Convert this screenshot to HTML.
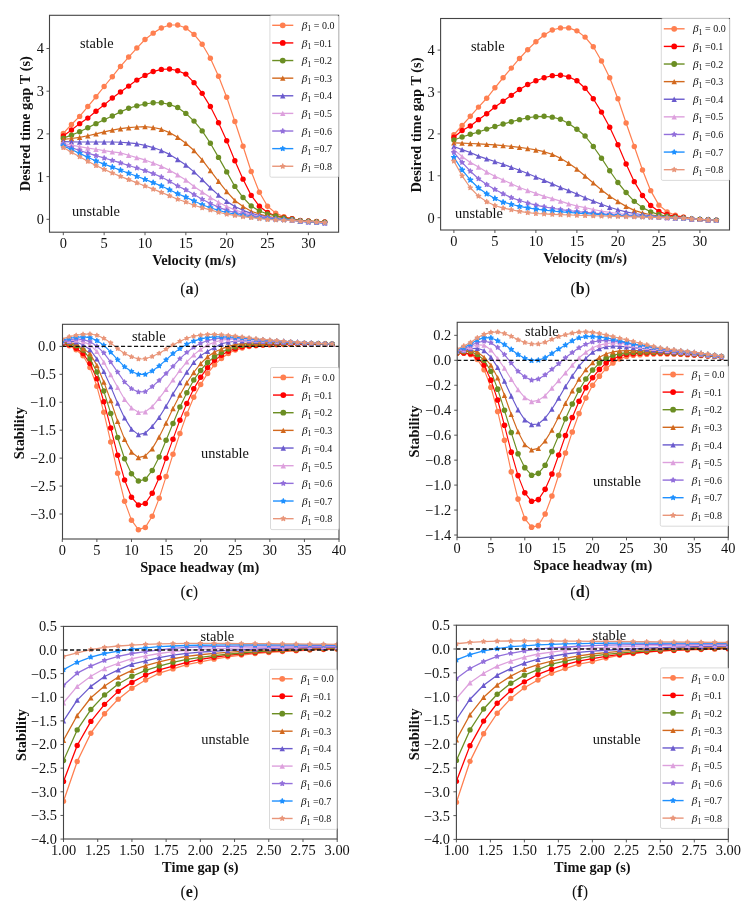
<!DOCTYPE html>
<html><head><meta charset="utf-8"><title>Figure</title>
<style>html,body{margin:0;padding:0;background:#fff;}svg{display:block;will-change:transform;}</style>
</head><body>
<svg width="754" height="911" viewBox="0 0 754 911">
<rect width="754" height="911" fill="#fff"/>
<clipPath id="clipa"><rect x="49.50" y="15.30" width="289.10" height="216.90"/></clipPath>
<g clip-path="url(#clipa)">
<polyline points="63.30,133.47 71.47,124.51 79.64,116.39 87.81,106.57 95.98,96.75 104.15,86.50 112.32,76.68 120.49,66.43 128.66,57.04 136.83,48.07 145.00,39.53 153.17,33.13 161.34,28.00 169.51,25.02 177.68,25.02 185.85,28.00 194.02,34.41 202.19,44.23 210.36,58.32 218.53,76.25 226.70,97.18 234.87,121.52 243.04,146.28 251.21,171.48 259.38,192.19 267.55,206.28 275.72,213.11 283.89,216.74 292.06,218.66 300.23,220.58 308.40,221.14 316.57,221.65 324.74,222.12" fill="none" stroke="#FF7F50" stroke-width="1.20" stroke-linejoin="round"/>
<circle cx="63.30" cy="133.47" r="2.70" fill="#FF7F50"/>
<circle cx="71.47" cy="124.51" r="2.70" fill="#FF7F50"/>
<circle cx="79.64" cy="116.39" r="2.70" fill="#FF7F50"/>
<circle cx="87.81" cy="106.57" r="2.70" fill="#FF7F50"/>
<circle cx="95.98" cy="96.75" r="2.70" fill="#FF7F50"/>
<circle cx="104.15" cy="86.50" r="2.70" fill="#FF7F50"/>
<circle cx="112.32" cy="76.68" r="2.70" fill="#FF7F50"/>
<circle cx="120.49" cy="66.43" r="2.70" fill="#FF7F50"/>
<circle cx="128.66" cy="57.04" r="2.70" fill="#FF7F50"/>
<circle cx="136.83" cy="48.07" r="2.70" fill="#FF7F50"/>
<circle cx="145.00" cy="39.53" r="2.70" fill="#FF7F50"/>
<circle cx="153.17" cy="33.13" r="2.70" fill="#FF7F50"/>
<circle cx="161.34" cy="28.00" r="2.70" fill="#FF7F50"/>
<circle cx="169.51" cy="25.02" r="2.70" fill="#FF7F50"/>
<circle cx="177.68" cy="25.02" r="2.70" fill="#FF7F50"/>
<circle cx="185.85" cy="28.00" r="2.70" fill="#FF7F50"/>
<circle cx="194.02" cy="34.41" r="2.70" fill="#FF7F50"/>
<circle cx="202.19" cy="44.23" r="2.70" fill="#FF7F50"/>
<circle cx="210.36" cy="58.32" r="2.70" fill="#FF7F50"/>
<circle cx="218.53" cy="76.25" r="2.70" fill="#FF7F50"/>
<circle cx="226.70" cy="97.18" r="2.70" fill="#FF7F50"/>
<circle cx="234.87" cy="121.52" r="2.70" fill="#FF7F50"/>
<circle cx="243.04" cy="146.28" r="2.70" fill="#FF7F50"/>
<circle cx="251.21" cy="171.48" r="2.70" fill="#FF7F50"/>
<circle cx="259.38" cy="192.19" r="2.70" fill="#FF7F50"/>
<circle cx="267.55" cy="206.28" r="2.70" fill="#FF7F50"/>
<circle cx="275.72" cy="213.11" r="2.70" fill="#FF7F50"/>
<circle cx="283.89" cy="216.74" r="2.70" fill="#FF7F50"/>
<circle cx="292.06" cy="218.66" r="2.70" fill="#FF7F50"/>
<circle cx="300.23" cy="220.58" r="2.70" fill="#FF7F50"/>
<circle cx="308.40" cy="221.14" r="2.70" fill="#FF7F50"/>
<circle cx="316.57" cy="221.65" r="2.70" fill="#FF7F50"/>
<circle cx="324.74" cy="222.12" r="2.70" fill="#FF7F50"/>
<polyline points="63.30,136.04 71.47,130.06 79.64,123.65 87.81,118.10 95.98,111.27 104.15,104.86 112.32,98.03 120.49,92.05 128.66,86.08 136.83,80.10 145.00,75.40 153.17,71.56 161.34,69.42 169.51,69.00 177.68,70.70 185.85,74.12 194.02,82.66 202.19,93.33 210.36,106.57 218.53,122.80 226.70,140.73 234.87,160.80 243.04,179.16 251.21,195.39 259.38,206.28 267.55,212.55 275.72,215.88 283.89,217.38 292.06,218.79 300.23,220.50 308.40,221.05 316.57,221.56 324.74,222.03" fill="none" stroke="#FF0000" stroke-width="1.20" stroke-linejoin="round"/>
<circle cx="63.30" cy="136.04" r="2.70" fill="#FF0000"/>
<circle cx="71.47" cy="130.06" r="2.70" fill="#FF0000"/>
<circle cx="79.64" cy="123.65" r="2.70" fill="#FF0000"/>
<circle cx="87.81" cy="118.10" r="2.70" fill="#FF0000"/>
<circle cx="95.98" cy="111.27" r="2.70" fill="#FF0000"/>
<circle cx="104.15" cy="104.86" r="2.70" fill="#FF0000"/>
<circle cx="112.32" cy="98.03" r="2.70" fill="#FF0000"/>
<circle cx="120.49" cy="92.05" r="2.70" fill="#FF0000"/>
<circle cx="128.66" cy="86.08" r="2.70" fill="#FF0000"/>
<circle cx="136.83" cy="80.10" r="2.70" fill="#FF0000"/>
<circle cx="145.00" cy="75.40" r="2.70" fill="#FF0000"/>
<circle cx="153.17" cy="71.56" r="2.70" fill="#FF0000"/>
<circle cx="161.34" cy="69.42" r="2.70" fill="#FF0000"/>
<circle cx="169.51" cy="69.00" r="2.70" fill="#FF0000"/>
<circle cx="177.68" cy="70.70" r="2.70" fill="#FF0000"/>
<circle cx="185.85" cy="74.12" r="2.70" fill="#FF0000"/>
<circle cx="194.02" cy="82.66" r="2.70" fill="#FF0000"/>
<circle cx="202.19" cy="93.33" r="2.70" fill="#FF0000"/>
<circle cx="210.36" cy="106.57" r="2.70" fill="#FF0000"/>
<circle cx="218.53" cy="122.80" r="2.70" fill="#FF0000"/>
<circle cx="226.70" cy="140.73" r="2.70" fill="#FF0000"/>
<circle cx="234.87" cy="160.80" r="2.70" fill="#FF0000"/>
<circle cx="243.04" cy="179.16" r="2.70" fill="#FF0000"/>
<circle cx="251.21" cy="195.39" r="2.70" fill="#FF0000"/>
<circle cx="259.38" cy="206.28" r="2.70" fill="#FF0000"/>
<circle cx="267.55" cy="212.55" r="2.70" fill="#FF0000"/>
<circle cx="275.72" cy="215.88" r="2.70" fill="#FF0000"/>
<circle cx="283.89" cy="217.38" r="2.70" fill="#FF0000"/>
<circle cx="292.06" cy="218.79" r="2.70" fill="#FF0000"/>
<circle cx="300.23" cy="220.50" r="2.70" fill="#FF0000"/>
<circle cx="308.40" cy="221.05" r="2.70" fill="#FF0000"/>
<circle cx="316.57" cy="221.56" r="2.70" fill="#FF0000"/>
<circle cx="324.74" cy="222.03" r="2.70" fill="#FF0000"/>
<polyline points="63.30,138.17 71.47,135.17 79.64,131.77 87.81,127.80 95.98,123.65 104.15,119.78 112.32,115.97 120.49,111.85 128.66,108.28 136.83,105.85 145.00,104.01 153.17,102.73 161.34,102.73 169.51,104.44 177.68,107.43 185.85,113.40 194.02,121.09 202.19,130.91 210.36,143.29 218.53,157.39 226.70,171.90 234.87,186.42 243.04,197.52 251.21,206.06 259.38,210.97 267.55,213.96 275.72,215.88 283.89,218.02 292.06,219.09 300.23,220.58 308.40,221.14 316.57,221.65 324.74,222.12" fill="none" stroke="#6B8E23" stroke-width="1.20" stroke-linejoin="round"/>
<circle cx="63.30" cy="138.17" r="2.70" fill="#6B8E23"/>
<circle cx="71.47" cy="135.17" r="2.70" fill="#6B8E23"/>
<circle cx="79.64" cy="131.77" r="2.70" fill="#6B8E23"/>
<circle cx="87.81" cy="127.80" r="2.70" fill="#6B8E23"/>
<circle cx="95.98" cy="123.65" r="2.70" fill="#6B8E23"/>
<circle cx="104.15" cy="119.78" r="2.70" fill="#6B8E23"/>
<circle cx="112.32" cy="115.97" r="2.70" fill="#6B8E23"/>
<circle cx="120.49" cy="111.85" r="2.70" fill="#6B8E23"/>
<circle cx="128.66" cy="108.28" r="2.70" fill="#6B8E23"/>
<circle cx="136.83" cy="105.85" r="2.70" fill="#6B8E23"/>
<circle cx="145.00" cy="104.01" r="2.70" fill="#6B8E23"/>
<circle cx="153.17" cy="102.73" r="2.70" fill="#6B8E23"/>
<circle cx="161.34" cy="102.73" r="2.70" fill="#6B8E23"/>
<circle cx="169.51" cy="104.44" r="2.70" fill="#6B8E23"/>
<circle cx="177.68" cy="107.43" r="2.70" fill="#6B8E23"/>
<circle cx="185.85" cy="113.40" r="2.70" fill="#6B8E23"/>
<circle cx="194.02" cy="121.09" r="2.70" fill="#6B8E23"/>
<circle cx="202.19" cy="130.91" r="2.70" fill="#6B8E23"/>
<circle cx="210.36" cy="143.29" r="2.70" fill="#6B8E23"/>
<circle cx="218.53" cy="157.39" r="2.70" fill="#6B8E23"/>
<circle cx="226.70" cy="171.90" r="2.70" fill="#6B8E23"/>
<circle cx="234.87" cy="186.42" r="2.70" fill="#6B8E23"/>
<circle cx="243.04" cy="197.52" r="2.70" fill="#6B8E23"/>
<circle cx="251.21" cy="206.06" r="2.70" fill="#6B8E23"/>
<circle cx="259.38" cy="210.97" r="2.70" fill="#6B8E23"/>
<circle cx="267.55" cy="213.96" r="2.70" fill="#6B8E23"/>
<circle cx="275.72" cy="215.88" r="2.70" fill="#6B8E23"/>
<circle cx="283.89" cy="218.02" r="2.70" fill="#6B8E23"/>
<circle cx="292.06" cy="219.09" r="2.70" fill="#6B8E23"/>
<circle cx="300.23" cy="220.58" r="2.70" fill="#6B8E23"/>
<circle cx="308.40" cy="221.14" r="2.70" fill="#6B8E23"/>
<circle cx="316.57" cy="221.65" r="2.70" fill="#6B8E23"/>
<circle cx="324.74" cy="222.12" r="2.70" fill="#6B8E23"/>
<polyline points="63.30,139.45 71.47,138.52 79.64,137.32 87.81,135.73 95.98,133.90 104.15,131.89 112.32,130.06 120.49,128.70 128.66,127.71 136.83,126.99 145.00,126.64 153.17,127.50 161.34,129.20 169.51,132.62 177.68,137.32 185.85,143.29 194.02,150.55 202.19,159.95 210.36,170.62 218.53,181.30 226.70,191.55 234.87,200.51 243.04,206.49 251.21,211.19 259.38,214.18 267.55,216.31 275.72,217.81 283.89,218.87 292.06,219.64 300.23,220.79 308.40,221.35 316.57,221.86 324.74,222.33" fill="none" stroke="#D2691E" stroke-width="1.20" stroke-linejoin="round"/>
<polygon points="63.30,136.75 60.60,142.15 66.00,142.15" fill="#D2691E"/>
<polygon points="71.47,135.82 68.77,141.22 74.17,141.22" fill="#D2691E"/>
<polygon points="79.64,134.62 76.94,140.02 82.34,140.02" fill="#D2691E"/>
<polygon points="87.81,133.03 85.11,138.43 90.51,138.43" fill="#D2691E"/>
<polygon points="95.98,131.20 93.28,136.60 98.68,136.60" fill="#D2691E"/>
<polygon points="104.15,129.19 101.45,134.59 106.85,134.59" fill="#D2691E"/>
<polygon points="112.32,127.36 109.62,132.76 115.02,132.76" fill="#D2691E"/>
<polygon points="120.49,126.00 117.79,131.40 123.19,131.40" fill="#D2691E"/>
<polygon points="128.66,125.01 125.96,130.41 131.36,130.41" fill="#D2691E"/>
<polygon points="136.83,124.29 134.13,129.69 139.53,129.69" fill="#D2691E"/>
<polygon points="145.00,123.94 142.30,129.34 147.70,129.34" fill="#D2691E"/>
<polygon points="153.17,124.80 150.47,130.19 155.87,130.19" fill="#D2691E"/>
<polygon points="161.34,126.50 158.64,131.90 164.04,131.90" fill="#D2691E"/>
<polygon points="169.51,129.92 166.81,135.32 172.21,135.32" fill="#D2691E"/>
<polygon points="177.68,134.62 174.98,140.02 180.38,140.02" fill="#D2691E"/>
<polygon points="185.85,140.59 183.15,145.99 188.55,145.99" fill="#D2691E"/>
<polygon points="194.02,147.85 191.32,153.25 196.72,153.25" fill="#D2691E"/>
<polygon points="202.19,157.25 199.49,162.65 204.89,162.65" fill="#D2691E"/>
<polygon points="210.36,167.92 207.66,173.32 213.06,173.32" fill="#D2691E"/>
<polygon points="218.53,178.60 215.83,184.00 221.23,184.00" fill="#D2691E"/>
<polygon points="226.70,188.85 224.00,194.25 229.40,194.25" fill="#D2691E"/>
<polygon points="234.87,197.81 232.17,203.21 237.57,203.21" fill="#D2691E"/>
<polygon points="243.04,203.79 240.34,209.19 245.74,209.19" fill="#D2691E"/>
<polygon points="251.21,208.49 248.51,213.89 253.91,213.89" fill="#D2691E"/>
<polygon points="259.38,211.48 256.68,216.88 262.08,216.88" fill="#D2691E"/>
<polygon points="267.55,213.61 264.85,219.01 270.25,219.01" fill="#D2691E"/>
<polygon points="275.72,215.11 273.02,220.51 278.42,220.51" fill="#D2691E"/>
<polygon points="283.89,216.17 281.19,221.57 286.59,221.57" fill="#D2691E"/>
<polygon points="292.06,216.94 289.36,222.34 294.76,222.34" fill="#D2691E"/>
<polygon points="300.23,218.09 297.53,223.49 302.93,223.49" fill="#D2691E"/>
<polygon points="308.40,218.65 305.70,224.05 311.10,224.05" fill="#D2691E"/>
<polygon points="316.57,219.16 313.87,224.56 319.27,224.56" fill="#D2691E"/>
<polygon points="324.74,219.63 322.04,225.03 327.44,225.03" fill="#D2691E"/>
<polyline points="63.30,141.59 71.47,141.88 79.64,142.01 87.81,142.01 95.98,142.01 104.15,142.01 112.32,142.01 120.49,142.23 128.66,142.87 136.83,143.72 145.00,145.43 153.17,147.56 161.34,150.55 169.51,154.40 177.68,159.52 185.85,165.07 194.02,171.90 202.19,179.59 210.36,187.70 218.53,195.17 226.70,201.37 234.87,206.49 243.04,210.33 251.21,213.32 259.38,215.46 267.55,217.17 275.72,218.45 283.89,219.30 292.06,219.94 300.23,221.01 308.40,221.56 316.57,222.08 324.74,222.55" fill="none" stroke="#6A5ACD" stroke-width="1.20" stroke-linejoin="round"/>
<polygon points="63.30,138.89 60.60,144.29 66.00,144.29" fill="#6A5ACD"/>
<polygon points="71.47,139.18 68.77,144.58 74.17,144.58" fill="#6A5ACD"/>
<polygon points="79.64,139.31 76.94,144.71 82.34,144.71" fill="#6A5ACD"/>
<polygon points="87.81,139.31 85.11,144.71 90.51,144.71" fill="#6A5ACD"/>
<polygon points="95.98,139.31 93.28,144.71 98.68,144.71" fill="#6A5ACD"/>
<polygon points="104.15,139.31 101.45,144.71 106.85,144.71" fill="#6A5ACD"/>
<polygon points="112.32,139.31 109.62,144.71 115.02,144.71" fill="#6A5ACD"/>
<polygon points="120.49,139.53 117.79,144.93 123.19,144.93" fill="#6A5ACD"/>
<polygon points="128.66,140.17 125.96,145.57 131.36,145.57" fill="#6A5ACD"/>
<polygon points="136.83,141.02 134.13,146.42 139.53,146.42" fill="#6A5ACD"/>
<polygon points="145.00,142.73 142.30,148.13 147.70,148.13" fill="#6A5ACD"/>
<polygon points="153.17,144.86 150.47,150.26 155.87,150.26" fill="#6A5ACD"/>
<polygon points="161.34,147.85 158.64,153.25 164.04,153.25" fill="#6A5ACD"/>
<polygon points="169.51,151.70 166.81,157.10 172.21,157.10" fill="#6A5ACD"/>
<polygon points="177.68,156.82 174.98,162.22 180.38,162.22" fill="#6A5ACD"/>
<polygon points="185.85,162.37 183.15,167.77 188.55,167.77" fill="#6A5ACD"/>
<polygon points="194.02,169.20 191.32,174.60 196.72,174.60" fill="#6A5ACD"/>
<polygon points="202.19,176.89 199.49,182.29 204.89,182.29" fill="#6A5ACD"/>
<polygon points="210.36,185.00 207.66,190.40 213.06,190.40" fill="#6A5ACD"/>
<polygon points="218.53,192.47 215.83,197.87 221.23,197.87" fill="#6A5ACD"/>
<polygon points="226.70,198.67 224.00,204.07 229.40,204.07" fill="#6A5ACD"/>
<polygon points="234.87,203.79 232.17,209.19 237.57,209.19" fill="#6A5ACD"/>
<polygon points="243.04,207.63 240.34,213.03 245.74,213.03" fill="#6A5ACD"/>
<polygon points="251.21,210.62 248.51,216.02 253.91,216.02" fill="#6A5ACD"/>
<polygon points="259.38,212.76 256.68,218.16 262.08,218.16" fill="#6A5ACD"/>
<polygon points="267.55,214.47 264.85,219.87 270.25,219.87" fill="#6A5ACD"/>
<polygon points="275.72,215.75 273.02,221.15 278.42,221.15" fill="#6A5ACD"/>
<polygon points="283.89,216.60 281.19,222.00 286.59,222.00" fill="#6A5ACD"/>
<polygon points="292.06,217.24 289.36,222.64 294.76,222.64" fill="#6A5ACD"/>
<polygon points="300.23,218.31 297.53,223.71 302.93,223.71" fill="#6A5ACD"/>
<polygon points="308.40,218.86 305.70,224.26 311.10,224.26" fill="#6A5ACD"/>
<polygon points="316.57,219.38 313.87,224.78 319.27,224.78" fill="#6A5ACD"/>
<polygon points="324.74,219.85 322.04,225.25 327.44,225.25" fill="#6A5ACD"/>
<polyline points="63.30,143.29 71.47,145.12 79.64,146.71 87.81,148.04 95.98,149.27 104.15,150.58 112.32,151.83 120.49,152.90 128.66,155.25 136.83,157.60 145.00,159.95 153.17,162.94 161.34,166.35 169.51,170.28 177.68,174.89 185.85,180.02 194.02,186.42 202.19,191.97 210.36,197.52 218.53,202.22 226.70,206.49 234.87,209.91 243.04,212.47 251.21,214.60 259.38,216.31 267.55,217.59 275.72,218.66 283.89,219.30 292.06,219.94 300.23,221.35 308.40,221.90 316.57,222.42 324.74,222.89" fill="none" stroke="#DDA0DD" stroke-width="1.20" stroke-linejoin="round"/>
<polygon points="63.30,140.59 60.60,145.99 66.00,145.99" fill="#DDA0DD"/>
<polygon points="71.47,142.42 68.77,147.82 74.17,147.82" fill="#DDA0DD"/>
<polygon points="79.64,144.01 76.94,149.41 82.34,149.41" fill="#DDA0DD"/>
<polygon points="87.81,145.34 85.11,150.74 90.51,150.74" fill="#DDA0DD"/>
<polygon points="95.98,146.57 93.28,151.97 98.68,151.97" fill="#DDA0DD"/>
<polygon points="104.15,147.88 101.45,153.28 106.85,153.28" fill="#DDA0DD"/>
<polygon points="112.32,149.13 109.62,154.53 115.02,154.53" fill="#DDA0DD"/>
<polygon points="120.49,150.20 117.79,155.60 123.19,155.60" fill="#DDA0DD"/>
<polygon points="128.66,152.55 125.96,157.95 131.36,157.95" fill="#DDA0DD"/>
<polygon points="136.83,154.90 134.13,160.30 139.53,160.30" fill="#DDA0DD"/>
<polygon points="145.00,157.25 142.30,162.65 147.70,162.65" fill="#DDA0DD"/>
<polygon points="153.17,160.24 150.47,165.64 155.87,165.64" fill="#DDA0DD"/>
<polygon points="161.34,163.65 158.64,169.05 164.04,169.05" fill="#DDA0DD"/>
<polygon points="169.51,167.58 166.81,172.98 172.21,172.98" fill="#DDA0DD"/>
<polygon points="177.68,172.19 174.98,177.59 180.38,177.59" fill="#DDA0DD"/>
<polygon points="185.85,177.32 183.15,182.72 188.55,182.72" fill="#DDA0DD"/>
<polygon points="194.02,183.72 191.32,189.12 196.72,189.12" fill="#DDA0DD"/>
<polygon points="202.19,189.27 199.49,194.67 204.89,194.67" fill="#DDA0DD"/>
<polygon points="210.36,194.82 207.66,200.22 213.06,200.22" fill="#DDA0DD"/>
<polygon points="218.53,199.52 215.83,204.92 221.23,204.92" fill="#DDA0DD"/>
<polygon points="226.70,203.79 224.00,209.19 229.40,209.19" fill="#DDA0DD"/>
<polygon points="234.87,207.21 232.17,212.61 237.57,212.61" fill="#DDA0DD"/>
<polygon points="243.04,209.77 240.34,215.17 245.74,215.17" fill="#DDA0DD"/>
<polygon points="251.21,211.90 248.51,217.30 253.91,217.30" fill="#DDA0DD"/>
<polygon points="259.38,213.61 256.68,219.01 262.08,219.01" fill="#DDA0DD"/>
<polygon points="267.55,214.89 264.85,220.29 270.25,220.29" fill="#DDA0DD"/>
<polygon points="275.72,215.96 273.02,221.36 278.42,221.36" fill="#DDA0DD"/>
<polygon points="283.89,216.60 281.19,222.00 286.59,222.00" fill="#DDA0DD"/>
<polygon points="292.06,217.24 289.36,222.64 294.76,222.64" fill="#DDA0DD"/>
<polygon points="300.23,218.65 297.53,224.05 302.93,224.05" fill="#DDA0DD"/>
<polygon points="308.40,219.20 305.70,224.60 311.10,224.60" fill="#DDA0DD"/>
<polygon points="316.57,219.72 313.87,225.12 319.27,225.12" fill="#DDA0DD"/>
<polygon points="324.74,220.19 322.04,225.59 327.44,225.59" fill="#DDA0DD"/>
<polyline points="63.30,144.57 71.47,147.68 79.64,150.55 87.81,153.19 95.98,155.68 104.15,158.03 112.32,160.37 120.49,162.91 128.66,165.50 136.83,167.99 145.00,170.62 153.17,173.61 161.34,177.03 169.51,181.30 177.68,185.99 185.85,189.84 194.02,194.53 202.19,199.23 210.36,203.50 218.53,207.13 226.70,210.33 234.87,212.47 243.04,214.18 251.21,215.88 259.38,217.17 267.55,218.02 275.72,218.87 283.89,219.51 292.06,220.07 300.23,221.52 308.40,222.08 316.57,222.59 324.74,223.06" fill="none" stroke="#9370DB" stroke-width="1.20" stroke-linejoin="round"/>
<polygon points="63.30,142.28 62.78,143.87 61.12,143.87 62.47,144.85 61.95,146.43 63.30,145.45 64.65,146.43 64.13,144.85 65.48,143.87 63.82,143.87" fill="#9370DB" stroke="#9370DB" stroke-width="1.25" stroke-linejoin="round"/>
<polygon points="71.47,145.38 70.95,146.97 69.29,146.97 70.64,147.95 70.12,149.53 71.47,148.55 72.82,149.53 72.30,147.95 73.65,146.97 71.99,146.97" fill="#9370DB" stroke="#9370DB" stroke-width="1.25" stroke-linejoin="round"/>
<polygon points="79.64,148.26 79.12,149.84 77.46,149.84 78.81,150.82 78.29,152.41 79.64,151.43 80.99,152.41 80.47,150.82 81.82,149.84 80.16,149.84" fill="#9370DB" stroke="#9370DB" stroke-width="1.25" stroke-linejoin="round"/>
<polygon points="87.81,150.90 87.29,152.48 85.63,152.48 86.98,153.46 86.46,155.05 87.81,154.07 89.16,155.05 88.64,153.46 89.99,152.48 88.33,152.48" fill="#9370DB" stroke="#9370DB" stroke-width="1.25" stroke-linejoin="round"/>
<polygon points="95.98,153.38 95.46,154.97 93.80,154.97 95.15,155.95 94.63,157.53 95.98,156.55 97.33,157.53 96.81,155.95 98.16,154.97 96.50,154.97" fill="#9370DB" stroke="#9370DB" stroke-width="1.25" stroke-linejoin="round"/>
<polygon points="104.15,155.73 103.63,157.32 101.97,157.32 103.32,158.30 102.80,159.88 104.15,158.90 105.50,159.88 104.98,158.30 106.33,157.32 104.67,157.32" fill="#9370DB" stroke="#9370DB" stroke-width="1.25" stroke-linejoin="round"/>
<polygon points="112.32,158.08 111.80,159.66 110.14,159.66 111.49,160.64 110.97,162.23 112.32,161.25 113.67,162.23 113.15,160.64 114.50,159.66 112.84,159.66" fill="#9370DB" stroke="#9370DB" stroke-width="1.25" stroke-linejoin="round"/>
<polygon points="120.49,160.61 119.97,162.20 118.31,162.20 119.66,163.18 119.14,164.76 120.49,163.78 121.84,164.76 121.32,163.18 122.67,162.20 121.01,162.20" fill="#9370DB" stroke="#9370DB" stroke-width="1.25" stroke-linejoin="round"/>
<polygon points="128.66,163.20 128.14,164.79 126.48,164.79 127.83,165.77 127.31,167.35 128.66,166.37 130.01,167.35 129.49,165.77 130.84,164.79 129.18,164.79" fill="#9370DB" stroke="#9370DB" stroke-width="1.25" stroke-linejoin="round"/>
<polygon points="136.83,165.69 136.31,167.28 134.65,167.28 136.00,168.26 135.48,169.84 136.83,168.86 138.18,169.84 137.66,168.26 139.01,167.28 137.35,167.28" fill="#9370DB" stroke="#9370DB" stroke-width="1.25" stroke-linejoin="round"/>
<polygon points="145.00,168.33 144.48,169.91 142.82,169.91 144.17,170.89 143.65,172.48 145.00,171.50 146.35,172.48 145.83,170.89 147.18,169.91 145.52,169.91" fill="#9370DB" stroke="#9370DB" stroke-width="1.25" stroke-linejoin="round"/>
<polygon points="153.17,171.31 152.65,172.90 150.99,172.90 152.34,173.88 151.82,175.46 153.17,174.48 154.52,175.46 154.00,173.88 155.35,172.90 153.69,172.90" fill="#9370DB" stroke="#9370DB" stroke-width="1.25" stroke-linejoin="round"/>
<polygon points="161.34,174.73 160.82,176.32 159.16,176.32 160.51,177.30 159.99,178.88 161.34,177.90 162.69,178.88 162.17,177.30 163.52,176.32 161.86,176.32" fill="#9370DB" stroke="#9370DB" stroke-width="1.25" stroke-linejoin="round"/>
<polygon points="169.51,179.00 168.99,180.59 167.33,180.59 168.68,181.57 168.16,183.15 169.51,182.17 170.86,183.15 170.34,181.57 171.69,180.59 170.03,180.59" fill="#9370DB" stroke="#9370DB" stroke-width="1.25" stroke-linejoin="round"/>
<polygon points="177.68,183.70 177.16,185.28 175.50,185.28 176.85,186.26 176.33,187.85 177.68,186.87 179.03,187.85 178.51,186.26 179.86,185.28 178.20,185.28" fill="#9370DB" stroke="#9370DB" stroke-width="1.25" stroke-linejoin="round"/>
<polygon points="185.85,187.54 185.33,189.13 183.67,189.13 185.02,190.11 184.50,191.69 185.85,190.71 187.20,191.69 186.68,190.11 188.03,189.13 186.37,189.13" fill="#9370DB" stroke="#9370DB" stroke-width="1.25" stroke-linejoin="round"/>
<polygon points="194.02,192.24 193.50,193.82 191.84,193.82 193.19,194.80 192.67,196.39 194.02,195.41 195.37,196.39 194.85,194.80 196.20,193.82 194.54,193.82" fill="#9370DB" stroke="#9370DB" stroke-width="1.25" stroke-linejoin="round"/>
<polygon points="202.19,196.94 201.67,198.52 200.01,198.52 201.36,199.50 200.84,201.09 202.19,200.11 203.54,201.09 203.02,199.50 204.37,198.52 202.71,198.52" fill="#9370DB" stroke="#9370DB" stroke-width="1.25" stroke-linejoin="round"/>
<polygon points="210.36,201.21 209.84,202.79 208.18,202.79 209.53,203.77 209.01,205.36 210.36,204.38 211.71,205.36 211.19,203.77 212.54,202.79 210.88,202.79" fill="#9370DB" stroke="#9370DB" stroke-width="1.25" stroke-linejoin="round"/>
<polygon points="218.53,204.84 218.01,206.42 216.35,206.42 217.70,207.40 217.18,208.99 218.53,208.01 219.88,208.99 219.36,207.40 220.71,206.42 219.05,206.42" fill="#9370DB" stroke="#9370DB" stroke-width="1.25" stroke-linejoin="round"/>
<polygon points="226.70,208.04 226.18,209.62 224.52,209.62 225.87,210.60 225.35,212.19 226.70,211.21 228.05,212.19 227.53,210.60 228.88,209.62 227.22,209.62" fill="#9370DB" stroke="#9370DB" stroke-width="1.25" stroke-linejoin="round"/>
<polygon points="234.87,210.17 234.35,211.76 232.69,211.76 234.04,212.74 233.52,214.32 234.87,213.34 236.22,214.32 235.70,212.74 237.05,211.76 235.39,211.76" fill="#9370DB" stroke="#9370DB" stroke-width="1.25" stroke-linejoin="round"/>
<polygon points="243.04,211.88 242.52,213.47 240.86,213.47 242.21,214.45 241.69,216.03 243.04,215.05 244.39,216.03 243.87,214.45 245.22,213.47 243.56,213.47" fill="#9370DB" stroke="#9370DB" stroke-width="1.25" stroke-linejoin="round"/>
<polygon points="251.21,213.59 250.69,215.17 249.03,215.17 250.38,216.15 249.86,217.74 251.21,216.76 252.56,217.74 252.04,216.15 253.39,215.17 251.73,215.17" fill="#9370DB" stroke="#9370DB" stroke-width="1.25" stroke-linejoin="round"/>
<polygon points="259.38,214.87 258.86,216.46 257.20,216.46 258.55,217.44 258.03,219.02 259.38,218.04 260.73,219.02 260.21,217.44 261.56,216.46 259.90,216.46" fill="#9370DB" stroke="#9370DB" stroke-width="1.25" stroke-linejoin="round"/>
<polygon points="267.55,215.72 267.03,217.31 265.37,217.31 266.72,218.29 266.20,219.88 267.55,218.90 268.90,219.88 268.38,218.29 269.73,217.31 268.07,217.31" fill="#9370DB" stroke="#9370DB" stroke-width="1.25" stroke-linejoin="round"/>
<polygon points="275.72,216.58 275.20,218.16 273.54,218.16 274.89,219.14 274.37,220.73 275.72,219.75 277.07,220.73 276.55,219.14 277.90,218.16 276.24,218.16" fill="#9370DB" stroke="#9370DB" stroke-width="1.25" stroke-linejoin="round"/>
<polygon points="283.89,217.22 283.37,218.80 281.71,218.80 283.06,219.78 282.54,221.37 283.89,220.39 285.24,221.37 284.72,219.78 286.07,218.80 284.41,218.80" fill="#9370DB" stroke="#9370DB" stroke-width="1.25" stroke-linejoin="round"/>
<polygon points="292.06,217.77 291.54,219.36 289.88,219.36 291.23,220.34 290.71,221.93 292.06,220.95 293.41,221.93 292.89,220.34 294.24,219.36 292.58,219.36" fill="#9370DB" stroke="#9370DB" stroke-width="1.25" stroke-linejoin="round"/>
<polygon points="300.23,219.23 299.71,220.81 298.05,220.81 299.40,221.79 298.88,223.38 300.23,222.40 301.58,223.38 301.06,221.79 302.41,220.81 300.75,220.81" fill="#9370DB" stroke="#9370DB" stroke-width="1.25" stroke-linejoin="round"/>
<polygon points="308.40,219.78 307.88,221.37 306.22,221.37 307.57,222.35 307.05,223.93 308.40,222.95 309.75,223.93 309.23,222.35 310.58,221.37 308.92,221.37" fill="#9370DB" stroke="#9370DB" stroke-width="1.25" stroke-linejoin="round"/>
<polygon points="316.57,220.29 316.05,221.88 314.39,221.88 315.74,222.86 315.22,224.44 316.57,223.46 317.92,224.44 317.40,222.86 318.75,221.88 317.09,221.88" fill="#9370DB" stroke="#9370DB" stroke-width="1.25" stroke-linejoin="round"/>
<polygon points="324.74,220.76 324.22,222.35 322.56,222.35 323.91,223.33 323.39,224.91 324.74,223.93 326.09,224.91 325.57,223.33 326.92,222.35 325.26,222.35" fill="#9370DB" stroke="#9370DB" stroke-width="1.25" stroke-linejoin="round"/>
<polyline points="63.30,145.86 71.47,149.57 79.64,153.33 87.81,157.27 95.98,161.01 104.15,164.15 112.32,167.12 120.49,170.20 128.66,173.27 136.83,176.29 145.00,179.38 153.17,182.59 161.34,185.99 169.51,189.83 177.68,193.68 185.85,197.10 194.02,200.94 202.19,204.78 210.36,207.77 218.53,210.33 226.70,212.47 234.87,214.18 243.04,215.67 251.21,216.95 259.38,218.02 267.55,218.87 275.72,219.30 283.89,219.73 292.06,220.15 300.23,221.26 308.40,221.82 316.57,222.33 324.74,222.80" fill="none" stroke="#1E90FF" stroke-width="1.20" stroke-linejoin="round"/>
<polygon points="63.30,143.29 62.72,145.06 60.86,145.06 62.37,146.16 61.79,147.93 63.30,146.84 64.81,147.93 64.23,146.16 65.74,145.06 63.88,145.06" fill="#1E90FF" stroke="#1E90FF" stroke-width="1.25" stroke-linejoin="round"/>
<polygon points="71.47,147.00 70.89,148.77 69.03,148.77 70.54,149.87 69.96,151.64 71.47,150.55 72.98,151.64 72.40,149.87 73.91,148.77 72.05,148.77" fill="#1E90FF" stroke="#1E90FF" stroke-width="1.25" stroke-linejoin="round"/>
<polygon points="79.64,150.76 79.06,152.54 77.20,152.54 78.71,153.63 78.13,155.40 79.64,154.31 81.15,155.40 80.57,153.63 82.08,152.54 80.22,152.54" fill="#1E90FF" stroke="#1E90FF" stroke-width="1.25" stroke-linejoin="round"/>
<polygon points="87.81,154.70 87.23,156.48 85.37,156.48 86.88,157.57 86.30,159.34 87.81,158.25 89.32,159.34 88.74,157.57 90.25,156.48 88.39,156.48" fill="#1E90FF" stroke="#1E90FF" stroke-width="1.25" stroke-linejoin="round"/>
<polygon points="95.98,158.45 95.40,160.22 93.54,160.22 95.05,161.32 94.47,163.09 95.98,161.99 97.49,163.09 96.91,161.32 98.42,160.22 96.56,160.22" fill="#1E90FF" stroke="#1E90FF" stroke-width="1.25" stroke-linejoin="round"/>
<polygon points="104.15,161.59 103.57,163.36 101.71,163.36 103.22,164.46 102.64,166.23 104.15,165.13 105.66,166.23 105.08,164.46 106.59,163.36 104.73,163.36" fill="#1E90FF" stroke="#1E90FF" stroke-width="1.25" stroke-linejoin="round"/>
<polygon points="112.32,164.56 111.74,166.33 109.88,166.33 111.39,167.42 110.81,169.20 112.32,168.10 113.83,169.20 113.25,167.42 114.76,166.33 112.90,166.33" fill="#1E90FF" stroke="#1E90FF" stroke-width="1.25" stroke-linejoin="round"/>
<polygon points="120.49,167.63 119.91,169.40 118.05,169.40 119.56,170.50 118.98,172.27 120.49,171.17 122.00,172.27 121.42,170.50 122.93,169.40 121.07,169.40" fill="#1E90FF" stroke="#1E90FF" stroke-width="1.25" stroke-linejoin="round"/>
<polygon points="128.66,170.70 128.08,172.48 126.22,172.48 127.73,173.57 127.15,175.34 128.66,174.25 130.17,175.34 129.59,173.57 131.10,172.48 129.24,172.48" fill="#1E90FF" stroke="#1E90FF" stroke-width="1.25" stroke-linejoin="round"/>
<polygon points="136.83,173.73 136.25,175.50 134.39,175.50 135.90,176.60 135.32,178.37 136.83,177.27 138.34,178.37 137.76,176.60 139.27,175.50 137.41,175.50" fill="#1E90FF" stroke="#1E90FF" stroke-width="1.25" stroke-linejoin="round"/>
<polygon points="145.00,176.81 144.42,178.58 142.56,178.58 144.07,179.68 143.49,181.45 145.00,180.36 146.51,181.45 145.93,179.68 147.44,178.58 145.58,178.58" fill="#1E90FF" stroke="#1E90FF" stroke-width="1.25" stroke-linejoin="round"/>
<polygon points="153.17,180.03 152.59,181.80 150.73,181.80 152.24,182.89 151.66,184.67 153.17,183.57 154.68,184.67 154.10,182.89 155.61,181.80 153.75,181.80" fill="#1E90FF" stroke="#1E90FF" stroke-width="1.25" stroke-linejoin="round"/>
<polygon points="161.34,183.43 160.76,185.20 158.90,185.20 160.41,186.30 159.83,188.07 161.34,186.97 162.85,188.07 162.27,186.30 163.78,185.20 161.92,185.20" fill="#1E90FF" stroke="#1E90FF" stroke-width="1.25" stroke-linejoin="round"/>
<polygon points="169.51,187.26 168.93,189.04 167.07,189.04 168.58,190.13 168.00,191.90 169.51,190.81 171.02,191.90 170.44,190.13 171.95,189.04 170.09,189.04" fill="#1E90FF" stroke="#1E90FF" stroke-width="1.25" stroke-linejoin="round"/>
<polygon points="177.68,191.12 177.10,192.89 175.24,192.89 176.75,193.98 176.17,195.76 177.68,194.66 179.19,195.76 178.61,193.98 180.12,192.89 178.26,192.89" fill="#1E90FF" stroke="#1E90FF" stroke-width="1.25" stroke-linejoin="round"/>
<polygon points="185.85,194.53 185.27,196.30 183.41,196.30 184.92,197.40 184.34,199.17 185.85,198.08 187.36,199.17 186.78,197.40 188.29,196.30 186.43,196.30" fill="#1E90FF" stroke="#1E90FF" stroke-width="1.25" stroke-linejoin="round"/>
<polygon points="194.02,198.37 193.44,200.15 191.58,200.15 193.09,201.24 192.51,203.01 194.02,201.92 195.53,203.01 194.95,201.24 196.46,200.15 194.60,200.15" fill="#1E90FF" stroke="#1E90FF" stroke-width="1.25" stroke-linejoin="round"/>
<polygon points="202.19,202.22 201.61,203.99 199.75,203.99 201.26,205.08 200.68,206.86 202.19,205.76 203.70,206.86 203.12,205.08 204.63,203.99 202.77,203.99" fill="#1E90FF" stroke="#1E90FF" stroke-width="1.25" stroke-linejoin="round"/>
<polygon points="210.36,205.21 209.78,206.98 207.92,206.98 209.43,208.07 208.85,209.85 210.36,208.75 211.87,209.85 211.29,208.07 212.80,206.98 210.94,206.98" fill="#1E90FF" stroke="#1E90FF" stroke-width="1.25" stroke-linejoin="round"/>
<polygon points="218.53,207.77 217.95,209.54 216.09,209.54 217.60,210.64 217.02,212.41 218.53,211.31 220.04,212.41 219.46,210.64 220.97,209.54 219.11,209.54" fill="#1E90FF" stroke="#1E90FF" stroke-width="1.25" stroke-linejoin="round"/>
<polygon points="226.70,209.90 226.12,211.68 224.26,211.68 225.77,212.77 225.19,214.54 226.70,213.45 228.21,214.54 227.63,212.77 229.14,211.68 227.28,211.68" fill="#1E90FF" stroke="#1E90FF" stroke-width="1.25" stroke-linejoin="round"/>
<polygon points="234.87,211.61 234.29,213.38 232.43,213.38 233.94,214.48 233.36,216.25 234.87,215.16 236.38,216.25 235.80,214.48 237.31,213.38 235.45,213.38" fill="#1E90FF" stroke="#1E90FF" stroke-width="1.25" stroke-linejoin="round"/>
<polygon points="243.04,213.11 242.46,214.88 240.60,214.88 242.11,215.97 241.53,217.75 243.04,216.65 244.55,217.75 243.97,215.97 245.48,214.88 243.62,214.88" fill="#1E90FF" stroke="#1E90FF" stroke-width="1.25" stroke-linejoin="round"/>
<polygon points="251.21,214.39 250.63,216.16 248.77,216.16 250.28,217.25 249.70,219.03 251.21,217.93 252.72,219.03 252.14,217.25 253.65,216.16 251.79,216.16" fill="#1E90FF" stroke="#1E90FF" stroke-width="1.25" stroke-linejoin="round"/>
<polygon points="259.38,215.45 258.80,217.23 256.94,217.23 258.45,218.32 257.87,220.09 259.38,219.00 260.89,220.09 260.31,218.32 261.82,217.23 259.96,217.23" fill="#1E90FF" stroke="#1E90FF" stroke-width="1.25" stroke-linejoin="round"/>
<polygon points="267.55,216.31 266.97,218.08 265.11,218.08 266.62,219.18 266.04,220.95 267.55,219.85 269.06,220.95 268.48,219.18 269.99,218.08 268.13,218.08" fill="#1E90FF" stroke="#1E90FF" stroke-width="1.25" stroke-linejoin="round"/>
<polygon points="275.72,216.74 275.14,218.51 273.28,218.51 274.79,219.60 274.21,221.38 275.72,220.28 277.23,221.38 276.65,219.60 278.16,218.51 276.30,218.51" fill="#1E90FF" stroke="#1E90FF" stroke-width="1.25" stroke-linejoin="round"/>
<polygon points="283.89,217.16 283.31,218.93 281.45,218.93 282.96,220.03 282.38,221.80 283.89,220.71 285.40,221.80 284.82,220.03 286.33,218.93 284.47,218.93" fill="#1E90FF" stroke="#1E90FF" stroke-width="1.25" stroke-linejoin="round"/>
<polygon points="292.06,217.59 291.48,219.36 289.62,219.36 291.13,220.46 290.55,222.23 292.06,221.13 293.57,222.23 292.99,220.46 294.50,219.36 292.64,219.36" fill="#1E90FF" stroke="#1E90FF" stroke-width="1.25" stroke-linejoin="round"/>
<polygon points="300.23,218.70 299.65,220.47 297.79,220.47 299.30,221.57 298.72,223.34 300.23,222.24 301.74,223.34 301.16,221.57 302.67,220.47 300.81,220.47" fill="#1E90FF" stroke="#1E90FF" stroke-width="1.25" stroke-linejoin="round"/>
<polygon points="308.40,219.25 307.82,221.03 305.96,221.03 307.47,222.12 306.89,223.89 308.40,222.80 309.91,223.89 309.33,222.12 310.84,221.03 308.98,221.03" fill="#1E90FF" stroke="#1E90FF" stroke-width="1.25" stroke-linejoin="round"/>
<polygon points="316.57,219.77 315.99,221.54 314.13,221.54 315.64,222.63 315.06,224.41 316.57,223.31 318.08,224.41 317.50,222.63 319.01,221.54 317.15,221.54" fill="#1E90FF" stroke="#1E90FF" stroke-width="1.25" stroke-linejoin="round"/>
<polygon points="324.74,220.24 324.16,222.01 322.30,222.01 323.81,223.10 323.23,224.88 324.74,223.78 326.25,224.88 325.67,223.10 327.18,222.01 325.32,222.01" fill="#1E90FF" stroke="#1E90FF" stroke-width="1.25" stroke-linejoin="round"/>
<polyline points="63.30,147.56 71.47,152.20 79.64,156.74 87.81,161.28 95.98,165.58 104.15,169.41 112.32,172.97 120.49,176.34 128.66,179.59 136.83,182.80 145.00,185.99 153.17,189.17 161.34,192.40 169.51,195.81 177.68,199.23 185.85,202.01 194.02,205.21 202.19,207.77 210.36,209.91 218.53,212.25 226.70,214.18 234.87,215.46 243.04,216.74 251.21,217.59 259.38,218.66 267.55,219.51 275.72,219.94 283.89,220.24 292.06,220.45 300.23,221.09 308.40,221.65 316.57,222.16 324.74,222.63" fill="none" stroke="#E9967A" stroke-width="1.20" stroke-linejoin="round"/>
<polygon points="63.30,145.27 62.78,146.85 61.12,146.85 62.47,147.83 61.95,149.42 63.30,148.44 64.65,149.42 64.13,147.83 65.48,146.85 63.82,146.85" fill="#E9967A" stroke="#E9967A" stroke-width="1.25" stroke-linejoin="round"/>
<polygon points="71.47,149.90 70.95,151.49 69.29,151.49 70.64,152.47 70.12,154.05 71.47,153.07 72.82,154.05 72.30,152.47 73.65,151.49 71.99,151.49" fill="#E9967A" stroke="#E9967A" stroke-width="1.25" stroke-linejoin="round"/>
<polygon points="79.64,154.45 79.12,156.04 77.46,156.04 78.81,157.02 78.29,158.60 79.64,157.62 80.99,158.60 80.47,157.02 81.82,156.04 80.16,156.04" fill="#E9967A" stroke="#E9967A" stroke-width="1.25" stroke-linejoin="round"/>
<polygon points="87.81,158.99 87.29,160.57 85.63,160.57 86.98,161.55 86.46,163.14 87.81,162.16 89.16,163.14 88.64,161.55 89.99,160.57 88.33,160.57" fill="#E9967A" stroke="#E9967A" stroke-width="1.25" stroke-linejoin="round"/>
<polygon points="95.98,163.29 95.46,164.87 93.80,164.87 95.15,165.85 94.63,167.44 95.98,166.46 97.33,167.44 96.81,165.85 98.16,164.87 96.50,164.87" fill="#E9967A" stroke="#E9967A" stroke-width="1.25" stroke-linejoin="round"/>
<polygon points="104.15,167.11 103.63,168.70 101.97,168.70 103.32,169.68 102.80,171.27 104.15,170.29 105.50,171.27 104.98,169.68 106.33,168.70 104.67,168.70" fill="#E9967A" stroke="#E9967A" stroke-width="1.25" stroke-linejoin="round"/>
<polygon points="112.32,170.68 111.80,172.26 110.14,172.26 111.49,173.24 110.97,174.83 112.32,173.85 113.67,174.83 113.15,173.24 114.50,172.26 112.84,172.26" fill="#E9967A" stroke="#E9967A" stroke-width="1.25" stroke-linejoin="round"/>
<polygon points="120.49,174.04 119.97,175.63 118.31,175.63 119.66,176.61 119.14,178.20 120.49,177.22 121.84,178.20 121.32,176.61 122.67,175.63 121.01,175.63" fill="#E9967A" stroke="#E9967A" stroke-width="1.25" stroke-linejoin="round"/>
<polygon points="128.66,177.29 128.14,178.88 126.48,178.88 127.83,179.86 127.31,181.45 128.66,180.47 130.01,181.45 129.49,179.86 130.84,178.88 129.18,178.88" fill="#E9967A" stroke="#E9967A" stroke-width="1.25" stroke-linejoin="round"/>
<polygon points="136.83,180.51 136.31,182.10 134.65,182.10 136.00,183.08 135.48,184.66 136.83,183.68 138.18,184.66 137.66,183.08 139.01,182.10 137.35,182.10" fill="#E9967A" stroke="#E9967A" stroke-width="1.25" stroke-linejoin="round"/>
<polygon points="145.00,183.70 144.48,185.28 142.82,185.28 144.17,186.26 143.65,187.85 145.00,186.87 146.35,187.85 145.83,186.26 147.18,185.28 145.52,185.28" fill="#E9967A" stroke="#E9967A" stroke-width="1.25" stroke-linejoin="round"/>
<polygon points="153.17,186.87 152.65,188.46 150.99,188.46 152.34,189.44 151.82,191.02 153.17,190.04 154.52,191.02 154.00,189.44 155.35,188.46 153.69,188.46" fill="#E9967A" stroke="#E9967A" stroke-width="1.25" stroke-linejoin="round"/>
<polygon points="161.34,190.10 160.82,191.69 159.16,191.69 160.51,192.67 159.99,194.26 161.34,193.28 162.69,194.26 162.17,192.67 163.52,191.69 161.86,191.69" fill="#E9967A" stroke="#E9967A" stroke-width="1.25" stroke-linejoin="round"/>
<polygon points="169.51,193.52 168.99,195.11 167.33,195.11 168.68,196.09 168.16,197.67 169.51,196.69 170.86,197.67 170.34,196.09 171.69,195.11 170.03,195.11" fill="#E9967A" stroke="#E9967A" stroke-width="1.25" stroke-linejoin="round"/>
<polygon points="177.68,196.94 177.16,198.52 175.50,198.52 176.85,199.50 176.33,201.09 177.68,200.11 179.03,201.09 178.51,199.50 179.86,198.52 178.20,198.52" fill="#E9967A" stroke="#E9967A" stroke-width="1.25" stroke-linejoin="round"/>
<polygon points="185.85,199.71 185.33,201.30 183.67,201.30 185.02,202.28 184.50,203.86 185.85,202.88 187.20,203.86 186.68,202.28 188.03,201.30 186.37,201.30" fill="#E9967A" stroke="#E9967A" stroke-width="1.25" stroke-linejoin="round"/>
<polygon points="194.02,202.91 193.50,204.50 191.84,204.50 193.19,205.48 192.67,207.07 194.02,206.09 195.37,207.07 194.85,205.48 196.20,204.50 194.54,204.50" fill="#E9967A" stroke="#E9967A" stroke-width="1.25" stroke-linejoin="round"/>
<polygon points="202.19,205.48 201.67,207.06 200.01,207.06 201.36,208.04 200.84,209.63 202.19,208.65 203.54,209.63 203.02,208.04 204.37,207.06 202.71,207.06" fill="#E9967A" stroke="#E9967A" stroke-width="1.25" stroke-linejoin="round"/>
<polygon points="210.36,207.61 209.84,209.20 208.18,209.20 209.53,210.18 209.01,211.76 210.36,210.78 211.71,211.76 211.19,210.18 212.54,209.20 210.88,209.20" fill="#E9967A" stroke="#E9967A" stroke-width="1.25" stroke-linejoin="round"/>
<polygon points="218.53,209.96 218.01,211.55 216.35,211.55 217.70,212.53 217.18,214.11 218.53,213.13 219.88,214.11 219.36,212.53 220.71,211.55 219.05,211.55" fill="#E9967A" stroke="#E9967A" stroke-width="1.25" stroke-linejoin="round"/>
<polygon points="226.70,211.88 226.18,213.47 224.52,213.47 225.87,214.45 225.35,216.03 226.70,215.05 228.05,216.03 227.53,214.45 228.88,213.47 227.22,213.47" fill="#E9967A" stroke="#E9967A" stroke-width="1.25" stroke-linejoin="round"/>
<polygon points="234.87,213.16 234.35,214.75 232.69,214.75 234.04,215.73 233.52,217.31 234.87,216.33 236.22,217.31 235.70,215.73 237.05,214.75 235.39,214.75" fill="#E9967A" stroke="#E9967A" stroke-width="1.25" stroke-linejoin="round"/>
<polygon points="243.04,214.44 242.52,216.03 240.86,216.03 242.21,217.01 241.69,218.59 243.04,217.61 244.39,218.59 243.87,217.01 245.22,216.03 243.56,216.03" fill="#E9967A" stroke="#E9967A" stroke-width="1.25" stroke-linejoin="round"/>
<polygon points="251.21,215.30 250.69,216.88 249.03,216.88 250.38,217.86 249.86,219.45 251.21,218.47 252.56,219.45 252.04,217.86 253.39,216.88 251.73,216.88" fill="#E9967A" stroke="#E9967A" stroke-width="1.25" stroke-linejoin="round"/>
<polygon points="259.38,216.36 258.86,217.95 257.20,217.95 258.55,218.93 258.03,220.52 259.38,219.54 260.73,220.52 260.21,218.93 261.56,217.95 259.90,217.95" fill="#E9967A" stroke="#E9967A" stroke-width="1.25" stroke-linejoin="round"/>
<polygon points="267.55,217.22 267.03,218.80 265.37,218.80 266.72,219.78 266.20,221.37 267.55,220.39 268.90,221.37 268.38,219.78 269.73,218.80 268.07,218.80" fill="#E9967A" stroke="#E9967A" stroke-width="1.25" stroke-linejoin="round"/>
<polygon points="275.72,217.65 275.20,219.23 273.54,219.23 274.89,220.21 274.37,221.80 275.72,220.82 277.07,221.80 276.55,220.21 277.90,219.23 276.24,219.23" fill="#E9967A" stroke="#E9967A" stroke-width="1.25" stroke-linejoin="round"/>
<polygon points="283.89,217.94 283.37,219.53 281.71,219.53 283.06,220.51 282.54,222.10 283.89,221.12 285.24,222.10 284.72,220.51 286.07,219.53 284.41,219.53" fill="#E9967A" stroke="#E9967A" stroke-width="1.25" stroke-linejoin="round"/>
<polygon points="292.06,218.16 291.54,219.74 289.88,219.74 291.23,220.72 290.71,222.31 292.06,221.33 293.41,222.31 292.89,220.72 294.24,219.74 292.58,219.74" fill="#E9967A" stroke="#E9967A" stroke-width="1.25" stroke-linejoin="round"/>
<polygon points="300.23,218.80 299.71,220.38 298.05,220.38 299.40,221.36 298.88,222.95 300.23,221.97 301.58,222.95 301.06,221.36 302.41,220.38 300.75,220.38" fill="#E9967A" stroke="#E9967A" stroke-width="1.25" stroke-linejoin="round"/>
<polygon points="308.40,219.35 307.88,220.94 306.22,220.94 307.57,221.92 307.05,223.51 308.40,222.53 309.75,223.51 309.23,221.92 310.58,220.94 308.92,220.94" fill="#E9967A" stroke="#E9967A" stroke-width="1.25" stroke-linejoin="round"/>
<polygon points="316.57,219.87 316.05,221.45 314.39,221.45 315.74,222.43 315.22,224.02 316.57,223.04 317.92,224.02 317.40,222.43 318.75,221.45 317.09,221.45" fill="#E9967A" stroke="#E9967A" stroke-width="1.25" stroke-linejoin="round"/>
<polygon points="324.74,220.34 324.22,221.92 322.56,221.92 323.91,222.90 323.39,224.49 324.74,223.51 326.09,224.49 325.57,222.90 326.92,221.92 325.26,221.92" fill="#E9967A" stroke="#E9967A" stroke-width="1.25" stroke-linejoin="round"/>
</g>
<rect x="49.50" y="15.30" width="289.10" height="216.90" fill="none" stroke="#444" stroke-width="1.1"/>
<line x1="63.30" y1="232.20" x2="63.30" y2="235.20" stroke="#444" stroke-width="0.9"/>
<text x="63.30" y="248.20" text-anchor="middle" font-family='"Liberation Serif", serif' font-size="14.4" fill="#111">0</text>
<line x1="104.15" y1="232.20" x2="104.15" y2="235.20" stroke="#444" stroke-width="0.9"/>
<text x="104.15" y="248.20" text-anchor="middle" font-family='"Liberation Serif", serif' font-size="14.4" fill="#111">5</text>
<line x1="145.00" y1="232.20" x2="145.00" y2="235.20" stroke="#444" stroke-width="0.9"/>
<text x="145.00" y="248.20" text-anchor="middle" font-family='"Liberation Serif", serif' font-size="14.4" fill="#111">10</text>
<line x1="185.85" y1="232.20" x2="185.85" y2="235.20" stroke="#444" stroke-width="0.9"/>
<text x="185.85" y="248.20" text-anchor="middle" font-family='"Liberation Serif", serif' font-size="14.4" fill="#111">15</text>
<line x1="226.70" y1="232.20" x2="226.70" y2="235.20" stroke="#444" stroke-width="0.9"/>
<text x="226.70" y="248.20" text-anchor="middle" font-family='"Liberation Serif", serif' font-size="14.4" fill="#111">20</text>
<line x1="267.55" y1="232.20" x2="267.55" y2="235.20" stroke="#444" stroke-width="0.9"/>
<text x="267.55" y="248.20" text-anchor="middle" font-family='"Liberation Serif", serif' font-size="14.4" fill="#111">25</text>
<line x1="308.40" y1="232.20" x2="308.40" y2="235.20" stroke="#444" stroke-width="0.9"/>
<text x="308.40" y="248.20" text-anchor="middle" font-family='"Liberation Serif", serif' font-size="14.4" fill="#111">30</text>
<line x1="46.50" y1="219.30" x2="49.50" y2="219.30" stroke="#444" stroke-width="0.9"/>
<text x="44.00" y="224.20" text-anchor="end" font-family='"Liberation Serif", serif' font-size="14.4" fill="#111">0</text>
<line x1="46.50" y1="176.60" x2="49.50" y2="176.60" stroke="#444" stroke-width="0.9"/>
<text x="44.00" y="181.50" text-anchor="end" font-family='"Liberation Serif", serif' font-size="14.4" fill="#111">1</text>
<line x1="46.50" y1="133.90" x2="49.50" y2="133.90" stroke="#444" stroke-width="0.9"/>
<text x="44.00" y="138.80" text-anchor="end" font-family='"Liberation Serif", serif' font-size="14.4" fill="#111">2</text>
<line x1="46.50" y1="91.20" x2="49.50" y2="91.20" stroke="#444" stroke-width="0.9"/>
<text x="44.00" y="96.10" text-anchor="end" font-family='"Liberation Serif", serif' font-size="14.4" fill="#111">3</text>
<line x1="46.50" y1="48.50" x2="49.50" y2="48.50" stroke="#444" stroke-width="0.9"/>
<text x="44.00" y="53.40" text-anchor="end" font-family='"Liberation Serif", serif' font-size="14.4" fill="#111">4</text>
<rect x="269.90" y="15.50" width="68.70" height="161.70" rx="1.5" fill="#fff" fill-opacity="0.85" stroke="#d0d0d0" stroke-width="0.8"/>
<line x1="272.20" y1="25.30" x2="293.30" y2="25.30" stroke="#FF7F50" stroke-width="1.4"/>
<circle cx="282.75" cy="25.30" r="2.90" fill="#FF7F50"/>
<text x="301.7" y="28.9" font-family='"Liberation Serif", serif' font-size="10.0" fill="#111"><tspan font-style="italic" font-size="11.2">β</tspan><tspan font-size="8.0" dy="2.4">1</tspan><tspan dy="-2.4"> = 0.0</tspan></text>
<line x1="272.20" y1="42.92" x2="293.30" y2="42.92" stroke="#FF0000" stroke-width="1.4"/>
<circle cx="282.75" cy="42.92" r="2.90" fill="#FF0000"/>
<text x="301.7" y="46.5" font-family='"Liberation Serif", serif' font-size="10.0" fill="#111"><tspan font-style="italic" font-size="11.2">β</tspan><tspan font-size="8.0" dy="2.4">1</tspan><tspan dy="-2.4"> =0.1</tspan></text>
<line x1="272.20" y1="60.54" x2="293.30" y2="60.54" stroke="#6B8E23" stroke-width="1.4"/>
<circle cx="282.75" cy="60.54" r="2.90" fill="#6B8E23"/>
<text x="301.7" y="64.1" font-family='"Liberation Serif", serif' font-size="10.0" fill="#111"><tspan font-style="italic" font-size="11.2">β</tspan><tspan font-size="8.0" dy="2.4">1</tspan><tspan dy="-2.4"> =0.2</tspan></text>
<line x1="272.20" y1="78.16" x2="293.30" y2="78.16" stroke="#D2691E" stroke-width="1.4"/>
<polygon points="282.75,75.46 280.05,80.86 285.45,80.86" fill="#D2691E"/>
<text x="301.7" y="81.8" font-family='"Liberation Serif", serif' font-size="10.0" fill="#111"><tspan font-style="italic" font-size="11.2">β</tspan><tspan font-size="8.0" dy="2.4">1</tspan><tspan dy="-2.4"> =0.3</tspan></text>
<line x1="272.20" y1="95.78" x2="293.30" y2="95.78" stroke="#6A5ACD" stroke-width="1.4"/>
<polygon points="282.75,93.08 280.05,98.48 285.45,98.48" fill="#6A5ACD"/>
<text x="301.7" y="99.4" font-family='"Liberation Serif", serif' font-size="10.0" fill="#111"><tspan font-style="italic" font-size="11.2">β</tspan><tspan font-size="8.0" dy="2.4">1</tspan><tspan dy="-2.4"> =0.4</tspan></text>
<line x1="272.20" y1="113.40" x2="293.30" y2="113.40" stroke="#DDA0DD" stroke-width="1.4"/>
<polygon points="282.75,110.70 280.05,116.10 285.45,116.10" fill="#DDA0DD"/>
<text x="301.7" y="117.0" font-family='"Liberation Serif", serif' font-size="10.0" fill="#111"><tspan font-style="italic" font-size="11.2">β</tspan><tspan font-size="8.0" dy="2.4">1</tspan><tspan dy="-2.4"> =0.5</tspan></text>
<line x1="272.20" y1="131.02" x2="293.30" y2="131.02" stroke="#9370DB" stroke-width="1.4"/>
<polygon points="282.75,128.72 282.23,130.31 280.56,130.31 281.91,131.29 281.40,132.88 282.75,131.90 284.10,132.88 283.59,131.29 284.94,130.31 283.27,130.31" fill="#9370DB" stroke="#9370DB" stroke-width="1.25" stroke-linejoin="round"/>
<text x="301.7" y="134.6" font-family='"Liberation Serif", serif' font-size="10.0" fill="#111"><tspan font-style="italic" font-size="11.2">β</tspan><tspan font-size="8.0" dy="2.4">1</tspan><tspan dy="-2.4"> =0.6</tspan></text>
<line x1="272.20" y1="148.64" x2="293.30" y2="148.64" stroke="#1E90FF" stroke-width="1.4"/>
<polygon points="282.75,146.34 282.23,147.93 280.56,147.93 281.91,148.91 281.40,150.50 282.75,149.52 284.10,150.50 283.59,148.91 284.94,147.93 283.27,147.93" fill="#1E90FF" stroke="#1E90FF" stroke-width="1.25" stroke-linejoin="round"/>
<text x="301.7" y="152.2" font-family='"Liberation Serif", serif' font-size="10.0" fill="#111"><tspan font-style="italic" font-size="11.2">β</tspan><tspan font-size="8.0" dy="2.4">1</tspan><tspan dy="-2.4"> =0.7</tspan></text>
<line x1="272.20" y1="166.26" x2="293.30" y2="166.26" stroke="#E9967A" stroke-width="1.4"/>
<polygon points="282.75,163.96 282.23,165.55 280.56,165.55 281.91,166.53 281.40,168.12 282.75,167.14 284.10,168.12 283.59,166.53 284.94,165.55 283.27,165.55" fill="#E9967A" stroke="#E9967A" stroke-width="1.25" stroke-linejoin="round"/>
<text x="301.7" y="169.9" font-family='"Liberation Serif", serif' font-size="10.0" fill="#111"><tspan font-style="italic" font-size="11.2">β</tspan><tspan font-size="8.0" dy="2.4">1</tspan><tspan dy="-2.4"> =0.8</tspan></text>
<text x="80.0" y="48.0" font-family='"Liberation Serif", serif' font-size="14.4" fill="#111">stable</text>
<text x="72.0" y="216.0" font-family='"Liberation Serif", serif' font-size="14.4" fill="#111">unstable</text>
<text x="194.05" y="264.50" text-anchor="middle" font-family='"Liberation Serif", serif' font-weight="bold" font-size="14.4" fill="#111">Velocity (m/s)</text>
<text transform="translate(29.80,123.75) rotate(-90)" text-anchor="middle" font-family='"Liberation Serif", serif' font-weight="bold" font-size="14.4" fill="#111">Desired time gap T (s)</text>
<text x="189.5" y="294.4" text-anchor="middle" font-family='"Liberation Serif", serif' font-size="16" fill="#111">(<tspan font-weight="bold">a</tspan>)</text>
<clipPath id="clipb"><rect x="440.60" y="18.50" width="288.90" height="211.50"/></clipPath>
<g clip-path="url(#clipb)">
<polyline points="453.90,134.74 462.10,125.52 470.30,116.30 478.50,107.08 486.70,98.28 494.90,87.81 503.10,77.75 511.30,68.12 519.50,58.48 527.70,49.68 535.90,41.72 544.10,35.02 552.30,29.99 560.50,27.89 568.70,27.89 576.90,30.83 585.10,37.11 593.30,46.75 601.50,60.99 609.70,77.75 617.90,98.70 626.10,123.01 634.30,146.47 642.50,169.93 650.70,190.67 658.90,205.13 667.10,211.83 675.30,215.19 683.50,217.07 691.70,218.87 699.90,219.38 708.10,219.79 716.30,220.21" fill="none" stroke="#FF7F50" stroke-width="1.20" stroke-linejoin="round"/>
<circle cx="453.90" cy="134.74" r="2.70" fill="#FF7F50"/>
<circle cx="462.10" cy="125.52" r="2.70" fill="#FF7F50"/>
<circle cx="470.30" cy="116.30" r="2.70" fill="#FF7F50"/>
<circle cx="478.50" cy="107.08" r="2.70" fill="#FF7F50"/>
<circle cx="486.70" cy="98.28" r="2.70" fill="#FF7F50"/>
<circle cx="494.90" cy="87.81" r="2.70" fill="#FF7F50"/>
<circle cx="503.10" cy="77.75" r="2.70" fill="#FF7F50"/>
<circle cx="511.30" cy="68.12" r="2.70" fill="#FF7F50"/>
<circle cx="519.50" cy="58.48" r="2.70" fill="#FF7F50"/>
<circle cx="527.70" cy="49.68" r="2.70" fill="#FF7F50"/>
<circle cx="535.90" cy="41.72" r="2.70" fill="#FF7F50"/>
<circle cx="544.10" cy="35.02" r="2.70" fill="#FF7F50"/>
<circle cx="552.30" cy="29.99" r="2.70" fill="#FF7F50"/>
<circle cx="560.50" cy="27.89" r="2.70" fill="#FF7F50"/>
<circle cx="568.70" cy="27.89" r="2.70" fill="#FF7F50"/>
<circle cx="576.90" cy="30.83" r="2.70" fill="#FF7F50"/>
<circle cx="585.10" cy="37.11" r="2.70" fill="#FF7F50"/>
<circle cx="593.30" cy="46.75" r="2.70" fill="#FF7F50"/>
<circle cx="601.50" cy="60.99" r="2.70" fill="#FF7F50"/>
<circle cx="609.70" cy="77.75" r="2.70" fill="#FF7F50"/>
<circle cx="617.90" cy="98.70" r="2.70" fill="#FF7F50"/>
<circle cx="626.10" cy="123.01" r="2.70" fill="#FF7F50"/>
<circle cx="634.30" cy="146.47" r="2.70" fill="#FF7F50"/>
<circle cx="642.50" cy="169.93" r="2.70" fill="#FF7F50"/>
<circle cx="650.70" cy="190.67" r="2.70" fill="#FF7F50"/>
<circle cx="658.90" cy="205.13" r="2.70" fill="#FF7F50"/>
<circle cx="667.10" cy="211.83" r="2.70" fill="#FF7F50"/>
<circle cx="675.30" cy="215.19" r="2.70" fill="#FF7F50"/>
<circle cx="683.50" cy="217.07" r="2.70" fill="#FF7F50"/>
<circle cx="691.70" cy="218.87" r="2.70" fill="#FF7F50"/>
<circle cx="699.90" cy="219.38" r="2.70" fill="#FF7F50"/>
<circle cx="708.10" cy="219.79" r="2.70" fill="#FF7F50"/>
<circle cx="716.30" cy="220.21" r="2.70" fill="#FF7F50"/>
<polyline points="453.90,137.25 462.10,130.55 470.30,125.94 478.50,119.65 486.70,113.79 494.90,107.08 503.10,101.22 511.30,95.35 519.50,89.49 527.70,84.46 535.90,80.69 544.10,77.75 552.30,75.66 560.50,75.24 568.70,76.92 576.90,80.69 585.10,88.23 593.30,98.70 601.50,112.11 609.70,127.20 617.90,144.79 626.10,164.07 634.30,181.67 642.50,195.49 650.70,205.55 658.90,211.41 667.10,214.56 675.30,216.23 683.50,217.36 691.70,218.87 699.90,219.38 708.10,219.79 716.30,220.21" fill="none" stroke="#FF0000" stroke-width="1.20" stroke-linejoin="round"/>
<circle cx="453.90" cy="137.25" r="2.70" fill="#FF0000"/>
<circle cx="462.10" cy="130.55" r="2.70" fill="#FF0000"/>
<circle cx="470.30" cy="125.94" r="2.70" fill="#FF0000"/>
<circle cx="478.50" cy="119.65" r="2.70" fill="#FF0000"/>
<circle cx="486.70" cy="113.79" r="2.70" fill="#FF0000"/>
<circle cx="494.90" cy="107.08" r="2.70" fill="#FF0000"/>
<circle cx="503.10" cy="101.22" r="2.70" fill="#FF0000"/>
<circle cx="511.30" cy="95.35" r="2.70" fill="#FF0000"/>
<circle cx="519.50" cy="89.49" r="2.70" fill="#FF0000"/>
<circle cx="527.70" cy="84.46" r="2.70" fill="#FF0000"/>
<circle cx="535.90" cy="80.69" r="2.70" fill="#FF0000"/>
<circle cx="544.10" cy="77.75" r="2.70" fill="#FF0000"/>
<circle cx="552.30" cy="75.66" r="2.70" fill="#FF0000"/>
<circle cx="560.50" cy="75.24" r="2.70" fill="#FF0000"/>
<circle cx="568.70" cy="76.92" r="2.70" fill="#FF0000"/>
<circle cx="576.90" cy="80.69" r="2.70" fill="#FF0000"/>
<circle cx="585.10" cy="88.23" r="2.70" fill="#FF0000"/>
<circle cx="593.30" cy="98.70" r="2.70" fill="#FF0000"/>
<circle cx="601.50" cy="112.11" r="2.70" fill="#FF0000"/>
<circle cx="609.70" cy="127.20" r="2.70" fill="#FF0000"/>
<circle cx="617.90" cy="144.79" r="2.70" fill="#FF0000"/>
<circle cx="626.10" cy="164.07" r="2.70" fill="#FF0000"/>
<circle cx="634.30" cy="181.67" r="2.70" fill="#FF0000"/>
<circle cx="642.50" cy="195.49" r="2.70" fill="#FF0000"/>
<circle cx="650.70" cy="205.55" r="2.70" fill="#FF0000"/>
<circle cx="658.90" cy="211.41" r="2.70" fill="#FF0000"/>
<circle cx="667.10" cy="214.56" r="2.70" fill="#FF0000"/>
<circle cx="675.30" cy="216.23" r="2.70" fill="#FF0000"/>
<circle cx="683.50" cy="217.36" r="2.70" fill="#FF0000"/>
<circle cx="691.70" cy="218.87" r="2.70" fill="#FF0000"/>
<circle cx="699.90" cy="219.38" r="2.70" fill="#FF0000"/>
<circle cx="708.10" cy="219.79" r="2.70" fill="#FF0000"/>
<circle cx="716.30" cy="220.21" r="2.70" fill="#FF0000"/>
<polyline points="453.90,139.98 462.10,137.04 470.30,134.32 478.50,132.01 486.70,129.08 494.90,126.57 503.10,124.05 511.30,121.75 519.50,119.65 527.70,117.77 535.90,116.72 544.10,116.30 552.30,117.14 560.50,119.23 568.70,123.42 576.90,129.29 585.10,136.00 593.30,146.47 601.50,158.20 609.70,170.77 617.90,182.50 626.10,192.56 634.30,201.36 642.50,207.64 650.70,211.83 658.90,214.56 667.10,216.23 675.30,217.28 683.50,217.91 691.70,218.87 699.90,219.38 708.10,219.79 716.30,220.21" fill="none" stroke="#6B8E23" stroke-width="1.20" stroke-linejoin="round"/>
<circle cx="453.90" cy="139.98" r="2.70" fill="#6B8E23"/>
<circle cx="462.10" cy="137.04" r="2.70" fill="#6B8E23"/>
<circle cx="470.30" cy="134.32" r="2.70" fill="#6B8E23"/>
<circle cx="478.50" cy="132.01" r="2.70" fill="#6B8E23"/>
<circle cx="486.70" cy="129.08" r="2.70" fill="#6B8E23"/>
<circle cx="494.90" cy="126.57" r="2.70" fill="#6B8E23"/>
<circle cx="503.10" cy="124.05" r="2.70" fill="#6B8E23"/>
<circle cx="511.30" cy="121.75" r="2.70" fill="#6B8E23"/>
<circle cx="519.50" cy="119.65" r="2.70" fill="#6B8E23"/>
<circle cx="527.70" cy="117.77" r="2.70" fill="#6B8E23"/>
<circle cx="535.90" cy="116.72" r="2.70" fill="#6B8E23"/>
<circle cx="544.10" cy="116.30" r="2.70" fill="#6B8E23"/>
<circle cx="552.30" cy="117.14" r="2.70" fill="#6B8E23"/>
<circle cx="560.50" cy="119.23" r="2.70" fill="#6B8E23"/>
<circle cx="568.70" cy="123.42" r="2.70" fill="#6B8E23"/>
<circle cx="576.90" cy="129.29" r="2.70" fill="#6B8E23"/>
<circle cx="585.10" cy="136.00" r="2.70" fill="#6B8E23"/>
<circle cx="593.30" cy="146.47" r="2.70" fill="#6B8E23"/>
<circle cx="601.50" cy="158.20" r="2.70" fill="#6B8E23"/>
<circle cx="609.70" cy="170.77" r="2.70" fill="#6B8E23"/>
<circle cx="617.90" cy="182.50" r="2.70" fill="#6B8E23"/>
<circle cx="626.10" cy="192.56" r="2.70" fill="#6B8E23"/>
<circle cx="634.30" cy="201.36" r="2.70" fill="#6B8E23"/>
<circle cx="642.50" cy="207.64" r="2.70" fill="#6B8E23"/>
<circle cx="650.70" cy="211.83" r="2.70" fill="#6B8E23"/>
<circle cx="658.90" cy="214.56" r="2.70" fill="#6B8E23"/>
<circle cx="667.10" cy="216.23" r="2.70" fill="#6B8E23"/>
<circle cx="675.30" cy="217.28" r="2.70" fill="#6B8E23"/>
<circle cx="683.50" cy="217.91" r="2.70" fill="#6B8E23"/>
<circle cx="691.70" cy="218.87" r="2.70" fill="#6B8E23"/>
<circle cx="699.90" cy="219.38" r="2.70" fill="#6B8E23"/>
<circle cx="708.10" cy="219.79" r="2.70" fill="#6B8E23"/>
<circle cx="716.30" cy="220.21" r="2.70" fill="#6B8E23"/>
<polyline points="453.90,142.87 462.10,143.15 470.30,143.50 478.50,143.90 486.70,144.38 494.90,144.95 503.10,145.63 511.30,146.39 519.50,147.31 527.70,148.50 535.90,149.95 544.10,151.71 552.30,154.35 560.50,158.20 568.70,163.23 576.90,169.10 585.10,176.01 593.30,182.92 601.50,190.05 609.70,196.33 617.90,201.57 626.10,206.39 634.30,210.37 642.50,212.88 650.70,214.77 658.90,216.02 667.10,217.07 675.30,217.70 683.50,218.20 691.70,218.87 699.90,219.38 708.10,219.79 716.30,220.21" fill="none" stroke="#D2691E" stroke-width="1.20" stroke-linejoin="round"/>
<polygon points="453.90,140.17 451.20,145.57 456.60,145.57" fill="#D2691E"/>
<polygon points="462.10,140.45 459.40,145.85 464.80,145.85" fill="#D2691E"/>
<polygon points="470.30,140.80 467.60,146.20 473.00,146.20" fill="#D2691E"/>
<polygon points="478.50,141.20 475.80,146.60 481.20,146.60" fill="#D2691E"/>
<polygon points="486.70,141.68 484.00,147.07 489.40,147.07" fill="#D2691E"/>
<polygon points="494.90,142.25 492.20,147.65 497.60,147.65" fill="#D2691E"/>
<polygon points="503.10,142.93 500.40,148.33 505.80,148.33" fill="#D2691E"/>
<polygon points="511.30,143.69 508.60,149.09 514.00,149.09" fill="#D2691E"/>
<polygon points="519.50,144.61 516.80,150.01 522.20,150.01" fill="#D2691E"/>
<polygon points="527.70,145.80 525.00,151.20 530.40,151.20" fill="#D2691E"/>
<polygon points="535.90,147.25 533.20,152.65 538.60,152.65" fill="#D2691E"/>
<polygon points="544.10,149.01 541.40,154.41 546.80,154.41" fill="#D2691E"/>
<polygon points="552.30,151.65 549.60,157.05 555.00,157.05" fill="#D2691E"/>
<polygon points="560.50,155.50 557.80,160.90 563.20,160.90" fill="#D2691E"/>
<polygon points="568.70,160.53 566.00,165.93 571.40,165.93" fill="#D2691E"/>
<polygon points="576.90,166.40 574.20,171.80 579.60,171.80" fill="#D2691E"/>
<polygon points="585.10,173.31 582.40,178.71 587.80,178.71" fill="#D2691E"/>
<polygon points="593.30,180.22 590.60,185.62 596.00,185.62" fill="#D2691E"/>
<polygon points="601.50,187.35 598.80,192.75 604.20,192.75" fill="#D2691E"/>
<polygon points="609.70,193.63 607.00,199.03 612.40,199.03" fill="#D2691E"/>
<polygon points="617.90,198.87 615.20,204.27 620.60,204.27" fill="#D2691E"/>
<polygon points="626.10,203.69 623.40,209.09 628.80,209.09" fill="#D2691E"/>
<polygon points="634.30,207.67 631.60,213.07 637.00,213.07" fill="#D2691E"/>
<polygon points="642.50,210.18 639.80,215.58 645.20,215.58" fill="#D2691E"/>
<polygon points="650.70,212.07 648.00,217.47 653.40,217.47" fill="#D2691E"/>
<polygon points="658.90,213.32 656.20,218.72 661.60,218.72" fill="#D2691E"/>
<polygon points="667.10,214.37 664.40,219.77 669.80,219.77" fill="#D2691E"/>
<polygon points="675.30,215.00 672.60,220.40 678.00,220.40" fill="#D2691E"/>
<polygon points="683.50,215.50 680.80,220.90 686.20,220.90" fill="#D2691E"/>
<polygon points="691.70,216.17 689.00,221.57 694.40,221.57" fill="#D2691E"/>
<polygon points="699.90,216.68 697.20,222.08 702.60,222.08" fill="#D2691E"/>
<polygon points="708.10,217.09 705.40,222.49 710.80,222.49" fill="#D2691E"/>
<polygon points="716.30,217.51 713.60,222.91 719.00,222.91" fill="#D2691E"/>
<polyline points="453.90,146.47 462.10,149.61 470.30,152.55 478.50,156.11 486.70,158.83 494.90,161.55 503.10,164.28 511.30,167.21 519.50,170.27 527.70,173.50 535.90,176.97 544.10,180.41 552.30,183.84 560.50,187.53 568.70,190.67 576.90,194.03 585.10,197.80 593.30,201.15 601.50,204.29 609.70,207.22 617.90,209.74 626.10,211.83 634.30,213.51 642.50,214.77 650.70,215.81 658.90,216.65 667.10,217.36 675.30,217.87 683.50,218.33 691.70,218.87 699.90,219.38 708.10,219.79 716.30,220.21" fill="none" stroke="#6A5ACD" stroke-width="1.20" stroke-linejoin="round"/>
<polygon points="453.90,143.77 451.20,149.17 456.60,149.17" fill="#6A5ACD"/>
<polygon points="462.10,146.91 459.40,152.31 464.80,152.31" fill="#6A5ACD"/>
<polygon points="470.30,149.85 467.60,155.25 473.00,155.25" fill="#6A5ACD"/>
<polygon points="478.50,153.41 475.80,158.81 481.20,158.81" fill="#6A5ACD"/>
<polygon points="486.70,156.13 484.00,161.53 489.40,161.53" fill="#6A5ACD"/>
<polygon points="494.90,158.85 492.20,164.25 497.60,164.25" fill="#6A5ACD"/>
<polygon points="503.10,161.58 500.40,166.98 505.80,166.98" fill="#6A5ACD"/>
<polygon points="511.30,164.51 508.60,169.91 514.00,169.91" fill="#6A5ACD"/>
<polygon points="519.50,167.57 516.80,172.97 522.20,172.97" fill="#6A5ACD"/>
<polygon points="527.70,170.80 525.00,176.20 530.40,176.20" fill="#6A5ACD"/>
<polygon points="535.90,174.27 533.20,179.67 538.60,179.67" fill="#6A5ACD"/>
<polygon points="544.10,177.71 541.40,183.11 546.80,183.11" fill="#6A5ACD"/>
<polygon points="552.30,181.14 549.60,186.54 555.00,186.54" fill="#6A5ACD"/>
<polygon points="560.50,184.83 557.80,190.23 563.20,190.23" fill="#6A5ACD"/>
<polygon points="568.70,187.97 566.00,193.37 571.40,193.37" fill="#6A5ACD"/>
<polygon points="576.90,191.33 574.20,196.73 579.60,196.73" fill="#6A5ACD"/>
<polygon points="585.10,195.10 582.40,200.50 587.80,200.50" fill="#6A5ACD"/>
<polygon points="593.30,198.45 590.60,203.85 596.00,203.85" fill="#6A5ACD"/>
<polygon points="601.50,201.59 598.80,206.99 604.20,206.99" fill="#6A5ACD"/>
<polygon points="609.70,204.53 607.00,209.92 612.40,209.92" fill="#6A5ACD"/>
<polygon points="617.90,207.04 615.20,212.44 620.60,212.44" fill="#6A5ACD"/>
<polygon points="626.10,209.13 623.40,214.53 628.80,214.53" fill="#6A5ACD"/>
<polygon points="634.30,210.81 631.60,216.21 637.00,216.21" fill="#6A5ACD"/>
<polygon points="642.50,212.07 639.80,217.47 645.20,217.47" fill="#6A5ACD"/>
<polygon points="650.70,213.11 648.00,218.51 653.40,218.51" fill="#6A5ACD"/>
<polygon points="658.90,213.95 656.20,219.35 661.60,219.35" fill="#6A5ACD"/>
<polygon points="667.10,214.66 664.40,220.06 669.80,220.06" fill="#6A5ACD"/>
<polygon points="675.30,215.17 672.60,220.57 678.00,220.57" fill="#6A5ACD"/>
<polygon points="683.50,215.63 680.80,221.03 686.20,221.03" fill="#6A5ACD"/>
<polygon points="691.70,216.17 689.00,221.57 694.40,221.57" fill="#6A5ACD"/>
<polygon points="699.90,216.68 697.20,222.08 702.60,222.08" fill="#6A5ACD"/>
<polygon points="708.10,217.09 705.40,222.49 710.80,222.49" fill="#6A5ACD"/>
<polygon points="716.30,217.51 713.60,222.91 719.00,222.91" fill="#6A5ACD"/>
<polyline points="453.90,149.82 462.10,156.53 470.30,162.39 478.50,167.00 486.70,172.03 494.90,176.22 503.10,179.99 511.30,183.76 519.50,187.53 527.70,190.46 535.90,193.40 544.10,196.33 552.30,198.64 560.50,201.15 568.70,203.87 576.90,205.97 585.10,207.64 593.30,209.53 601.50,211.08 609.70,212.46 617.90,213.51 626.10,214.43 634.30,215.27 642.50,216.02 650.70,216.65 658.90,217.20 667.10,217.70 675.30,218.04 683.50,218.37 691.70,218.87 699.90,219.38 708.10,219.79 716.30,220.21" fill="none" stroke="#DDA0DD" stroke-width="1.20" stroke-linejoin="round"/>
<polygon points="453.90,147.12 451.20,152.52 456.60,152.52" fill="#DDA0DD"/>
<polygon points="462.10,153.83 459.40,159.23 464.80,159.23" fill="#DDA0DD"/>
<polygon points="470.30,159.69 467.60,165.09 473.00,165.09" fill="#DDA0DD"/>
<polygon points="478.50,164.30 475.80,169.70 481.20,169.70" fill="#DDA0DD"/>
<polygon points="486.70,169.33 484.00,174.73 489.40,174.73" fill="#DDA0DD"/>
<polygon points="494.90,173.52 492.20,178.92 497.60,178.92" fill="#DDA0DD"/>
<polygon points="503.10,177.29 500.40,182.69 505.80,182.69" fill="#DDA0DD"/>
<polygon points="511.30,181.06 508.60,186.46 514.00,186.46" fill="#DDA0DD"/>
<polygon points="519.50,184.83 516.80,190.23 522.20,190.23" fill="#DDA0DD"/>
<polygon points="527.70,187.76 525.00,193.16 530.40,193.16" fill="#DDA0DD"/>
<polygon points="535.90,190.70 533.20,196.10 538.60,196.10" fill="#DDA0DD"/>
<polygon points="544.10,193.63 541.40,199.03 546.80,199.03" fill="#DDA0DD"/>
<polygon points="552.30,195.94 549.60,201.34 555.00,201.34" fill="#DDA0DD"/>
<polygon points="560.50,198.45 557.80,203.85 563.20,203.85" fill="#DDA0DD"/>
<polygon points="568.70,201.17 566.00,206.57 571.40,206.57" fill="#DDA0DD"/>
<polygon points="576.90,203.27 574.20,208.67 579.60,208.67" fill="#DDA0DD"/>
<polygon points="585.10,204.94 582.40,210.34 587.80,210.34" fill="#DDA0DD"/>
<polygon points="593.30,206.83 590.60,212.23 596.00,212.23" fill="#DDA0DD"/>
<polygon points="601.50,208.38 598.80,213.78 604.20,213.78" fill="#DDA0DD"/>
<polygon points="609.70,209.76 607.00,215.16 612.40,215.16" fill="#DDA0DD"/>
<polygon points="617.90,210.81 615.20,216.21 620.60,216.21" fill="#DDA0DD"/>
<polygon points="626.10,211.73 623.40,217.13 628.80,217.13" fill="#DDA0DD"/>
<polygon points="634.30,212.57 631.60,217.97 637.00,217.97" fill="#DDA0DD"/>
<polygon points="642.50,213.32 639.80,218.72 645.20,218.72" fill="#DDA0DD"/>
<polygon points="650.70,213.95 648.00,219.35 653.40,219.35" fill="#DDA0DD"/>
<polygon points="658.90,214.50 656.20,219.90 661.60,219.90" fill="#DDA0DD"/>
<polygon points="667.10,215.00 664.40,220.40 669.80,220.40" fill="#DDA0DD"/>
<polygon points="675.30,215.34 672.60,220.74 678.00,220.74" fill="#DDA0DD"/>
<polygon points="683.50,215.67 680.80,221.07 686.20,221.07" fill="#DDA0DD"/>
<polygon points="691.70,216.17 689.00,221.57 694.40,221.57" fill="#DDA0DD"/>
<polygon points="699.90,216.68 697.20,222.08 702.60,222.08" fill="#DDA0DD"/>
<polygon points="708.10,217.09 705.40,222.49 710.80,222.49" fill="#DDA0DD"/>
<polygon points="716.30,217.51 713.60,222.91 719.00,222.91" fill="#DDA0DD"/>
<polyline points="453.90,152.34 462.10,162.39 470.30,171.19 478.50,178.73 486.70,184.60 494.90,189.42 503.10,193.82 511.30,197.59 519.50,200.52 527.70,203.03 535.90,205.13 544.10,206.81 552.30,208.27 560.50,209.53 568.70,210.58 576.90,211.50 585.10,212.34 593.30,213.09 601.50,213.76 609.70,214.39 617.90,214.98 626.10,215.52 634.30,216.02 642.50,216.44 650.70,216.86 658.90,217.28 667.10,217.70 675.30,218.04 683.50,218.37 691.70,218.87 699.90,219.38 708.10,219.79 716.30,220.21" fill="none" stroke="#9370DB" stroke-width="1.20" stroke-linejoin="round"/>
<polygon points="453.90,150.04 453.38,151.63 451.72,151.63 453.07,152.61 452.55,154.19 453.90,153.21 455.25,154.19 454.73,152.61 456.08,151.63 454.42,151.63" fill="#9370DB" stroke="#9370DB" stroke-width="1.25" stroke-linejoin="round"/>
<polygon points="462.10,160.10 461.58,161.68 459.92,161.68 461.27,162.66 460.75,164.25 462.10,163.27 463.45,164.25 462.93,162.66 464.28,161.68 462.62,161.68" fill="#9370DB" stroke="#9370DB" stroke-width="1.25" stroke-linejoin="round"/>
<polygon points="470.30,168.90 469.78,170.48 468.12,170.48 469.47,171.46 468.95,173.05 470.30,172.07 471.65,173.05 471.13,171.46 472.48,170.48 470.82,170.48" fill="#9370DB" stroke="#9370DB" stroke-width="1.25" stroke-linejoin="round"/>
<polygon points="478.50,176.44 477.98,178.02 476.32,178.02 477.67,179.00 477.15,180.59 478.50,179.61 479.85,180.59 479.33,179.00 480.68,178.02 479.02,178.02" fill="#9370DB" stroke="#9370DB" stroke-width="1.25" stroke-linejoin="round"/>
<polygon points="486.70,182.30 486.18,183.89 484.52,183.89 485.87,184.87 485.35,186.46 486.70,185.48 488.05,186.46 487.53,184.87 488.88,183.89 487.22,183.89" fill="#9370DB" stroke="#9370DB" stroke-width="1.25" stroke-linejoin="round"/>
<polygon points="494.90,187.12 494.38,188.71 492.72,188.71 494.07,189.69 493.55,191.27 494.90,190.29 496.25,191.27 495.73,189.69 497.08,188.71 495.42,188.71" fill="#9370DB" stroke="#9370DB" stroke-width="1.25" stroke-linejoin="round"/>
<polygon points="503.10,191.52 502.58,193.11 500.92,193.11 502.27,194.09 501.75,195.67 503.10,194.69 504.45,195.67 503.93,194.09 505.28,193.11 503.62,193.11" fill="#9370DB" stroke="#9370DB" stroke-width="1.25" stroke-linejoin="round"/>
<polygon points="511.30,195.29 510.78,196.88 509.12,196.88 510.47,197.86 509.95,199.44 511.30,198.46 512.65,199.44 512.13,197.86 513.48,196.88 511.82,196.88" fill="#9370DB" stroke="#9370DB" stroke-width="1.25" stroke-linejoin="round"/>
<polygon points="519.50,198.23 518.98,199.81 517.32,199.81 518.67,200.79 518.15,202.38 519.50,201.40 520.85,202.38 520.33,200.79 521.68,199.81 520.02,199.81" fill="#9370DB" stroke="#9370DB" stroke-width="1.25" stroke-linejoin="round"/>
<polygon points="527.70,200.74 527.18,202.33 525.52,202.33 526.87,203.31 526.35,204.89 527.70,203.91 529.05,204.89 528.53,203.31 529.88,202.33 528.22,202.33" fill="#9370DB" stroke="#9370DB" stroke-width="1.25" stroke-linejoin="round"/>
<polygon points="535.90,202.84 535.38,204.42 533.72,204.42 535.07,205.40 534.55,206.99 535.90,206.01 537.25,206.99 536.73,205.40 538.08,204.42 536.42,204.42" fill="#9370DB" stroke="#9370DB" stroke-width="1.25" stroke-linejoin="round"/>
<polygon points="544.10,204.51 543.58,206.10 541.92,206.10 543.27,207.08 542.75,208.66 544.10,207.68 545.45,208.66 544.93,207.08 546.28,206.10 544.62,206.10" fill="#9370DB" stroke="#9370DB" stroke-width="1.25" stroke-linejoin="round"/>
<polygon points="552.30,205.98 551.78,207.56 550.12,207.56 551.47,208.54 550.95,210.13 552.30,209.15 553.65,210.13 553.13,208.54 554.48,207.56 552.82,207.56" fill="#9370DB" stroke="#9370DB" stroke-width="1.25" stroke-linejoin="round"/>
<polygon points="560.50,207.23 559.98,208.82 558.32,208.82 559.67,209.80 559.15,211.39 560.50,210.41 561.85,211.39 561.33,209.80 562.68,208.82 561.02,208.82" fill="#9370DB" stroke="#9370DB" stroke-width="1.25" stroke-linejoin="round"/>
<polygon points="568.70,208.28 568.18,209.87 566.52,209.87 567.87,210.85 567.35,212.43 568.70,211.45 570.05,212.43 569.53,210.85 570.88,209.87 569.22,209.87" fill="#9370DB" stroke="#9370DB" stroke-width="1.25" stroke-linejoin="round"/>
<polygon points="576.90,209.20 576.38,210.79 574.72,210.79 576.07,211.77 575.55,213.36 576.90,212.38 578.25,213.36 577.73,211.77 579.08,210.79 577.42,210.79" fill="#9370DB" stroke="#9370DB" stroke-width="1.25" stroke-linejoin="round"/>
<polygon points="585.10,210.04 584.58,211.63 582.92,211.63 584.27,212.61 583.75,214.19 585.10,213.21 586.45,214.19 585.93,212.61 587.28,211.63 585.62,211.63" fill="#9370DB" stroke="#9370DB" stroke-width="1.25" stroke-linejoin="round"/>
<polygon points="593.30,210.80 592.78,212.38 591.12,212.38 592.47,213.36 591.95,214.95 593.30,213.97 594.65,214.95 594.13,213.36 595.48,212.38 593.82,212.38" fill="#9370DB" stroke="#9370DB" stroke-width="1.25" stroke-linejoin="round"/>
<polygon points="601.50,211.47 600.98,213.05 599.32,213.05 600.67,214.03 600.15,215.62 601.50,214.64 602.85,215.62 602.33,214.03 603.68,213.05 602.02,213.05" fill="#9370DB" stroke="#9370DB" stroke-width="1.25" stroke-linejoin="round"/>
<polygon points="609.70,212.09 609.18,213.68 607.52,213.68 608.87,214.66 608.35,216.25 609.70,215.27 611.05,216.25 610.53,214.66 611.88,213.68 610.22,213.68" fill="#9370DB" stroke="#9370DB" stroke-width="1.25" stroke-linejoin="round"/>
<polygon points="617.90,212.68 617.38,214.27 615.72,214.27 617.07,215.25 616.55,216.83 617.90,215.85 619.25,216.83 618.73,215.25 620.08,214.27 618.42,214.27" fill="#9370DB" stroke="#9370DB" stroke-width="1.25" stroke-linejoin="round"/>
<polygon points="626.10,213.23 625.58,214.81 623.92,214.81 625.27,215.79 624.75,217.38 626.10,216.40 627.45,217.38 626.93,215.79 628.28,214.81 626.62,214.81" fill="#9370DB" stroke="#9370DB" stroke-width="1.25" stroke-linejoin="round"/>
<polygon points="634.30,213.73 633.78,215.31 632.12,215.31 633.47,216.29 632.95,217.88 634.30,216.90 635.65,217.88 635.13,216.29 636.48,215.31 634.82,215.31" fill="#9370DB" stroke="#9370DB" stroke-width="1.25" stroke-linejoin="round"/>
<polygon points="642.50,214.15 641.98,215.73 640.32,215.73 641.67,216.71 641.15,218.30 642.50,217.32 643.85,218.30 643.33,216.71 644.68,215.73 643.02,215.73" fill="#9370DB" stroke="#9370DB" stroke-width="1.25" stroke-linejoin="round"/>
<polygon points="650.70,214.57 650.18,216.15 648.52,216.15 649.87,217.13 649.35,218.72 650.70,217.74 652.05,218.72 651.53,217.13 652.88,216.15 651.22,216.15" fill="#9370DB" stroke="#9370DB" stroke-width="1.25" stroke-linejoin="round"/>
<polygon points="658.90,214.99 658.38,216.57 656.72,216.57 658.07,217.55 657.55,219.14 658.90,218.16 660.25,219.14 659.73,217.55 661.08,216.57 659.42,216.57" fill="#9370DB" stroke="#9370DB" stroke-width="1.25" stroke-linejoin="round"/>
<polygon points="667.10,215.41 666.58,216.99 664.92,216.99 666.27,217.97 665.75,219.56 667.10,218.58 668.45,219.56 667.93,217.97 669.28,216.99 667.62,216.99" fill="#9370DB" stroke="#9370DB" stroke-width="1.25" stroke-linejoin="round"/>
<polygon points="675.30,215.74 674.78,217.33 673.12,217.33 674.47,218.31 673.95,219.89 675.30,218.91 676.65,219.89 676.13,218.31 677.48,217.33 675.82,217.33" fill="#9370DB" stroke="#9370DB" stroke-width="1.25" stroke-linejoin="round"/>
<polygon points="683.50,216.08 682.98,217.66 681.32,217.66 682.67,218.64 682.15,220.23 683.50,219.25 684.85,220.23 684.33,218.64 685.68,217.66 684.02,217.66" fill="#9370DB" stroke="#9370DB" stroke-width="1.25" stroke-linejoin="round"/>
<polygon points="691.70,216.58 691.18,218.16 689.52,218.16 690.87,219.14 690.35,220.73 691.70,219.75 693.05,220.73 692.53,219.14 693.88,218.16 692.22,218.16" fill="#9370DB" stroke="#9370DB" stroke-width="1.25" stroke-linejoin="round"/>
<polygon points="699.90,217.08 699.38,218.67 697.72,218.67 699.07,219.65 698.55,221.23 699.90,220.25 701.25,221.23 700.73,219.65 702.08,218.67 700.42,218.67" fill="#9370DB" stroke="#9370DB" stroke-width="1.25" stroke-linejoin="round"/>
<polygon points="708.10,217.50 707.58,219.09 705.92,219.09 707.27,220.07 706.75,221.65 708.10,220.67 709.45,221.65 708.93,220.07 710.28,219.09 708.62,219.09" fill="#9370DB" stroke="#9370DB" stroke-width="1.25" stroke-linejoin="round"/>
<polygon points="716.30,217.92 715.78,219.50 714.12,219.50 715.47,220.48 714.95,222.07 716.30,221.09 717.65,222.07 717.13,220.48 718.48,219.50 716.82,219.50" fill="#9370DB" stroke="#9370DB" stroke-width="1.25" stroke-linejoin="round"/>
<polyline points="453.90,157.36 462.10,169.93 470.30,179.99 478.50,187.95 486.70,193.82 494.90,198.43 503.10,202.20 511.30,204.29 519.50,206.39 527.70,207.85 535.90,209.11 544.10,210.16 552.30,211.00 560.50,211.83 568.70,212.46 576.90,213.09 585.10,213.64 593.30,214.14 601.50,214.64 609.70,215.10 617.90,215.52 626.10,215.90 634.30,216.28 642.50,216.61 650.70,216.95 658.90,217.28 667.10,217.62 675.30,217.95 683.50,218.29 691.70,218.87 699.90,219.38 708.10,219.79 716.30,220.21" fill="none" stroke="#1E90FF" stroke-width="1.20" stroke-linejoin="round"/>
<polygon points="453.90,154.80 453.32,156.57 451.46,156.57 452.97,157.67 452.39,159.44 453.90,158.34 455.41,159.44 454.83,157.67 456.34,156.57 454.48,156.57" fill="#1E90FF" stroke="#1E90FF" stroke-width="1.25" stroke-linejoin="round"/>
<polygon points="462.10,167.37 461.52,169.14 459.66,169.14 461.17,170.24 460.59,172.01 462.10,170.91 463.61,172.01 463.03,170.24 464.54,169.14 462.68,169.14" fill="#1E90FF" stroke="#1E90FF" stroke-width="1.25" stroke-linejoin="round"/>
<polygon points="470.30,177.42 469.72,179.20 467.86,179.20 469.37,180.29 468.79,182.07 470.30,180.97 471.81,182.07 471.23,180.29 472.74,179.20 470.88,179.20" fill="#1E90FF" stroke="#1E90FF" stroke-width="1.25" stroke-linejoin="round"/>
<polygon points="478.50,185.39 477.92,187.16 476.06,187.16 477.57,188.25 476.99,190.03 478.50,188.93 480.01,190.03 479.43,188.25 480.94,187.16 479.08,187.16" fill="#1E90FF" stroke="#1E90FF" stroke-width="1.25" stroke-linejoin="round"/>
<polygon points="486.70,191.25 486.12,193.02 484.26,193.02 485.77,194.12 485.19,195.89 486.70,194.80 488.21,195.89 487.63,194.12 489.14,193.02 487.28,193.02" fill="#1E90FF" stroke="#1E90FF" stroke-width="1.25" stroke-linejoin="round"/>
<polygon points="494.90,195.86 494.32,197.63 492.46,197.63 493.97,198.73 493.39,200.50 494.90,199.41 496.41,200.50 495.83,198.73 497.34,197.63 495.48,197.63" fill="#1E90FF" stroke="#1E90FF" stroke-width="1.25" stroke-linejoin="round"/>
<polygon points="503.10,199.63 502.52,201.40 500.66,201.40 502.17,202.50 501.59,204.27 503.10,203.18 504.61,204.27 504.03,202.50 505.54,201.40 503.68,201.40" fill="#1E90FF" stroke="#1E90FF" stroke-width="1.25" stroke-linejoin="round"/>
<polygon points="511.30,201.73 510.72,203.50 508.86,203.50 510.37,204.59 509.79,206.37 511.30,205.27 512.81,206.37 512.23,204.59 513.74,203.50 511.88,203.50" fill="#1E90FF" stroke="#1E90FF" stroke-width="1.25" stroke-linejoin="round"/>
<polygon points="519.50,203.82 518.92,205.59 517.06,205.59 518.57,206.69 517.99,208.46 519.50,207.37 521.01,208.46 520.43,206.69 521.94,205.59 520.08,205.59" fill="#1E90FF" stroke="#1E90FF" stroke-width="1.25" stroke-linejoin="round"/>
<polygon points="527.70,205.29 527.12,207.06 525.26,207.06 526.77,208.16 526.19,209.93 527.70,208.83 529.21,209.93 528.63,208.16 530.14,207.06 528.28,207.06" fill="#1E90FF" stroke="#1E90FF" stroke-width="1.25" stroke-linejoin="round"/>
<polygon points="535.90,206.55 535.32,208.32 533.46,208.32 534.97,209.41 534.39,211.19 535.90,210.09 537.41,211.19 536.83,209.41 538.34,208.32 536.48,208.32" fill="#1E90FF" stroke="#1E90FF" stroke-width="1.25" stroke-linejoin="round"/>
<polygon points="544.10,207.59 543.52,209.37 541.66,209.37 543.17,210.46 542.59,212.23 544.10,211.14 545.61,212.23 545.03,210.46 546.54,209.37 544.68,209.37" fill="#1E90FF" stroke="#1E90FF" stroke-width="1.25" stroke-linejoin="round"/>
<polygon points="552.30,208.43 551.72,210.20 549.86,210.20 551.37,211.30 550.79,213.07 552.30,211.98 553.81,213.07 553.23,211.30 554.74,210.20 552.88,210.20" fill="#1E90FF" stroke="#1E90FF" stroke-width="1.25" stroke-linejoin="round"/>
<polygon points="560.50,209.27 559.92,211.04 558.06,211.04 559.57,212.14 558.99,213.91 560.50,212.81 562.01,213.91 561.43,212.14 562.94,211.04 561.08,211.04" fill="#1E90FF" stroke="#1E90FF" stroke-width="1.25" stroke-linejoin="round"/>
<polygon points="568.70,209.90 568.12,211.67 566.26,211.67 567.77,212.77 567.19,214.54 568.70,213.44 570.21,214.54 569.63,212.77 571.14,211.67 569.28,211.67" fill="#1E90FF" stroke="#1E90FF" stroke-width="1.25" stroke-linejoin="round"/>
<polygon points="576.90,210.53 576.32,212.30 574.46,212.30 575.97,213.39 575.39,215.17 576.90,214.07 578.41,215.17 577.83,213.39 579.34,212.30 577.48,212.30" fill="#1E90FF" stroke="#1E90FF" stroke-width="1.25" stroke-linejoin="round"/>
<polygon points="585.10,211.07 584.52,212.84 582.66,212.84 584.17,213.94 583.59,215.71 585.10,214.62 586.61,215.71 586.03,213.94 587.54,212.84 585.68,212.84" fill="#1E90FF" stroke="#1E90FF" stroke-width="1.25" stroke-linejoin="round"/>
<polygon points="593.30,211.57 592.72,213.35 590.86,213.35 592.37,214.44 591.79,216.21 593.30,215.12 594.81,216.21 594.23,214.44 595.74,213.35 593.88,213.35" fill="#1E90FF" stroke="#1E90FF" stroke-width="1.25" stroke-linejoin="round"/>
<polygon points="601.50,212.08 600.92,213.85 599.06,213.85 600.57,214.94 599.99,216.72 601.50,215.62 603.01,216.72 602.43,214.94 603.94,213.85 602.08,213.85" fill="#1E90FF" stroke="#1E90FF" stroke-width="1.25" stroke-linejoin="round"/>
<polygon points="609.70,212.54 609.12,214.31 607.26,214.31 608.77,215.40 608.19,217.18 609.70,216.08 611.21,217.18 610.63,215.40 612.14,214.31 610.28,214.31" fill="#1E90FF" stroke="#1E90FF" stroke-width="1.25" stroke-linejoin="round"/>
<polygon points="617.90,212.96 617.32,214.73 615.46,214.73 616.97,215.82 616.39,217.60 617.90,216.50 619.41,217.60 618.83,215.82 620.34,214.73 618.48,214.73" fill="#1E90FF" stroke="#1E90FF" stroke-width="1.25" stroke-linejoin="round"/>
<polygon points="626.10,213.33 625.52,215.11 623.66,215.11 625.17,216.20 624.59,217.97 626.10,216.88 627.61,217.97 627.03,216.20 628.54,215.11 626.68,215.11" fill="#1E90FF" stroke="#1E90FF" stroke-width="1.25" stroke-linejoin="round"/>
<polygon points="634.30,213.71 633.72,215.48 631.86,215.48 633.37,216.58 632.79,218.35 634.30,217.26 635.81,218.35 635.23,216.58 636.74,215.48 634.88,215.48" fill="#1E90FF" stroke="#1E90FF" stroke-width="1.25" stroke-linejoin="round"/>
<polygon points="642.50,214.05 641.92,215.82 640.06,215.82 641.57,216.91 640.99,218.69 642.50,217.59 644.01,218.69 643.43,216.91 644.94,215.82 643.08,215.82" fill="#1E90FF" stroke="#1E90FF" stroke-width="1.25" stroke-linejoin="round"/>
<polygon points="650.70,214.38 650.12,216.15 648.26,216.15 649.77,217.25 649.19,219.02 650.70,217.93 652.21,219.02 651.63,217.25 653.14,216.15 651.28,216.15" fill="#1E90FF" stroke="#1E90FF" stroke-width="1.25" stroke-linejoin="round"/>
<polygon points="658.90,214.72 658.32,216.49 656.46,216.49 657.97,217.58 657.39,219.36 658.90,218.26 660.41,219.36 659.83,217.58 661.34,216.49 659.48,216.49" fill="#1E90FF" stroke="#1E90FF" stroke-width="1.25" stroke-linejoin="round"/>
<polygon points="667.10,215.05 666.52,216.82 664.66,216.82 666.17,217.92 665.59,219.69 667.10,218.60 668.61,219.69 668.03,217.92 669.54,216.82 667.68,216.82" fill="#1E90FF" stroke="#1E90FF" stroke-width="1.25" stroke-linejoin="round"/>
<polygon points="675.30,215.39 674.72,217.16 672.86,217.16 674.37,218.25 673.79,220.03 675.30,218.93 676.81,220.03 676.23,218.25 677.74,217.16 675.88,217.16" fill="#1E90FF" stroke="#1E90FF" stroke-width="1.25" stroke-linejoin="round"/>
<polygon points="683.50,215.72 682.92,217.49 681.06,217.49 682.57,218.59 681.99,220.36 683.50,219.27 685.01,220.36 684.43,218.59 685.94,217.49 684.08,217.49" fill="#1E90FF" stroke="#1E90FF" stroke-width="1.25" stroke-linejoin="round"/>
<polygon points="691.70,216.31 691.12,218.08 689.26,218.08 690.77,219.18 690.19,220.95 691.70,219.85 693.21,220.95 692.63,219.18 694.14,218.08 692.28,218.08" fill="#1E90FF" stroke="#1E90FF" stroke-width="1.25" stroke-linejoin="round"/>
<polygon points="699.90,216.81 699.32,218.58 697.46,218.58 698.97,219.68 698.39,221.45 699.90,220.36 701.41,221.45 700.83,219.68 702.34,218.58 700.48,218.58" fill="#1E90FF" stroke="#1E90FF" stroke-width="1.25" stroke-linejoin="round"/>
<polygon points="708.10,217.23 707.52,219.00 705.66,219.00 707.17,220.10 706.59,221.87 708.10,220.77 709.61,221.87 709.03,220.10 710.54,219.00 708.68,219.00" fill="#1E90FF" stroke="#1E90FF" stroke-width="1.25" stroke-linejoin="round"/>
<polygon points="716.30,217.65 715.72,219.42 713.86,219.42 715.37,220.52 714.79,222.29 716.30,221.19 717.81,222.29 717.23,220.52 718.74,219.42 716.88,219.42" fill="#1E90FF" stroke="#1E90FF" stroke-width="1.25" stroke-linejoin="round"/>
<polyline points="453.90,161.13 462.10,175.80 470.30,187.74 478.50,196.12 486.70,201.78 494.90,205.55 503.10,208.06 511.30,209.74 519.50,211.41 527.70,212.67 535.90,213.51 544.10,213.93 552.30,214.35 560.50,214.68 568.70,214.98 576.90,215.27 585.10,215.52 593.30,215.77 601.50,216.02 609.70,216.23 617.90,216.44 626.10,216.65 634.30,216.86 642.50,217.07 650.70,217.28 658.90,217.49 667.10,217.70 675.30,217.95 683.50,218.20 691.70,218.87 699.90,219.38 708.10,219.79 716.30,220.21" fill="none" stroke="#E9967A" stroke-width="1.20" stroke-linejoin="round"/>
<polygon points="453.90,158.84 453.38,160.43 451.72,160.43 453.07,161.41 452.55,162.99 453.90,162.01 455.25,162.99 454.73,161.41 456.08,160.43 454.42,160.43" fill="#E9967A" stroke="#E9967A" stroke-width="1.25" stroke-linejoin="round"/>
<polygon points="462.10,173.50 461.58,175.09 459.92,175.09 461.27,176.07 460.75,177.66 462.10,176.68 463.45,177.66 462.93,176.07 464.28,175.09 462.62,175.09" fill="#E9967A" stroke="#E9967A" stroke-width="1.25" stroke-linejoin="round"/>
<polygon points="470.30,185.45 469.78,187.03 468.12,187.03 469.47,188.01 468.95,189.60 470.30,188.62 471.65,189.60 471.13,188.01 472.48,187.03 470.82,187.03" fill="#E9967A" stroke="#E9967A" stroke-width="1.25" stroke-linejoin="round"/>
<polygon points="478.50,193.83 477.98,195.41 476.32,195.41 477.67,196.39 477.15,197.98 478.50,197.00 479.85,197.98 479.33,196.39 480.68,195.41 479.02,195.41" fill="#E9967A" stroke="#E9967A" stroke-width="1.25" stroke-linejoin="round"/>
<polygon points="486.70,199.48 486.18,201.07 484.52,201.07 485.87,202.05 485.35,203.63 486.70,202.65 488.05,203.63 487.53,202.05 488.88,201.07 487.22,201.07" fill="#E9967A" stroke="#E9967A" stroke-width="1.25" stroke-linejoin="round"/>
<polygon points="494.90,203.25 494.38,204.84 492.72,204.84 494.07,205.82 493.55,207.41 494.90,206.43 496.25,207.41 495.73,205.82 497.08,204.84 495.42,204.84" fill="#E9967A" stroke="#E9967A" stroke-width="1.25" stroke-linejoin="round"/>
<polygon points="503.10,205.77 502.58,207.35 500.92,207.35 502.27,208.33 501.75,209.92 503.10,208.94 504.45,209.92 503.93,208.33 505.28,207.35 503.62,207.35" fill="#E9967A" stroke="#E9967A" stroke-width="1.25" stroke-linejoin="round"/>
<polygon points="511.30,207.44 510.78,209.03 509.12,209.03 510.47,210.01 509.95,211.60 511.30,210.62 512.65,211.60 512.13,210.01 513.48,209.03 511.82,209.03" fill="#E9967A" stroke="#E9967A" stroke-width="1.25" stroke-linejoin="round"/>
<polygon points="519.50,209.12 518.98,210.71 517.32,210.71 518.67,211.69 518.15,213.27 519.50,212.29 520.85,213.27 520.33,211.69 521.68,210.71 520.02,210.71" fill="#E9967A" stroke="#E9967A" stroke-width="1.25" stroke-linejoin="round"/>
<polygon points="527.70,210.38 527.18,211.96 525.52,211.96 526.87,212.94 526.35,214.53 527.70,213.55 529.05,214.53 528.53,212.94 529.88,211.96 528.22,211.96" fill="#E9967A" stroke="#E9967A" stroke-width="1.25" stroke-linejoin="round"/>
<polygon points="535.90,211.22 535.38,212.80 533.72,212.80 535.07,213.78 534.55,215.37 535.90,214.39 537.25,215.37 536.73,213.78 538.08,212.80 536.42,212.80" fill="#E9967A" stroke="#E9967A" stroke-width="1.25" stroke-linejoin="round"/>
<polygon points="544.10,211.63 543.58,213.22 541.92,213.22 543.27,214.20 542.75,215.79 544.10,214.81 545.45,215.79 544.93,214.20 546.28,213.22 544.62,213.22" fill="#E9967A" stroke="#E9967A" stroke-width="1.25" stroke-linejoin="round"/>
<polygon points="552.30,212.05 551.78,213.64 550.12,213.64 551.47,214.62 550.95,216.20 552.30,215.22 553.65,216.20 553.13,214.62 554.48,213.64 552.82,213.64" fill="#E9967A" stroke="#E9967A" stroke-width="1.25" stroke-linejoin="round"/>
<polygon points="560.50,212.39 559.98,213.97 558.32,213.97 559.67,214.95 559.15,216.54 560.50,215.56 561.85,216.54 561.33,214.95 562.68,213.97 561.02,213.97" fill="#E9967A" stroke="#E9967A" stroke-width="1.25" stroke-linejoin="round"/>
<polygon points="568.70,212.68 568.18,214.27 566.52,214.27 567.87,215.25 567.35,216.83 568.70,215.85 570.05,216.83 569.53,215.25 570.88,214.27 569.22,214.27" fill="#E9967A" stroke="#E9967A" stroke-width="1.25" stroke-linejoin="round"/>
<polygon points="576.90,212.97 576.38,214.56 574.72,214.56 576.07,215.54 575.55,217.13 576.90,216.15 578.25,217.13 577.73,215.54 579.08,214.56 577.42,214.56" fill="#E9967A" stroke="#E9967A" stroke-width="1.25" stroke-linejoin="round"/>
<polygon points="585.10,213.23 584.58,214.81 582.92,214.81 584.27,215.79 583.75,217.38 585.10,216.40 586.45,217.38 585.93,215.79 587.28,214.81 585.62,214.81" fill="#E9967A" stroke="#E9967A" stroke-width="1.25" stroke-linejoin="round"/>
<polygon points="593.30,213.48 592.78,215.06 591.12,215.06 592.47,216.04 591.95,217.63 593.30,216.65 594.65,217.63 594.13,216.04 595.48,215.06 593.82,215.06" fill="#E9967A" stroke="#E9967A" stroke-width="1.25" stroke-linejoin="round"/>
<polygon points="601.50,213.73 600.98,215.31 599.32,215.31 600.67,216.29 600.15,217.88 601.50,216.90 602.85,217.88 602.33,216.29 603.68,215.31 602.02,215.31" fill="#E9967A" stroke="#E9967A" stroke-width="1.25" stroke-linejoin="round"/>
<polygon points="609.70,213.94 609.18,215.52 607.52,215.52 608.87,216.50 608.35,218.09 609.70,217.11 611.05,218.09 610.53,216.50 611.88,215.52 610.22,215.52" fill="#E9967A" stroke="#E9967A" stroke-width="1.25" stroke-linejoin="round"/>
<polygon points="617.90,214.15 617.38,215.73 615.72,215.73 617.07,216.71 616.55,218.30 617.90,217.32 619.25,218.30 618.73,216.71 620.08,215.73 618.42,215.73" fill="#E9967A" stroke="#E9967A" stroke-width="1.25" stroke-linejoin="round"/>
<polygon points="626.10,214.36 625.58,215.94 623.92,215.94 625.27,216.92 624.75,218.51 626.10,217.53 627.45,218.51 626.93,216.92 628.28,215.94 626.62,215.94" fill="#E9967A" stroke="#E9967A" stroke-width="1.25" stroke-linejoin="round"/>
<polygon points="634.30,214.57 633.78,216.15 632.12,216.15 633.47,217.13 632.95,218.72 634.30,217.74 635.65,218.72 635.13,217.13 636.48,216.15 634.82,216.15" fill="#E9967A" stroke="#E9967A" stroke-width="1.25" stroke-linejoin="round"/>
<polygon points="642.50,214.78 641.98,216.36 640.32,216.36 641.67,217.34 641.15,218.93 642.50,217.95 643.85,218.93 643.33,217.34 644.68,216.36 643.02,216.36" fill="#E9967A" stroke="#E9967A" stroke-width="1.25" stroke-linejoin="round"/>
<polygon points="650.70,214.99 650.18,216.57 648.52,216.57 649.87,217.55 649.35,219.14 650.70,218.16 652.05,219.14 651.53,217.55 652.88,216.57 651.22,216.57" fill="#E9967A" stroke="#E9967A" stroke-width="1.25" stroke-linejoin="round"/>
<polygon points="658.90,215.20 658.38,216.78 656.72,216.78 658.07,217.76 657.55,219.35 658.90,218.37 660.25,219.35 659.73,217.76 661.08,216.78 659.42,216.78" fill="#E9967A" stroke="#E9967A" stroke-width="1.25" stroke-linejoin="round"/>
<polygon points="667.10,215.41 666.58,216.99 664.92,216.99 666.27,217.97 665.75,219.56 667.10,218.58 668.45,219.56 667.93,217.97 669.28,216.99 667.62,216.99" fill="#E9967A" stroke="#E9967A" stroke-width="1.25" stroke-linejoin="round"/>
<polygon points="675.30,215.66 674.78,217.24 673.12,217.24 674.47,218.22 673.95,219.81 675.30,218.83 676.65,219.81 676.13,218.22 677.48,217.24 675.82,217.24" fill="#E9967A" stroke="#E9967A" stroke-width="1.25" stroke-linejoin="round"/>
<polygon points="683.50,215.91 682.98,217.49 681.32,217.49 682.67,218.47 682.15,220.06 683.50,219.08 684.85,220.06 684.33,218.47 685.68,217.49 684.02,217.49" fill="#E9967A" stroke="#E9967A" stroke-width="1.25" stroke-linejoin="round"/>
<polygon points="691.70,216.58 691.18,218.16 689.52,218.16 690.87,219.14 690.35,220.73 691.70,219.75 693.05,220.73 692.53,219.14 693.88,218.16 692.22,218.16" fill="#E9967A" stroke="#E9967A" stroke-width="1.25" stroke-linejoin="round"/>
<polygon points="699.90,217.08 699.38,218.67 697.72,218.67 699.07,219.65 698.55,221.23 699.90,220.25 701.25,221.23 700.73,219.65 702.08,218.67 700.42,218.67" fill="#E9967A" stroke="#E9967A" stroke-width="1.25" stroke-linejoin="round"/>
<polygon points="708.10,217.50 707.58,219.09 705.92,219.09 707.27,220.07 706.75,221.65 708.10,220.67 709.45,221.65 708.93,220.07 710.28,219.09 708.62,219.09" fill="#E9967A" stroke="#E9967A" stroke-width="1.25" stroke-linejoin="round"/>
<polygon points="716.30,217.92 715.78,219.50 714.12,219.50 715.47,220.48 714.95,222.07 716.30,221.09 717.65,222.07 717.13,220.48 718.48,219.50 716.82,219.50" fill="#E9967A" stroke="#E9967A" stroke-width="1.25" stroke-linejoin="round"/>
</g>
<rect x="440.60" y="18.50" width="288.90" height="211.50" fill="none" stroke="#444" stroke-width="1.1"/>
<line x1="453.90" y1="230.00" x2="453.90" y2="233.00" stroke="#444" stroke-width="0.9"/>
<text x="453.90" y="246.00" text-anchor="middle" font-family='"Liberation Serif", serif' font-size="14.4" fill="#111">0</text>
<line x1="494.90" y1="230.00" x2="494.90" y2="233.00" stroke="#444" stroke-width="0.9"/>
<text x="494.90" y="246.00" text-anchor="middle" font-family='"Liberation Serif", serif' font-size="14.4" fill="#111">5</text>
<line x1="535.90" y1="230.00" x2="535.90" y2="233.00" stroke="#444" stroke-width="0.9"/>
<text x="535.90" y="246.00" text-anchor="middle" font-family='"Liberation Serif", serif' font-size="14.4" fill="#111">10</text>
<line x1="576.90" y1="230.00" x2="576.90" y2="233.00" stroke="#444" stroke-width="0.9"/>
<text x="576.90" y="246.00" text-anchor="middle" font-family='"Liberation Serif", serif' font-size="14.4" fill="#111">15</text>
<line x1="617.90" y1="230.00" x2="617.90" y2="233.00" stroke="#444" stroke-width="0.9"/>
<text x="617.90" y="246.00" text-anchor="middle" font-family='"Liberation Serif", serif' font-size="14.4" fill="#111">20</text>
<line x1="658.90" y1="230.00" x2="658.90" y2="233.00" stroke="#444" stroke-width="0.9"/>
<text x="658.90" y="246.00" text-anchor="middle" font-family='"Liberation Serif", serif' font-size="14.4" fill="#111">25</text>
<line x1="699.90" y1="230.00" x2="699.90" y2="233.00" stroke="#444" stroke-width="0.9"/>
<text x="699.90" y="246.00" text-anchor="middle" font-family='"Liberation Serif", serif' font-size="14.4" fill="#111">30</text>
<line x1="437.60" y1="217.70" x2="440.60" y2="217.70" stroke="#444" stroke-width="0.9"/>
<text x="434.60" y="222.60" text-anchor="end" font-family='"Liberation Serif", serif' font-size="14.4" fill="#111">0</text>
<line x1="437.60" y1="175.80" x2="440.60" y2="175.80" stroke="#444" stroke-width="0.9"/>
<text x="434.60" y="180.70" text-anchor="end" font-family='"Liberation Serif", serif' font-size="14.4" fill="#111">1</text>
<line x1="437.60" y1="133.90" x2="440.60" y2="133.90" stroke="#444" stroke-width="0.9"/>
<text x="434.60" y="138.80" text-anchor="end" font-family='"Liberation Serif", serif' font-size="14.4" fill="#111">2</text>
<line x1="437.60" y1="92.00" x2="440.60" y2="92.00" stroke="#444" stroke-width="0.9"/>
<text x="434.60" y="96.90" text-anchor="end" font-family='"Liberation Serif", serif' font-size="14.4" fill="#111">3</text>
<line x1="437.60" y1="50.10" x2="440.60" y2="50.10" stroke="#444" stroke-width="0.9"/>
<text x="434.60" y="55.00" text-anchor="end" font-family='"Liberation Serif", serif' font-size="14.4" fill="#111">4</text>
<rect x="661.30" y="18.50" width="68.30" height="161.90" rx="1.5" fill="#fff" fill-opacity="0.85" stroke="#d0d0d0" stroke-width="0.8"/>
<line x1="663.80" y1="28.80" x2="684.60" y2="28.80" stroke="#FF7F50" stroke-width="1.4"/>
<circle cx="674.20" cy="28.80" r="2.90" fill="#FF7F50"/>
<text x="693.0" y="32.4" font-family='"Liberation Serif", serif' font-size="10.0" fill="#111"><tspan font-style="italic" font-size="11.2">β</tspan><tspan font-size="8.0" dy="2.4">1</tspan><tspan dy="-2.4"> = 0.0</tspan></text>
<line x1="663.80" y1="46.41" x2="684.60" y2="46.41" stroke="#FF0000" stroke-width="1.4"/>
<circle cx="674.20" cy="46.41" r="2.90" fill="#FF0000"/>
<text x="693.0" y="50.0" font-family='"Liberation Serif", serif' font-size="10.0" fill="#111"><tspan font-style="italic" font-size="11.2">β</tspan><tspan font-size="8.0" dy="2.4">1</tspan><tspan dy="-2.4"> =0.1</tspan></text>
<line x1="663.80" y1="64.02" x2="684.60" y2="64.02" stroke="#6B8E23" stroke-width="1.4"/>
<circle cx="674.20" cy="64.02" r="2.90" fill="#6B8E23"/>
<text x="693.0" y="67.6" font-family='"Liberation Serif", serif' font-size="10.0" fill="#111"><tspan font-style="italic" font-size="11.2">β</tspan><tspan font-size="8.0" dy="2.4">1</tspan><tspan dy="-2.4"> =0.2</tspan></text>
<line x1="663.80" y1="81.63" x2="684.60" y2="81.63" stroke="#D2691E" stroke-width="1.4"/>
<polygon points="674.20,78.93 671.50,84.33 676.90,84.33" fill="#D2691E"/>
<text x="693.0" y="85.2" font-family='"Liberation Serif", serif' font-size="10.0" fill="#111"><tspan font-style="italic" font-size="11.2">β</tspan><tspan font-size="8.0" dy="2.4">1</tspan><tspan dy="-2.4"> =0.3</tspan></text>
<line x1="663.80" y1="99.24" x2="684.60" y2="99.24" stroke="#6A5ACD" stroke-width="1.4"/>
<polygon points="674.20,96.54 671.50,101.94 676.90,101.94" fill="#6A5ACD"/>
<text x="693.0" y="102.8" font-family='"Liberation Serif", serif' font-size="10.0" fill="#111"><tspan font-style="italic" font-size="11.2">β</tspan><tspan font-size="8.0" dy="2.4">1</tspan><tspan dy="-2.4"> =0.4</tspan></text>
<line x1="663.80" y1="116.85" x2="684.60" y2="116.85" stroke="#DDA0DD" stroke-width="1.4"/>
<polygon points="674.20,114.15 671.50,119.55 676.90,119.55" fill="#DDA0DD"/>
<text x="693.0" y="120.4" font-family='"Liberation Serif", serif' font-size="10.0" fill="#111"><tspan font-style="italic" font-size="11.2">β</tspan><tspan font-size="8.0" dy="2.4">1</tspan><tspan dy="-2.4"> =0.5</tspan></text>
<line x1="663.80" y1="134.46" x2="684.60" y2="134.46" stroke="#9370DB" stroke-width="1.4"/>
<polygon points="674.20,132.16 673.68,133.75 672.01,133.75 673.36,134.73 672.85,136.32 674.20,135.34 675.55,136.32 675.04,134.73 676.39,133.75 674.72,133.75" fill="#9370DB" stroke="#9370DB" stroke-width="1.25" stroke-linejoin="round"/>
<text x="693.0" y="138.1" font-family='"Liberation Serif", serif' font-size="10.0" fill="#111"><tspan font-style="italic" font-size="11.2">β</tspan><tspan font-size="8.0" dy="2.4">1</tspan><tspan dy="-2.4"> =0.6</tspan></text>
<line x1="663.80" y1="152.07" x2="684.60" y2="152.07" stroke="#1E90FF" stroke-width="1.4"/>
<polygon points="674.20,149.77 673.68,151.36 672.01,151.36 673.36,152.34 672.85,153.93 674.20,152.95 675.55,153.93 675.04,152.34 676.39,151.36 674.72,151.36" fill="#1E90FF" stroke="#1E90FF" stroke-width="1.25" stroke-linejoin="round"/>
<text x="693.0" y="155.7" font-family='"Liberation Serif", serif' font-size="10.0" fill="#111"><tspan font-style="italic" font-size="11.2">β</tspan><tspan font-size="8.0" dy="2.4">1</tspan><tspan dy="-2.4"> =0.7</tspan></text>
<line x1="663.80" y1="169.68" x2="684.60" y2="169.68" stroke="#E9967A" stroke-width="1.4"/>
<polygon points="674.20,167.38 673.68,168.97 672.01,168.97 673.36,169.95 672.85,171.54 674.20,170.56 675.55,171.54 675.04,169.95 676.39,168.97 674.72,168.97" fill="#E9967A" stroke="#E9967A" stroke-width="1.25" stroke-linejoin="round"/>
<text x="693.0" y="173.3" font-family='"Liberation Serif", serif' font-size="10.0" fill="#111"><tspan font-style="italic" font-size="11.2">β</tspan><tspan font-size="8.0" dy="2.4">1</tspan><tspan dy="-2.4"> =0.8</tspan></text>
<text x="471.0" y="51.0" font-family='"Liberation Serif", serif' font-size="14.4" fill="#111">stable</text>
<text x="455.0" y="218.0" font-family='"Liberation Serif", serif' font-size="14.4" fill="#111">unstable</text>
<text x="585.05" y="263.30" text-anchor="middle" font-family='"Liberation Serif", serif' font-weight="bold" font-size="14.4" fill="#111">Velocity (m/s)</text>
<text transform="translate(420.50,125.05) rotate(-90)" text-anchor="middle" font-family='"Liberation Serif", serif' font-weight="bold" font-size="14.4" fill="#111">Desired time gap T (s)</text>
<text x="580.2" y="294.2" text-anchor="middle" font-family='"Liberation Serif", serif' font-size="16" fill="#111">(<tspan font-weight="bold">b</tspan>)</text>
<clipPath id="clipc"><rect x="62.50" y="324.30" width="276.50" height="214.70"/></clipPath>
<g clip-path="url(#clipc)">
<polyline points="62.30,344.17 69.22,345.84 76.14,349.75 83.05,355.79 89.97,367.41 96.89,386.29 103.81,412.33 110.73,441.94 117.64,473.22 124.56,501.16 131.48,520.16 138.40,529.65 145.32,527.42 152.23,516.24 159.15,498.37 166.07,476.58 172.99,454.23 179.91,433.56 186.82,414.00 193.74,397.24 200.66,384.39 207.58,373.50 214.50,364.84 221.41,358.41 228.33,353.55 235.25,350.09 242.17,348.08 249.09,346.40 256.00,345.84 262.92,345.30 269.84,344.89 276.76,344.64 283.68,344.44 290.59,344.33 297.51,344.28 304.43,344.24 311.35,344.22 318.27,344.23 325.18,344.24 332.10,344.28" fill="none" stroke="#FF7F50" stroke-width="1.15" stroke-linejoin="round"/>
<circle cx="62.30" cy="344.17" r="2.75" fill="#FF7F50"/>
<circle cx="69.22" cy="345.84" r="2.75" fill="#FF7F50"/>
<circle cx="76.14" cy="349.75" r="2.75" fill="#FF7F50"/>
<circle cx="83.05" cy="355.79" r="2.75" fill="#FF7F50"/>
<circle cx="89.97" cy="367.41" r="2.75" fill="#FF7F50"/>
<circle cx="96.89" cy="386.29" r="2.75" fill="#FF7F50"/>
<circle cx="103.81" cy="412.33" r="2.75" fill="#FF7F50"/>
<circle cx="110.73" cy="441.94" r="2.75" fill="#FF7F50"/>
<circle cx="117.64" cy="473.22" r="2.75" fill="#FF7F50"/>
<circle cx="124.56" cy="501.16" r="2.75" fill="#FF7F50"/>
<circle cx="131.48" cy="520.16" r="2.75" fill="#FF7F50"/>
<circle cx="138.40" cy="529.65" r="2.75" fill="#FF7F50"/>
<circle cx="145.32" cy="527.42" r="2.75" fill="#FF7F50"/>
<circle cx="152.23" cy="516.24" r="2.75" fill="#FF7F50"/>
<circle cx="159.15" cy="498.37" r="2.75" fill="#FF7F50"/>
<circle cx="166.07" cy="476.58" r="2.75" fill="#FF7F50"/>
<circle cx="172.99" cy="454.23" r="2.75" fill="#FF7F50"/>
<circle cx="179.91" cy="433.56" r="2.75" fill="#FF7F50"/>
<circle cx="186.82" cy="414.00" r="2.75" fill="#FF7F50"/>
<circle cx="193.74" cy="397.24" r="2.75" fill="#FF7F50"/>
<circle cx="200.66" cy="384.39" r="2.75" fill="#FF7F50"/>
<circle cx="207.58" cy="373.50" r="2.75" fill="#FF7F50"/>
<circle cx="214.50" cy="364.84" r="2.75" fill="#FF7F50"/>
<circle cx="221.41" cy="358.41" r="2.75" fill="#FF7F50"/>
<circle cx="228.33" cy="353.55" r="2.75" fill="#FF7F50"/>
<circle cx="235.25" cy="350.09" r="2.75" fill="#FF7F50"/>
<circle cx="242.17" cy="348.08" r="2.75" fill="#FF7F50"/>
<circle cx="249.09" cy="346.40" r="2.75" fill="#FF7F50"/>
<circle cx="256.00" cy="345.84" r="2.75" fill="#FF7F50"/>
<circle cx="262.92" cy="345.30" r="2.75" fill="#FF7F50"/>
<circle cx="269.84" cy="344.89" r="2.75" fill="#FF7F50"/>
<circle cx="276.76" cy="344.64" r="2.75" fill="#FF7F50"/>
<circle cx="283.68" cy="344.44" r="2.75" fill="#FF7F50"/>
<circle cx="290.59" cy="344.33" r="2.75" fill="#FF7F50"/>
<circle cx="297.51" cy="344.28" r="2.75" fill="#FF7F50"/>
<circle cx="304.43" cy="344.24" r="2.75" fill="#FF7F50"/>
<circle cx="311.35" cy="344.22" r="2.75" fill="#FF7F50"/>
<circle cx="318.27" cy="344.23" r="2.75" fill="#FF7F50"/>
<circle cx="325.18" cy="344.24" r="2.75" fill="#FF7F50"/>
<circle cx="332.10" cy="344.28" r="2.75" fill="#FF7F50"/>
<polyline points="62.30,343.61 69.22,344.72 76.14,348.19 83.05,353.50 89.97,363.50 96.89,378.69 103.81,401.71 110.73,427.97 117.64,455.35 124.56,479.93 131.48,497.25 138.40,505.07 145.32,503.39 152.23,493.34 159.15,477.69 166.07,458.14 172.99,439.14 179.91,420.15 186.82,403.39 193.74,388.86 200.66,377.13 207.58,367.63 214.50,360.37 221.41,355.17 228.33,351.32 235.25,348.63 242.17,346.68 249.09,345.77 256.00,345.17 262.92,344.66 269.84,344.33 276.76,344.19 283.68,344.09 290.59,344.05 297.51,344.05 304.43,344.05 311.35,344.05 318.27,344.07 325.18,344.11 332.10,344.17" fill="none" stroke="#FF0000" stroke-width="1.15" stroke-linejoin="round"/>
<circle cx="62.30" cy="343.61" r="2.75" fill="#FF0000"/>
<circle cx="69.22" cy="344.72" r="2.75" fill="#FF0000"/>
<circle cx="76.14" cy="348.19" r="2.75" fill="#FF0000"/>
<circle cx="83.05" cy="353.50" r="2.75" fill="#FF0000"/>
<circle cx="89.97" cy="363.50" r="2.75" fill="#FF0000"/>
<circle cx="96.89" cy="378.69" r="2.75" fill="#FF0000"/>
<circle cx="103.81" cy="401.71" r="2.75" fill="#FF0000"/>
<circle cx="110.73" cy="427.97" r="2.75" fill="#FF0000"/>
<circle cx="117.64" cy="455.35" r="2.75" fill="#FF0000"/>
<circle cx="124.56" cy="479.93" r="2.75" fill="#FF0000"/>
<circle cx="131.48" cy="497.25" r="2.75" fill="#FF0000"/>
<circle cx="138.40" cy="505.07" r="2.75" fill="#FF0000"/>
<circle cx="145.32" cy="503.39" r="2.75" fill="#FF0000"/>
<circle cx="152.23" cy="493.34" r="2.75" fill="#FF0000"/>
<circle cx="159.15" cy="477.69" r="2.75" fill="#FF0000"/>
<circle cx="166.07" cy="458.14" r="2.75" fill="#FF0000"/>
<circle cx="172.99" cy="439.14" r="2.75" fill="#FF0000"/>
<circle cx="179.91" cy="420.15" r="2.75" fill="#FF0000"/>
<circle cx="186.82" cy="403.39" r="2.75" fill="#FF0000"/>
<circle cx="193.74" cy="388.86" r="2.75" fill="#FF0000"/>
<circle cx="200.66" cy="377.13" r="2.75" fill="#FF0000"/>
<circle cx="207.58" cy="367.63" r="2.75" fill="#FF0000"/>
<circle cx="214.50" cy="360.37" r="2.75" fill="#FF0000"/>
<circle cx="221.41" cy="355.17" r="2.75" fill="#FF0000"/>
<circle cx="228.33" cy="351.32" r="2.75" fill="#FF0000"/>
<circle cx="235.25" cy="348.63" r="2.75" fill="#FF0000"/>
<circle cx="242.17" cy="346.68" r="2.75" fill="#FF0000"/>
<circle cx="249.09" cy="345.77" r="2.75" fill="#FF0000"/>
<circle cx="256.00" cy="345.17" r="2.75" fill="#FF0000"/>
<circle cx="262.92" cy="344.66" r="2.75" fill="#FF0000"/>
<circle cx="269.84" cy="344.33" r="2.75" fill="#FF0000"/>
<circle cx="276.76" cy="344.19" r="2.75" fill="#FF0000"/>
<circle cx="283.68" cy="344.09" r="2.75" fill="#FF0000"/>
<circle cx="290.59" cy="344.05" r="2.75" fill="#FF0000"/>
<circle cx="297.51" cy="344.05" r="2.75" fill="#FF0000"/>
<circle cx="304.43" cy="344.05" r="2.75" fill="#FF0000"/>
<circle cx="311.35" cy="344.05" r="2.75" fill="#FF0000"/>
<circle cx="318.27" cy="344.07" r="2.75" fill="#FF0000"/>
<circle cx="325.18" cy="344.11" r="2.75" fill="#FF0000"/>
<circle cx="332.10" cy="344.17" r="2.75" fill="#FF0000"/>
<polyline points="62.30,343.05 69.22,343.61 76.14,345.84 83.05,349.92 89.97,358.80 96.89,372.10 103.81,391.10 110.73,413.44 117.64,437.47 124.56,458.70 131.48,473.78 138.40,481.05 145.32,479.37 152.23,470.43 159.15,457.02 166.07,440.26 172.99,423.50 179.91,407.02 186.82,392.77 193.74,379.92 200.66,370.42 207.58,362.38 214.50,356.79 221.41,352.38 228.33,348.91 235.25,346.96 242.17,345.28 249.09,344.53 256.00,344.05 262.92,343.68 269.84,343.49 276.76,343.49 283.68,343.49 290.59,343.49 297.51,343.55 304.43,343.66 311.35,343.77 318.27,343.87 325.18,343.96 332.10,344.05" fill="none" stroke="#6B8E23" stroke-width="1.15" stroke-linejoin="round"/>
<circle cx="62.30" cy="343.05" r="2.75" fill="#6B8E23"/>
<circle cx="69.22" cy="343.61" r="2.75" fill="#6B8E23"/>
<circle cx="76.14" cy="345.84" r="2.75" fill="#6B8E23"/>
<circle cx="83.05" cy="349.92" r="2.75" fill="#6B8E23"/>
<circle cx="89.97" cy="358.80" r="2.75" fill="#6B8E23"/>
<circle cx="96.89" cy="372.10" r="2.75" fill="#6B8E23"/>
<circle cx="103.81" cy="391.10" r="2.75" fill="#6B8E23"/>
<circle cx="110.73" cy="413.44" r="2.75" fill="#6B8E23"/>
<circle cx="117.64" cy="437.47" r="2.75" fill="#6B8E23"/>
<circle cx="124.56" cy="458.70" r="2.75" fill="#6B8E23"/>
<circle cx="131.48" cy="473.78" r="2.75" fill="#6B8E23"/>
<circle cx="138.40" cy="481.05" r="2.75" fill="#6B8E23"/>
<circle cx="145.32" cy="479.37" r="2.75" fill="#6B8E23"/>
<circle cx="152.23" cy="470.43" r="2.75" fill="#6B8E23"/>
<circle cx="159.15" cy="457.02" r="2.75" fill="#6B8E23"/>
<circle cx="166.07" cy="440.26" r="2.75" fill="#6B8E23"/>
<circle cx="172.99" cy="423.50" r="2.75" fill="#6B8E23"/>
<circle cx="179.91" cy="407.02" r="2.75" fill="#6B8E23"/>
<circle cx="186.82" cy="392.77" r="2.75" fill="#6B8E23"/>
<circle cx="193.74" cy="379.92" r="2.75" fill="#6B8E23"/>
<circle cx="200.66" cy="370.42" r="2.75" fill="#6B8E23"/>
<circle cx="207.58" cy="362.38" r="2.75" fill="#6B8E23"/>
<circle cx="214.50" cy="356.79" r="2.75" fill="#6B8E23"/>
<circle cx="221.41" cy="352.38" r="2.75" fill="#6B8E23"/>
<circle cx="228.33" cy="348.91" r="2.75" fill="#6B8E23"/>
<circle cx="235.25" cy="346.96" r="2.75" fill="#6B8E23"/>
<circle cx="242.17" cy="345.28" r="2.75" fill="#6B8E23"/>
<circle cx="249.09" cy="344.53" r="2.75" fill="#6B8E23"/>
<circle cx="256.00" cy="344.05" r="2.75" fill="#6B8E23"/>
<circle cx="262.92" cy="343.68" r="2.75" fill="#6B8E23"/>
<circle cx="269.84" cy="343.49" r="2.75" fill="#6B8E23"/>
<circle cx="276.76" cy="343.49" r="2.75" fill="#6B8E23"/>
<circle cx="283.68" cy="343.49" r="2.75" fill="#6B8E23"/>
<circle cx="290.59" cy="343.49" r="2.75" fill="#6B8E23"/>
<circle cx="297.51" cy="343.55" r="2.75" fill="#6B8E23"/>
<circle cx="304.43" cy="343.66" r="2.75" fill="#6B8E23"/>
<circle cx="311.35" cy="343.77" r="2.75" fill="#6B8E23"/>
<circle cx="318.27" cy="343.87" r="2.75" fill="#6B8E23"/>
<circle cx="325.18" cy="343.96" r="2.75" fill="#6B8E23"/>
<circle cx="332.10" cy="344.05" r="2.75" fill="#6B8E23"/>
<polyline points="62.30,342.49 69.22,342.49 76.14,344.17 83.05,348.63 89.97,353.50 96.89,365.40 103.81,381.99 110.73,400.59 117.64,421.27 124.56,439.14 131.48,451.99 138.40,457.58 145.32,455.91 152.23,448.64 159.15,436.91 166.07,422.94 172.99,408.42 179.91,395.01 186.82,382.72 193.74,372.38 200.66,363.50 207.58,356.79 214.50,352.10 221.41,348.91 228.33,346.40 235.25,344.67 242.17,343.61 249.09,343.19 256.00,342.94 262.92,342.75 269.84,342.66 276.76,342.70 283.68,342.81 290.59,342.94 297.51,343.10 304.43,343.30 311.35,343.49 318.27,343.66 325.18,343.80 332.10,343.94" fill="none" stroke="#D2691E" stroke-width="1.15" stroke-linejoin="round"/>
<polygon points="62.30,339.74 59.55,345.24 65.05,345.24" fill="#D2691E"/>
<polygon points="69.22,339.74 66.47,345.24 71.97,345.24" fill="#D2691E"/>
<polygon points="76.14,341.42 73.39,346.92 78.89,346.92" fill="#D2691E"/>
<polygon points="83.05,345.88 80.30,351.38 85.80,351.38" fill="#D2691E"/>
<polygon points="89.97,350.75 87.22,356.25 92.72,356.25" fill="#D2691E"/>
<polygon points="96.89,362.65 94.14,368.15 99.64,368.15" fill="#D2691E"/>
<polygon points="103.81,379.24 101.06,384.74 106.56,384.74" fill="#D2691E"/>
<polygon points="110.73,397.84 107.98,403.34 113.48,403.34" fill="#D2691E"/>
<polygon points="117.64,418.52 114.89,424.02 120.39,424.02" fill="#D2691E"/>
<polygon points="124.56,436.39 121.81,441.89 127.31,441.89" fill="#D2691E"/>
<polygon points="131.48,449.24 128.73,454.74 134.23,454.74" fill="#D2691E"/>
<polygon points="138.40,454.83 135.65,460.33 141.15,460.33" fill="#D2691E"/>
<polygon points="145.32,453.16 142.57,458.66 148.07,458.66" fill="#D2691E"/>
<polygon points="152.23,445.89 149.48,451.39 154.98,451.39" fill="#D2691E"/>
<polygon points="159.15,434.16 156.40,439.66 161.90,439.66" fill="#D2691E"/>
<polygon points="166.07,420.19 163.32,425.69 168.82,425.69" fill="#D2691E"/>
<polygon points="172.99,405.67 170.24,411.17 175.74,411.17" fill="#D2691E"/>
<polygon points="179.91,392.26 177.16,397.76 182.66,397.76" fill="#D2691E"/>
<polygon points="186.82,379.97 184.07,385.47 189.57,385.47" fill="#D2691E"/>
<polygon points="193.74,369.63 190.99,375.13 196.49,375.13" fill="#D2691E"/>
<polygon points="200.66,360.75 197.91,366.25 203.41,366.25" fill="#D2691E"/>
<polygon points="207.58,354.04 204.83,359.54 210.33,359.54" fill="#D2691E"/>
<polygon points="214.50,349.35 211.75,354.85 217.25,354.85" fill="#D2691E"/>
<polygon points="221.41,346.16 218.66,351.66 224.16,351.66" fill="#D2691E"/>
<polygon points="228.33,343.65 225.58,349.15 231.08,349.15" fill="#D2691E"/>
<polygon points="235.25,341.92 232.50,347.42 238.00,347.42" fill="#D2691E"/>
<polygon points="242.17,340.86 239.42,346.36 244.92,346.36" fill="#D2691E"/>
<polygon points="249.09,340.44 246.34,345.94 251.84,345.94" fill="#D2691E"/>
<polygon points="256.00,340.19 253.25,345.69 258.75,345.69" fill="#D2691E"/>
<polygon points="262.92,340.00 260.17,345.50 265.67,345.50" fill="#D2691E"/>
<polygon points="269.84,339.91 267.09,345.41 272.59,345.41" fill="#D2691E"/>
<polygon points="276.76,339.95 274.01,345.45 279.51,345.45" fill="#D2691E"/>
<polygon points="283.68,340.06 280.93,345.56 286.43,345.56" fill="#D2691E"/>
<polygon points="290.59,340.19 287.84,345.69 293.34,345.69" fill="#D2691E"/>
<polygon points="297.51,340.35 294.76,345.85 300.26,345.85" fill="#D2691E"/>
<polygon points="304.43,340.55 301.68,346.05 307.18,346.05" fill="#D2691E"/>
<polygon points="311.35,340.74 308.60,346.24 314.10,346.24" fill="#D2691E"/>
<polygon points="318.27,340.91 315.52,346.41 321.02,346.41" fill="#D2691E"/>
<polygon points="325.18,341.05 322.43,346.55 327.93,346.55" fill="#D2691E"/>
<polygon points="332.10,341.19 329.35,346.69 334.85,346.69" fill="#D2691E"/>
<polyline points="62.30,341.93 69.22,341.37 76.14,341.93 83.05,344.72 89.97,349.53 96.89,358.80 103.81,371.43 110.73,386.63 117.64,403.22 124.56,417.91 131.48,429.09 138.40,434.67 145.32,433.00 152.23,426.29 159.15,417.35 166.07,406.18 172.99,393.89 179.91,382.72 186.82,372.10 193.74,362.38 200.66,355.62 207.58,351.32 214.50,347.57 221.41,343.77 228.33,342.21 235.25,341.26 242.17,340.81 249.09,340.99 256.00,341.26 262.92,341.40 269.84,341.54 276.76,341.77 283.68,342.08 290.59,342.38 297.51,342.66 304.43,342.95 311.35,343.22 318.27,343.46 325.18,343.68 332.10,343.89" fill="none" stroke="#6A5ACD" stroke-width="1.15" stroke-linejoin="round"/>
<polygon points="62.30,339.32 59.69,344.54 64.91,344.54" fill="#6A5ACD"/>
<polygon points="69.22,338.76 66.61,343.98 71.83,343.98" fill="#6A5ACD"/>
<polygon points="76.14,339.32 73.52,344.54 78.75,344.54" fill="#6A5ACD"/>
<polygon points="83.05,342.11 80.44,347.34 85.67,347.34" fill="#6A5ACD"/>
<polygon points="89.97,346.92 87.36,352.14 92.58,352.14" fill="#6A5ACD"/>
<polygon points="96.89,356.19 94.28,361.42 99.50,361.42" fill="#6A5ACD"/>
<polygon points="103.81,368.82 101.20,374.04 106.42,374.04" fill="#6A5ACD"/>
<polygon points="110.73,384.01 108.11,389.24 113.34,389.24" fill="#6A5ACD"/>
<polygon points="117.64,400.61 115.03,405.83 120.26,405.83" fill="#6A5ACD"/>
<polygon points="124.56,415.30 121.95,420.53 127.17,420.53" fill="#6A5ACD"/>
<polygon points="131.48,426.48 128.87,431.70 134.09,431.70" fill="#6A5ACD"/>
<polygon points="138.40,432.06 135.79,437.29 141.01,437.29" fill="#6A5ACD"/>
<polygon points="145.32,430.39 142.70,435.61 147.93,435.61" fill="#6A5ACD"/>
<polygon points="152.23,423.68 149.62,428.91 154.85,428.91" fill="#6A5ACD"/>
<polygon points="159.15,414.74 156.54,419.97 161.76,419.97" fill="#6A5ACD"/>
<polygon points="166.07,403.57 163.46,408.79 168.68,408.79" fill="#6A5ACD"/>
<polygon points="172.99,391.28 170.38,396.50 175.60,396.50" fill="#6A5ACD"/>
<polygon points="179.91,380.10 177.29,385.33 182.52,385.33" fill="#6A5ACD"/>
<polygon points="186.82,369.49 184.21,374.71 189.44,374.71" fill="#6A5ACD"/>
<polygon points="193.74,359.77 191.13,364.99 196.35,364.99" fill="#6A5ACD"/>
<polygon points="200.66,353.01 198.05,358.23 203.27,358.23" fill="#6A5ACD"/>
<polygon points="207.58,348.70 204.97,353.93 210.19,353.93" fill="#6A5ACD"/>
<polygon points="214.50,344.96 211.88,350.19 217.11,350.19" fill="#6A5ACD"/>
<polygon points="221.41,341.16 218.80,346.39 224.03,346.39" fill="#6A5ACD"/>
<polygon points="228.33,339.60 225.72,344.82 230.94,344.82" fill="#6A5ACD"/>
<polygon points="235.25,338.65 232.64,343.87 237.86,343.87" fill="#6A5ACD"/>
<polygon points="242.17,338.20 239.56,343.43 244.78,343.43" fill="#6A5ACD"/>
<polygon points="249.09,338.38 246.47,343.60 251.70,343.60" fill="#6A5ACD"/>
<polygon points="256.00,338.65 253.39,343.87 258.62,343.87" fill="#6A5ACD"/>
<polygon points="262.92,338.79 260.31,344.01 265.53,344.01" fill="#6A5ACD"/>
<polygon points="269.84,338.93 267.23,344.15 272.45,344.15" fill="#6A5ACD"/>
<polygon points="276.76,339.16 274.15,344.39 279.37,344.39" fill="#6A5ACD"/>
<polygon points="283.68,339.46 281.06,344.69 286.29,344.69" fill="#6A5ACD"/>
<polygon points="290.59,339.76 287.98,344.99 293.21,344.99" fill="#6A5ACD"/>
<polygon points="297.51,340.05 294.90,345.27 300.12,345.27" fill="#6A5ACD"/>
<polygon points="304.43,340.33 301.82,345.56 307.04,345.56" fill="#6A5ACD"/>
<polygon points="311.35,340.60 308.74,345.83 313.96,345.83" fill="#6A5ACD"/>
<polygon points="318.27,340.84 315.65,346.07 320.88,346.07" fill="#6A5ACD"/>
<polygon points="325.18,341.07 322.57,346.29 327.80,346.29" fill="#6A5ACD"/>
<polygon points="332.10,341.27 329.49,346.50 334.71,346.50" fill="#6A5ACD"/>
<polyline points="62.30,341.37 69.22,340.53 76.14,340.25 83.05,341.60 89.97,344.89 96.89,351.48 103.81,362.10 110.73,374.73 117.64,387.30 124.56,399.31 131.48,407.86 138.40,412.33 145.32,411.77 152.23,406.52 159.15,398.36 166.07,389.42 172.99,379.92 179.91,370.42 186.82,361.88 193.74,354.89 200.66,349.19 207.58,344.89 214.50,342.21 221.41,340.09 228.33,339.42 235.25,339.22 242.17,339.14 249.09,339.53 256.00,340.14 262.92,340.58 269.84,340.98 276.76,341.37 283.68,341.75 290.59,342.10 297.51,342.43 304.43,342.75 311.35,343.05 318.27,343.33 325.18,343.59 332.10,343.83" fill="none" stroke="#DDA0DD" stroke-width="1.15" stroke-linejoin="round"/>
<polygon points="62.30,338.76 59.69,343.98 64.91,343.98" fill="#DDA0DD"/>
<polygon points="69.22,337.92 66.61,343.15 71.83,343.15" fill="#DDA0DD"/>
<polygon points="76.14,337.64 73.52,342.87 78.75,342.87" fill="#DDA0DD"/>
<polygon points="83.05,338.98 80.44,344.21 85.67,344.21" fill="#DDA0DD"/>
<polygon points="89.97,342.28 87.36,347.50 92.58,347.50" fill="#DDA0DD"/>
<polygon points="96.89,348.87 94.28,354.10 99.50,354.10" fill="#DDA0DD"/>
<polygon points="103.81,359.49 101.20,364.71 106.42,364.71" fill="#DDA0DD"/>
<polygon points="110.73,372.11 108.11,377.34 113.34,377.34" fill="#DDA0DD"/>
<polygon points="117.64,384.68 115.03,389.91 120.26,389.91" fill="#DDA0DD"/>
<polygon points="124.56,396.70 121.95,401.92 127.17,401.92" fill="#DDA0DD"/>
<polygon points="131.48,405.24 128.87,410.47 134.09,410.47" fill="#DDA0DD"/>
<polygon points="138.40,409.71 135.79,414.94 141.01,414.94" fill="#DDA0DD"/>
<polygon points="145.32,409.16 142.70,414.38 147.93,414.38" fill="#DDA0DD"/>
<polygon points="152.23,403.90 149.62,409.13 154.85,409.13" fill="#DDA0DD"/>
<polygon points="159.15,395.75 156.54,400.97 161.76,400.97" fill="#DDA0DD"/>
<polygon points="166.07,386.81 163.46,392.03 168.68,392.03" fill="#DDA0DD"/>
<polygon points="172.99,377.31 170.38,382.53 175.60,382.53" fill="#DDA0DD"/>
<polygon points="179.91,367.81 177.29,373.04 182.52,373.04" fill="#DDA0DD"/>
<polygon points="186.82,359.26 184.21,364.49 189.44,364.49" fill="#DDA0DD"/>
<polygon points="193.74,352.28 191.13,357.50 196.35,357.50" fill="#DDA0DD"/>
<polygon points="200.66,346.58 198.05,351.81 203.27,351.81" fill="#DDA0DD"/>
<polygon points="207.58,342.28 204.97,347.50 210.19,347.50" fill="#DDA0DD"/>
<polygon points="214.50,339.60 211.88,344.82 217.11,344.82" fill="#DDA0DD"/>
<polygon points="221.41,337.47 218.80,342.70 224.03,342.70" fill="#DDA0DD"/>
<polygon points="228.33,336.80 225.72,342.03 230.94,342.03" fill="#DDA0DD"/>
<polygon points="235.25,336.60 232.64,341.83 237.86,341.83" fill="#DDA0DD"/>
<polygon points="242.17,336.52 239.56,341.75 244.78,341.75" fill="#DDA0DD"/>
<polygon points="249.09,336.92 246.47,342.14 251.70,342.14" fill="#DDA0DD"/>
<polygon points="256.00,337.53 253.39,342.76 258.62,342.76" fill="#DDA0DD"/>
<polygon points="262.92,337.97 260.31,343.19 265.53,343.19" fill="#DDA0DD"/>
<polygon points="269.84,338.37 267.23,343.59 272.45,343.59" fill="#DDA0DD"/>
<polygon points="276.76,338.76 274.15,343.98 279.37,343.98" fill="#DDA0DD"/>
<polygon points="283.68,339.13 281.06,344.36 286.29,344.36" fill="#DDA0DD"/>
<polygon points="290.59,339.49 287.98,344.71 293.21,344.71" fill="#DDA0DD"/>
<polygon points="297.51,339.82 294.90,345.05 300.12,345.05" fill="#DDA0DD"/>
<polygon points="304.43,340.14 301.82,345.36 307.04,345.36" fill="#DDA0DD"/>
<polygon points="311.35,340.44 308.74,345.66 313.96,345.66" fill="#DDA0DD"/>
<polygon points="318.27,340.71 315.65,345.94 320.88,345.94" fill="#DDA0DD"/>
<polygon points="325.18,340.98 322.57,346.20 327.80,346.20" fill="#DDA0DD"/>
<polygon points="332.10,341.22 329.49,346.44 334.71,346.44" fill="#DDA0DD"/>
<polyline points="62.30,340.92 69.22,339.58 76.14,338.91 83.05,339.58 89.97,341.60 96.89,346.18 103.81,352.88 110.73,362.10 117.64,372.10 124.56,381.99 131.48,388.69 138.40,391.99 145.32,391.65 152.23,386.63 159.15,380.48 166.07,373.50 172.99,366.40 179.91,358.69 186.82,352.38 193.74,347.29 200.66,343.33 207.58,340.59 214.50,339.03 221.41,338.08 228.33,338.02 235.25,338.10 242.17,338.30 249.09,338.87 256.00,339.58 262.92,340.02 269.84,340.42 276.76,340.89 283.68,341.37 290.59,341.82 297.51,342.22 304.43,342.60 311.35,342.94 318.27,343.24 325.18,343.52 332.10,343.77" fill="none" stroke="#9370DB" stroke-width="1.15" stroke-linejoin="round"/>
<polygon points="62.30,338.86 61.84,340.29 60.34,340.29 61.55,341.17 61.09,342.59 62.30,341.71 63.51,342.59 63.05,341.17 64.26,340.29 62.76,340.29" fill="#9370DB" stroke="#9370DB" stroke-width="1.25" stroke-linejoin="round"/>
<polygon points="69.22,337.52 68.75,338.95 67.26,338.95 68.47,339.83 68.01,341.25 69.22,340.37 70.43,341.25 69.97,339.83 71.18,338.95 69.68,338.95" fill="#9370DB" stroke="#9370DB" stroke-width="1.25" stroke-linejoin="round"/>
<polygon points="76.14,336.85 75.67,338.28 74.17,338.28 75.39,339.16 74.92,340.58 76.14,339.70 77.35,340.58 76.89,339.16 78.10,338.28 76.60,338.28" fill="#9370DB" stroke="#9370DB" stroke-width="1.25" stroke-linejoin="round"/>
<polygon points="83.05,337.52 82.59,338.95 81.09,338.95 82.30,339.83 81.84,341.25 83.05,340.37 84.27,341.25 83.80,339.83 85.02,338.95 83.52,338.95" fill="#9370DB" stroke="#9370DB" stroke-width="1.25" stroke-linejoin="round"/>
<polygon points="89.97,339.53 89.51,340.96 88.01,340.96 89.22,341.84 88.76,343.26 89.97,342.38 91.18,343.26 90.72,341.84 91.93,340.96 90.44,340.96" fill="#9370DB" stroke="#9370DB" stroke-width="1.25" stroke-linejoin="round"/>
<polygon points="96.89,344.11 96.43,345.54 94.93,345.54 96.14,346.42 95.68,347.85 96.89,346.96 98.10,347.85 97.64,346.42 98.85,345.54 97.35,345.54" fill="#9370DB" stroke="#9370DB" stroke-width="1.25" stroke-linejoin="round"/>
<polygon points="103.81,350.82 103.34,352.24 101.85,352.24 103.06,353.12 102.60,354.55 103.81,353.67 105.02,354.55 104.56,353.12 105.77,352.24 104.27,352.24" fill="#9370DB" stroke="#9370DB" stroke-width="1.25" stroke-linejoin="round"/>
<polygon points="110.73,360.04 110.26,361.46 108.76,361.46 109.98,362.34 109.51,363.77 110.73,362.89 111.94,363.77 111.48,362.34 112.69,361.46 111.19,361.46" fill="#9370DB" stroke="#9370DB" stroke-width="1.25" stroke-linejoin="round"/>
<polygon points="117.64,370.04 117.18,371.46 115.68,371.46 116.89,372.34 116.43,373.77 117.64,372.89 118.86,373.77 118.39,372.34 119.61,371.46 118.11,371.46" fill="#9370DB" stroke="#9370DB" stroke-width="1.25" stroke-linejoin="round"/>
<polygon points="124.56,379.93 124.10,381.35 122.60,381.35 123.81,382.23 123.35,383.66 124.56,382.78 125.77,383.66 125.31,382.23 126.52,381.35 125.03,381.35" fill="#9370DB" stroke="#9370DB" stroke-width="1.25" stroke-linejoin="round"/>
<polygon points="131.48,386.63 131.02,388.06 129.52,388.06 130.73,388.94 130.27,390.36 131.48,389.48 132.69,390.36 132.23,388.94 133.44,388.06 131.94,388.06" fill="#9370DB" stroke="#9370DB" stroke-width="1.25" stroke-linejoin="round"/>
<polygon points="138.40,389.93 137.93,391.35 136.44,391.35 137.65,392.23 137.19,393.66 138.40,392.78 139.61,393.66 139.15,392.23 140.36,391.35 138.86,391.35" fill="#9370DB" stroke="#9370DB" stroke-width="1.25" stroke-linejoin="round"/>
<polygon points="145.32,389.59 144.85,391.02 143.35,391.02 144.57,391.90 144.10,393.32 145.32,392.44 146.53,393.32 146.07,391.90 147.28,391.02 145.78,391.02" fill="#9370DB" stroke="#9370DB" stroke-width="1.25" stroke-linejoin="round"/>
<polygon points="152.23,384.56 151.77,385.99 150.27,385.99 151.48,386.87 151.02,388.29 152.23,387.41 153.45,388.29 152.98,386.87 154.20,385.99 152.70,385.99" fill="#9370DB" stroke="#9370DB" stroke-width="1.25" stroke-linejoin="round"/>
<polygon points="159.15,378.42 158.69,379.84 157.19,379.84 158.40,380.72 157.94,382.15 159.15,381.27 160.36,382.15 159.90,380.72 161.11,379.84 159.62,379.84" fill="#9370DB" stroke="#9370DB" stroke-width="1.25" stroke-linejoin="round"/>
<polygon points="166.07,371.43 165.61,372.86 164.11,372.86 165.32,373.74 164.86,375.17 166.07,374.28 167.28,375.17 166.82,373.74 168.03,372.86 166.53,372.86" fill="#9370DB" stroke="#9370DB" stroke-width="1.25" stroke-linejoin="round"/>
<polygon points="172.99,364.34 172.52,365.76 171.03,365.76 172.24,366.64 171.78,368.07 172.99,367.19 174.20,368.07 173.74,366.64 174.95,365.76 173.45,365.76" fill="#9370DB" stroke="#9370DB" stroke-width="1.25" stroke-linejoin="round"/>
<polygon points="179.91,356.63 179.44,358.05 177.94,358.05 179.16,358.93 178.69,360.36 179.91,359.48 181.12,360.36 180.66,358.93 181.87,358.05 180.37,358.05" fill="#9370DB" stroke="#9370DB" stroke-width="1.25" stroke-linejoin="round"/>
<polygon points="186.82,350.32 186.36,351.74 184.86,351.74 186.07,352.62 185.61,354.05 186.82,353.17 188.04,354.05 187.57,352.62 188.79,351.74 187.29,351.74" fill="#9370DB" stroke="#9370DB" stroke-width="1.25" stroke-linejoin="round"/>
<polygon points="193.74,345.23 193.28,346.66 191.78,346.66 192.99,347.54 192.53,348.96 193.74,348.08 194.95,348.96 194.49,347.54 195.70,346.66 194.21,346.66" fill="#9370DB" stroke="#9370DB" stroke-width="1.25" stroke-linejoin="round"/>
<polygon points="200.66,341.26 200.20,342.69 198.70,342.69 199.91,343.57 199.45,345.00 200.66,344.11 201.87,345.00 201.41,343.57 202.62,342.69 201.12,342.69" fill="#9370DB" stroke="#9370DB" stroke-width="1.25" stroke-linejoin="round"/>
<polygon points="207.58,338.53 207.11,339.95 205.62,339.95 206.83,340.83 206.37,342.26 207.58,341.38 208.79,342.26 208.33,340.83 209.54,339.95 208.04,339.95" fill="#9370DB" stroke="#9370DB" stroke-width="1.25" stroke-linejoin="round"/>
<polygon points="214.50,336.96 214.03,338.39 212.53,338.39 213.75,339.27 213.28,340.69 214.50,339.81 215.71,340.69 215.25,339.27 216.46,338.39 214.96,338.39" fill="#9370DB" stroke="#9370DB" stroke-width="1.25" stroke-linejoin="round"/>
<polygon points="221.41,336.01 220.95,337.44 219.45,337.44 220.66,338.32 220.20,339.74 221.41,338.86 222.63,339.74 222.16,338.32 223.38,337.44 221.88,337.44" fill="#9370DB" stroke="#9370DB" stroke-width="1.25" stroke-linejoin="round"/>
<polygon points="228.33,335.96 227.87,337.38 226.37,337.38 227.58,338.26 227.12,339.69 228.33,338.81 229.54,339.69 229.08,338.26 230.29,337.38 228.80,337.38" fill="#9370DB" stroke="#9370DB" stroke-width="1.25" stroke-linejoin="round"/>
<polygon points="235.25,336.04 234.79,337.47 233.29,337.47 234.50,338.35 234.04,339.77 235.25,338.89 236.46,339.77 236.00,338.35 237.21,337.47 235.71,337.47" fill="#9370DB" stroke="#9370DB" stroke-width="1.25" stroke-linejoin="round"/>
<polygon points="242.17,336.24 241.70,337.66 240.21,337.66 241.42,338.54 240.96,339.97 242.17,339.09 243.38,339.97 242.92,338.54 244.13,337.66 242.63,337.66" fill="#9370DB" stroke="#9370DB" stroke-width="1.25" stroke-linejoin="round"/>
<polygon points="249.09,336.81 248.62,338.24 247.12,338.24 248.34,339.12 247.87,340.54 249.09,339.66 250.30,340.54 249.84,339.12 251.05,338.24 249.55,338.24" fill="#9370DB" stroke="#9370DB" stroke-width="1.25" stroke-linejoin="round"/>
<polygon points="256.00,337.52 255.54,338.95 254.04,338.95 255.25,339.83 254.79,341.25 256.00,340.37 257.22,341.25 256.75,339.83 257.97,338.95 256.47,338.95" fill="#9370DB" stroke="#9370DB" stroke-width="1.25" stroke-linejoin="round"/>
<polygon points="262.92,337.96 262.46,339.38 260.96,339.38 262.17,340.26 261.71,341.69 262.92,340.81 264.13,341.69 263.67,340.26 264.88,339.38 263.39,339.38" fill="#9370DB" stroke="#9370DB" stroke-width="1.25" stroke-linejoin="round"/>
<polygon points="269.84,338.36 269.38,339.78 267.88,339.78 269.09,340.67 268.63,342.09 269.84,341.21 271.05,342.09 270.59,340.67 271.80,339.78 270.30,339.78" fill="#9370DB" stroke="#9370DB" stroke-width="1.25" stroke-linejoin="round"/>
<polygon points="276.76,338.82 276.29,340.25 274.80,340.25 276.01,341.13 275.55,342.55 276.76,341.67 277.97,342.55 277.51,341.13 278.72,340.25 277.22,340.25" fill="#9370DB" stroke="#9370DB" stroke-width="1.25" stroke-linejoin="round"/>
<polygon points="283.68,339.31 283.21,340.73 281.71,340.73 282.93,341.62 282.46,343.04 283.68,342.16 284.89,343.04 284.43,341.62 285.64,340.73 284.14,340.73" fill="#9370DB" stroke="#9370DB" stroke-width="1.25" stroke-linejoin="round"/>
<polygon points="290.59,339.76 290.13,341.18 288.63,341.18 289.84,342.06 289.38,343.49 290.59,342.61 291.81,343.49 291.34,342.06 292.56,341.18 291.06,341.18" fill="#9370DB" stroke="#9370DB" stroke-width="1.25" stroke-linejoin="round"/>
<polygon points="297.51,340.16 297.05,341.58 295.55,341.58 296.76,342.46 296.30,343.89 297.51,343.01 298.72,343.89 298.26,342.46 299.47,341.58 297.98,341.58" fill="#9370DB" stroke="#9370DB" stroke-width="1.25" stroke-linejoin="round"/>
<polygon points="304.43,340.53 303.97,341.96 302.47,341.96 303.68,342.84 303.22,344.26 304.43,343.38 305.64,344.26 305.18,342.84 306.39,341.96 304.89,341.96" fill="#9370DB" stroke="#9370DB" stroke-width="1.25" stroke-linejoin="round"/>
<polygon points="311.35,340.87 310.88,342.30 309.39,342.30 310.60,343.18 310.14,344.60 311.35,343.72 312.56,344.60 312.10,343.18 313.31,342.30 311.81,342.30" fill="#9370DB" stroke="#9370DB" stroke-width="1.25" stroke-linejoin="round"/>
<polygon points="318.27,341.18 317.80,342.61 316.30,342.61 317.52,343.49 317.05,344.91 318.27,344.03 319.48,344.91 319.02,343.49 320.23,342.61 318.73,342.61" fill="#9370DB" stroke="#9370DB" stroke-width="1.25" stroke-linejoin="round"/>
<polygon points="325.18,341.46 324.72,342.89 323.22,342.89 324.43,343.77 323.97,345.19 325.18,344.31 326.40,345.19 325.93,343.77 327.15,342.89 325.65,342.89" fill="#9370DB" stroke="#9370DB" stroke-width="1.25" stroke-linejoin="round"/>
<polygon points="332.10,341.71 331.64,343.14 330.14,343.14 331.35,344.02 330.89,345.44 332.10,344.56 333.31,345.44 332.85,344.02 334.06,343.14 332.57,343.14" fill="#9370DB" stroke="#9370DB" stroke-width="1.25" stroke-linejoin="round"/>
<polyline points="62.30,340.31 69.22,338.30 76.14,337.29 83.05,336.90 89.97,337.63 96.89,340.59 103.81,345.23 110.73,352.21 117.64,359.70 124.56,366.79 131.48,371.43 138.40,374.33 145.32,374.33 152.23,370.98 159.15,365.95 166.07,359.81 172.99,353.55 179.91,348.63 186.82,344.17 193.74,341.09 200.66,338.86 207.58,337.57 214.50,336.90 221.41,336.79 228.33,337.01 235.25,337.39 242.17,337.91 249.09,338.64 256.00,339.42 262.92,340.01 269.84,340.53 276.76,341.03 283.68,341.48 290.59,341.93 297.51,342.38 304.43,342.82 311.35,343.22 318.27,343.55 325.18,343.85 332.10,344.11" fill="none" stroke="#1E90FF" stroke-width="1.15" stroke-linejoin="round"/>
<polygon points="62.30,338.06 61.79,339.61 60.16,339.61 61.48,340.58 60.97,342.13 62.30,341.17 63.63,342.13 63.12,340.58 64.44,339.61 62.81,339.61" fill="#1E90FF" stroke="#1E90FF" stroke-width="1.25" stroke-linejoin="round"/>
<polygon points="69.22,336.04 68.71,337.60 67.07,337.60 68.40,338.57 67.89,340.12 69.22,339.16 70.54,340.12 70.04,338.57 71.36,337.60 69.72,337.60" fill="#1E90FF" stroke="#1E90FF" stroke-width="1.25" stroke-linejoin="round"/>
<polygon points="76.14,335.04 75.63,336.60 73.99,336.60 75.32,337.56 74.81,339.12 76.14,338.15 77.46,339.12 76.96,337.56 78.28,336.60 76.64,336.60" fill="#1E90FF" stroke="#1E90FF" stroke-width="1.25" stroke-linejoin="round"/>
<polygon points="83.05,334.65 82.55,336.21 80.91,336.21 82.23,337.17 81.73,338.73 83.05,337.76 84.38,338.73 83.87,337.17 85.20,336.21 83.56,336.21" fill="#1E90FF" stroke="#1E90FF" stroke-width="1.25" stroke-linejoin="round"/>
<polygon points="89.97,335.37 89.47,336.93 87.83,336.93 89.15,337.89 88.65,339.45 89.97,338.49 91.30,339.45 90.79,337.89 92.12,336.93 90.48,336.93" fill="#1E90FF" stroke="#1E90FF" stroke-width="1.25" stroke-linejoin="round"/>
<polygon points="96.89,338.33 96.38,339.89 94.75,339.89 96.07,340.86 95.56,342.41 96.89,341.45 98.22,342.41 97.71,340.86 99.03,339.89 97.40,339.89" fill="#1E90FF" stroke="#1E90FF" stroke-width="1.25" stroke-linejoin="round"/>
<polygon points="103.81,342.97 103.30,344.53 101.66,344.53 102.99,345.49 102.48,347.05 103.81,346.09 105.13,347.05 104.63,345.49 105.95,344.53 104.31,344.53" fill="#1E90FF" stroke="#1E90FF" stroke-width="1.25" stroke-linejoin="round"/>
<polygon points="110.73,349.96 110.22,351.51 108.58,351.51 109.91,352.48 109.40,354.03 110.73,353.07 112.05,354.03 111.55,352.48 112.87,351.51 111.23,351.51" fill="#1E90FF" stroke="#1E90FF" stroke-width="1.25" stroke-linejoin="round"/>
<polygon points="117.64,357.44 117.14,359.00 115.50,359.00 116.82,359.96 116.32,361.52 117.64,360.56 118.97,361.52 118.46,359.96 119.79,359.00 118.15,359.00" fill="#1E90FF" stroke="#1E90FF" stroke-width="1.25" stroke-linejoin="round"/>
<polygon points="124.56,364.54 124.06,366.10 122.42,366.10 123.74,367.06 123.24,368.62 124.56,367.65 125.89,368.62 125.38,367.06 126.71,366.10 125.07,366.10" fill="#1E90FF" stroke="#1E90FF" stroke-width="1.25" stroke-linejoin="round"/>
<polygon points="131.48,369.17 130.97,370.73 129.34,370.73 130.66,371.70 130.15,373.25 131.48,372.29 132.81,373.25 132.30,371.70 133.62,370.73 131.99,370.73" fill="#1E90FF" stroke="#1E90FF" stroke-width="1.25" stroke-linejoin="round"/>
<polygon points="138.40,372.08 137.89,373.64 136.25,373.64 137.58,374.60 137.07,376.16 138.40,375.20 139.72,376.16 139.22,374.60 140.54,373.64 138.90,373.64" fill="#1E90FF" stroke="#1E90FF" stroke-width="1.25" stroke-linejoin="round"/>
<polygon points="145.32,372.08 144.81,373.64 143.17,373.64 144.50,374.60 143.99,376.16 145.32,375.20 146.64,376.16 146.14,374.60 147.46,373.64 145.82,373.64" fill="#1E90FF" stroke="#1E90FF" stroke-width="1.25" stroke-linejoin="round"/>
<polygon points="152.23,368.73 151.73,370.29 150.09,370.29 151.41,371.25 150.91,372.81 152.23,371.84 153.56,372.81 153.05,371.25 154.38,370.29 152.74,370.29" fill="#1E90FF" stroke="#1E90FF" stroke-width="1.25" stroke-linejoin="round"/>
<polygon points="159.15,363.70 158.65,365.26 157.01,365.26 158.33,366.22 157.83,367.78 159.15,366.82 160.48,367.78 159.97,366.22 161.30,365.26 159.66,365.26" fill="#1E90FF" stroke="#1E90FF" stroke-width="1.25" stroke-linejoin="round"/>
<polygon points="166.07,357.55 165.56,359.11 163.93,359.11 165.25,360.07 164.74,361.63 166.07,360.67 167.40,361.63 166.89,360.07 168.21,359.11 166.58,359.11" fill="#1E90FF" stroke="#1E90FF" stroke-width="1.25" stroke-linejoin="round"/>
<polygon points="172.99,351.30 172.48,352.85 170.84,352.85 172.17,353.82 171.66,355.38 172.99,354.41 174.31,355.38 173.81,353.82 175.13,352.85 173.49,352.85" fill="#1E90FF" stroke="#1E90FF" stroke-width="1.25" stroke-linejoin="round"/>
<polygon points="179.91,346.38 179.40,347.94 177.76,347.94 179.09,348.90 178.58,350.46 179.91,349.50 181.23,350.46 180.73,348.90 182.05,347.94 180.41,347.94" fill="#1E90FF" stroke="#1E90FF" stroke-width="1.25" stroke-linejoin="round"/>
<polygon points="186.82,341.91 186.32,343.47 184.68,343.47 186.00,344.43 185.50,345.99 186.82,345.03 188.15,345.99 187.64,344.43 188.97,343.47 187.33,343.47" fill="#1E90FF" stroke="#1E90FF" stroke-width="1.25" stroke-linejoin="round"/>
<polygon points="193.74,338.84 193.24,340.40 191.60,340.40 192.92,341.36 192.42,342.92 193.74,341.95 195.07,342.92 194.56,341.36 195.89,340.40 194.25,340.40" fill="#1E90FF" stroke="#1E90FF" stroke-width="1.25" stroke-linejoin="round"/>
<polygon points="200.66,336.60 200.15,338.16 198.52,338.16 199.84,339.12 199.33,340.68 200.66,339.72 201.99,340.68 201.48,339.12 202.80,338.16 201.17,338.16" fill="#1E90FF" stroke="#1E90FF" stroke-width="1.25" stroke-linejoin="round"/>
<polygon points="207.58,335.32 207.07,336.88 205.43,336.88 206.76,337.84 206.25,339.40 207.58,338.43 208.90,339.40 208.40,337.84 209.72,336.88 208.08,336.88" fill="#1E90FF" stroke="#1E90FF" stroke-width="1.25" stroke-linejoin="round"/>
<polygon points="214.50,334.65 213.99,336.21 212.35,336.21 213.68,337.17 213.17,338.73 214.50,337.76 215.82,338.73 215.32,337.17 216.64,336.21 215.00,336.21" fill="#1E90FF" stroke="#1E90FF" stroke-width="1.25" stroke-linejoin="round"/>
<polygon points="221.41,334.54 220.91,336.09 219.27,336.09 220.59,337.06 220.09,338.61 221.41,337.65 222.74,338.61 222.23,337.06 223.56,336.09 221.92,336.09" fill="#1E90FF" stroke="#1E90FF" stroke-width="1.25" stroke-linejoin="round"/>
<polygon points="228.33,334.76 227.83,336.32 226.19,336.32 227.51,337.28 227.01,338.84 228.33,337.88 229.66,338.84 229.15,337.28 230.48,336.32 228.84,336.32" fill="#1E90FF" stroke="#1E90FF" stroke-width="1.25" stroke-linejoin="round"/>
<polygon points="235.25,335.14 234.74,336.70 233.11,336.70 234.43,337.66 233.92,339.22 235.25,338.26 236.58,339.22 236.07,337.66 237.39,336.70 235.76,336.70" fill="#1E90FF" stroke="#1E90FF" stroke-width="1.25" stroke-linejoin="round"/>
<polygon points="242.17,335.65 241.66,337.21 240.02,337.21 241.35,338.17 240.84,339.73 242.17,338.77 243.49,339.73 242.99,338.17 244.31,337.21 242.67,337.21" fill="#1E90FF" stroke="#1E90FF" stroke-width="1.25" stroke-linejoin="round"/>
<polygon points="249.09,336.38 248.58,337.94 246.94,337.94 248.27,338.91 247.76,340.46 249.09,339.50 250.41,340.46 249.91,338.91 251.23,337.94 249.59,337.94" fill="#1E90FF" stroke="#1E90FF" stroke-width="1.25" stroke-linejoin="round"/>
<polygon points="256.00,337.16 255.50,338.72 253.86,338.72 255.18,339.68 254.68,341.24 256.00,340.28 257.33,341.24 256.82,339.68 258.15,338.72 256.51,338.72" fill="#1E90FF" stroke="#1E90FF" stroke-width="1.25" stroke-linejoin="round"/>
<polygon points="262.92,337.75 262.42,339.31 260.78,339.31 262.10,340.27 261.60,341.83 262.92,340.87 264.25,341.83 263.74,340.27 265.07,339.31 263.43,339.31" fill="#1E90FF" stroke="#1E90FF" stroke-width="1.25" stroke-linejoin="round"/>
<polygon points="269.84,338.28 269.33,339.84 267.70,339.84 269.02,340.80 268.51,342.36 269.84,341.39 271.17,342.36 270.66,340.80 271.98,339.84 270.35,339.84" fill="#1E90FF" stroke="#1E90FF" stroke-width="1.25" stroke-linejoin="round"/>
<polygon points="276.76,338.77 276.25,340.33 274.61,340.33 275.94,341.29 275.43,342.85 276.76,341.89 278.08,342.85 277.58,341.29 278.90,340.33 277.26,340.33" fill="#1E90FF" stroke="#1E90FF" stroke-width="1.25" stroke-linejoin="round"/>
<polygon points="283.68,339.23 283.17,340.79 281.53,340.79 282.86,341.75 282.35,343.31 283.68,342.34 285.00,343.31 284.50,341.75 285.82,340.79 284.18,340.79" fill="#1E90FF" stroke="#1E90FF" stroke-width="1.25" stroke-linejoin="round"/>
<polygon points="290.59,339.68 290.09,341.23 288.45,341.23 289.77,342.20 289.27,343.75 290.59,342.79 291.92,343.75 291.41,342.20 292.74,341.23 291.10,341.23" fill="#1E90FF" stroke="#1E90FF" stroke-width="1.25" stroke-linejoin="round"/>
<polygon points="297.51,340.13 297.01,341.69 295.37,341.69 296.69,342.65 296.19,344.21 297.51,343.24 298.84,344.21 298.33,342.65 299.66,341.69 298.02,341.69" fill="#1E90FF" stroke="#1E90FF" stroke-width="1.25" stroke-linejoin="round"/>
<polygon points="304.43,340.57 303.92,342.13 302.29,342.13 303.61,343.09 303.10,344.65 304.43,343.69 305.76,344.65 305.25,343.09 306.57,342.13 304.94,342.13" fill="#1E90FF" stroke="#1E90FF" stroke-width="1.25" stroke-linejoin="round"/>
<polygon points="311.35,340.96 310.84,342.52 309.20,342.52 310.53,343.48 310.02,345.04 311.35,344.08 312.67,345.04 312.17,343.48 313.49,342.52 311.85,342.52" fill="#1E90FF" stroke="#1E90FF" stroke-width="1.25" stroke-linejoin="round"/>
<polygon points="318.27,341.30 317.76,342.85 316.12,342.85 317.45,343.82 316.94,345.37 318.27,344.41 319.59,345.37 319.09,343.82 320.41,342.85 318.77,342.85" fill="#1E90FF" stroke="#1E90FF" stroke-width="1.25" stroke-linejoin="round"/>
<polygon points="325.18,341.60 324.68,343.16 323.04,343.16 324.36,344.12 323.86,345.68 325.18,344.71 326.51,345.68 326.00,344.12 327.33,343.16 325.69,343.16" fill="#1E90FF" stroke="#1E90FF" stroke-width="1.25" stroke-linejoin="round"/>
<polygon points="332.10,341.85 331.60,343.41 329.96,343.41 331.28,344.38 330.78,345.93 332.10,344.97 333.43,345.93 332.92,344.38 334.25,343.41 332.61,343.41" fill="#1E90FF" stroke="#1E90FF" stroke-width="1.25" stroke-linejoin="round"/>
<polyline points="62.30,338.91 69.22,336.68 76.14,335.28 83.05,334.28 89.97,334.00 96.89,335.28 103.81,338.30 110.73,342.88 117.64,348.63 124.56,353.50 131.48,356.79 138.40,358.97 145.32,358.80 152.23,356.46 159.15,353.33 166.07,349.19 172.99,344.89 179.91,341.20 186.82,338.30 193.74,336.23 200.66,335.06 207.58,334.50 214.50,334.44 221.41,334.78 228.33,335.39 235.25,336.11 242.17,336.90 249.09,337.84 256.00,338.75 262.92,339.43 269.84,340.03 276.76,340.62 283.68,341.19 290.59,341.71 297.51,342.19 304.43,342.64 311.35,343.05 318.27,343.42 325.18,343.75 332.10,344.05" fill="none" stroke="#E9967A" stroke-width="1.15" stroke-linejoin="round"/>
<polygon points="62.30,336.85 61.84,338.28 60.34,338.28 61.55,339.16 61.09,340.58 62.30,339.70 63.51,340.58 63.05,339.16 64.26,338.28 62.76,338.28" fill="#E9967A" stroke="#E9967A" stroke-width="1.25" stroke-linejoin="round"/>
<polygon points="69.22,334.62 68.75,336.04 67.26,336.04 68.47,336.92 68.01,338.35 69.22,337.47 70.43,338.35 69.97,336.92 71.18,336.04 69.68,336.04" fill="#E9967A" stroke="#E9967A" stroke-width="1.25" stroke-linejoin="round"/>
<polygon points="76.14,333.22 75.67,334.64 74.17,334.64 75.39,335.53 74.92,336.95 76.14,336.07 77.35,336.95 76.89,335.53 78.10,334.64 76.60,334.64" fill="#E9967A" stroke="#E9967A" stroke-width="1.25" stroke-linejoin="round"/>
<polygon points="83.05,332.21 82.59,333.64 81.09,333.64 82.30,334.52 81.84,335.94 83.05,335.06 84.27,335.94 83.80,334.52 85.02,333.64 83.52,333.64" fill="#E9967A" stroke="#E9967A" stroke-width="1.25" stroke-linejoin="round"/>
<polygon points="89.97,331.93 89.51,333.36 88.01,333.36 89.22,334.24 88.76,335.67 89.97,334.78 91.18,335.67 90.72,334.24 91.93,333.36 90.44,333.36" fill="#E9967A" stroke="#E9967A" stroke-width="1.25" stroke-linejoin="round"/>
<polygon points="96.89,333.22 96.43,334.64 94.93,334.64 96.14,335.53 95.68,336.95 96.89,336.07 98.10,336.95 97.64,335.53 98.85,334.64 97.35,334.64" fill="#E9967A" stroke="#E9967A" stroke-width="1.25" stroke-linejoin="round"/>
<polygon points="103.81,336.24 103.34,337.66 101.85,337.66 103.06,338.54 102.60,339.97 103.81,339.09 105.02,339.97 104.56,338.54 105.77,337.66 104.27,337.66" fill="#E9967A" stroke="#E9967A" stroke-width="1.25" stroke-linejoin="round"/>
<polygon points="110.73,340.82 110.26,342.24 108.76,342.24 109.98,343.12 109.51,344.55 110.73,343.67 111.94,344.55 111.48,343.12 112.69,342.24 111.19,342.24" fill="#E9967A" stroke="#E9967A" stroke-width="1.25" stroke-linejoin="round"/>
<polygon points="117.64,346.57 117.18,348.00 115.68,348.00 116.89,348.88 116.43,350.30 117.64,349.42 118.86,350.30 118.39,348.88 119.61,348.00 118.11,348.00" fill="#E9967A" stroke="#E9967A" stroke-width="1.25" stroke-linejoin="round"/>
<polygon points="124.56,351.43 124.10,352.86 122.60,352.86 123.81,353.74 123.35,355.16 124.56,354.28 125.77,355.16 125.31,353.74 126.52,352.86 125.03,352.86" fill="#E9967A" stroke="#E9967A" stroke-width="1.25" stroke-linejoin="round"/>
<polygon points="131.48,354.73 131.02,356.15 129.52,356.15 130.73,357.04 130.27,358.46 131.48,357.58 132.69,358.46 132.23,357.04 133.44,356.15 131.94,356.15" fill="#E9967A" stroke="#E9967A" stroke-width="1.25" stroke-linejoin="round"/>
<polygon points="138.40,356.91 137.93,358.33 136.44,358.33 137.65,359.21 137.19,360.64 138.40,359.76 139.61,360.64 139.15,359.21 140.36,358.33 138.86,358.33" fill="#E9967A" stroke="#E9967A" stroke-width="1.25" stroke-linejoin="round"/>
<polygon points="145.32,356.74 144.85,358.17 143.35,358.17 144.57,359.05 144.10,360.47 145.32,359.59 146.53,360.47 146.07,359.05 147.28,358.17 145.78,358.17" fill="#E9967A" stroke="#E9967A" stroke-width="1.25" stroke-linejoin="round"/>
<polygon points="152.23,354.39 151.77,355.82 150.27,355.82 151.48,356.70 151.02,358.13 152.23,357.24 153.45,358.13 152.98,356.70 154.20,355.82 152.70,355.82" fill="#E9967A" stroke="#E9967A" stroke-width="1.25" stroke-linejoin="round"/>
<polygon points="159.15,351.27 158.69,352.69 157.19,352.69 158.40,353.57 157.94,355.00 159.15,354.12 160.36,355.00 159.90,353.57 161.11,352.69 159.62,352.69" fill="#E9967A" stroke="#E9967A" stroke-width="1.25" stroke-linejoin="round"/>
<polygon points="166.07,347.13 165.61,348.56 164.11,348.56 165.32,349.44 164.86,350.86 166.07,349.98 167.28,350.86 166.82,349.44 168.03,348.56 166.53,348.56" fill="#E9967A" stroke="#E9967A" stroke-width="1.25" stroke-linejoin="round"/>
<polygon points="172.99,342.83 172.52,344.25 171.03,344.25 172.24,345.13 171.78,346.56 172.99,345.68 174.20,346.56 173.74,345.13 174.95,344.25 173.45,344.25" fill="#E9967A" stroke="#E9967A" stroke-width="1.25" stroke-linejoin="round"/>
<polygon points="179.91,339.14 179.44,340.57 177.94,340.57 179.16,341.45 178.69,342.87 179.91,341.99 181.12,342.87 180.66,341.45 181.87,340.57 180.37,340.57" fill="#E9967A" stroke="#E9967A" stroke-width="1.25" stroke-linejoin="round"/>
<polygon points="186.82,336.24 186.36,337.66 184.86,337.66 186.07,338.54 185.61,339.97 186.82,339.09 188.04,339.97 187.57,338.54 188.79,337.66 187.29,337.66" fill="#E9967A" stroke="#E9967A" stroke-width="1.25" stroke-linejoin="round"/>
<polygon points="193.74,334.17 193.28,335.59 191.78,335.59 192.99,336.48 192.53,337.90 193.74,337.02 194.95,337.90 194.49,336.48 195.70,335.59 194.21,335.59" fill="#E9967A" stroke="#E9967A" stroke-width="1.25" stroke-linejoin="round"/>
<polygon points="200.66,333.00 200.20,334.42 198.70,334.42 199.91,335.30 199.45,336.73 200.66,335.85 201.87,336.73 201.41,335.30 202.62,334.42 201.12,334.42" fill="#E9967A" stroke="#E9967A" stroke-width="1.25" stroke-linejoin="round"/>
<polygon points="207.58,332.44 207.11,333.86 205.62,333.86 206.83,334.74 206.37,336.17 207.58,335.29 208.79,336.17 208.33,334.74 209.54,333.86 208.04,333.86" fill="#E9967A" stroke="#E9967A" stroke-width="1.25" stroke-linejoin="round"/>
<polygon points="214.50,332.38 214.03,333.81 212.53,333.81 213.75,334.69 213.28,336.11 214.50,335.23 215.71,336.11 215.25,334.69 216.46,333.81 214.96,333.81" fill="#E9967A" stroke="#E9967A" stroke-width="1.25" stroke-linejoin="round"/>
<polygon points="221.41,332.72 220.95,334.14 219.45,334.14 220.66,335.02 220.20,336.45 221.41,335.57 222.63,336.45 222.16,335.02 223.38,334.14 221.88,334.14" fill="#E9967A" stroke="#E9967A" stroke-width="1.25" stroke-linejoin="round"/>
<polygon points="228.33,333.33 227.87,334.76 226.37,334.76 227.58,335.64 227.12,337.06 228.33,336.18 229.54,337.06 229.08,335.64 230.29,334.76 228.80,334.76" fill="#E9967A" stroke="#E9967A" stroke-width="1.25" stroke-linejoin="round"/>
<polygon points="235.25,334.05 234.79,335.47 233.29,335.47 234.50,336.35 234.04,337.78 235.25,336.90 236.46,337.78 236.00,336.35 237.21,335.47 235.71,335.47" fill="#E9967A" stroke="#E9967A" stroke-width="1.25" stroke-linejoin="round"/>
<polygon points="242.17,334.84 241.70,336.26 240.21,336.26 241.42,337.15 240.96,338.57 242.17,337.69 243.38,338.57 242.92,337.15 244.13,336.26 242.63,336.26" fill="#E9967A" stroke="#E9967A" stroke-width="1.25" stroke-linejoin="round"/>
<polygon points="249.09,335.78 248.62,337.20 247.12,337.20 248.34,338.08 247.87,339.51 249.09,338.63 250.30,339.51 249.84,338.08 251.05,337.20 249.55,337.20" fill="#E9967A" stroke="#E9967A" stroke-width="1.25" stroke-linejoin="round"/>
<polygon points="256.00,336.68 255.54,338.11 254.04,338.11 255.25,338.99 254.79,340.41 256.00,339.53 257.22,340.41 256.75,338.99 257.97,338.11 256.47,338.11" fill="#E9967A" stroke="#E9967A" stroke-width="1.25" stroke-linejoin="round"/>
<polygon points="262.92,337.36 262.46,338.79 260.96,338.79 262.17,339.67 261.71,341.10 262.92,340.22 264.13,341.10 263.67,339.67 264.88,338.79 263.39,338.79" fill="#E9967A" stroke="#E9967A" stroke-width="1.25" stroke-linejoin="round"/>
<polygon points="269.84,337.97 269.38,339.39 267.88,339.39 269.09,340.27 268.63,341.70 269.84,340.82 271.05,341.70 270.59,340.27 271.80,339.39 270.30,339.39" fill="#E9967A" stroke="#E9967A" stroke-width="1.25" stroke-linejoin="round"/>
<polygon points="276.76,338.56 276.29,339.99 274.80,339.99 276.01,340.87 275.55,342.29 276.76,341.41 277.97,342.29 277.51,340.87 278.72,339.99 277.22,339.99" fill="#E9967A" stroke="#E9967A" stroke-width="1.25" stroke-linejoin="round"/>
<polygon points="283.68,339.12 283.21,340.55 281.71,340.55 282.93,341.43 282.46,342.86 283.68,341.98 284.89,342.86 284.43,341.43 285.64,340.55 284.14,340.55" fill="#E9967A" stroke="#E9967A" stroke-width="1.25" stroke-linejoin="round"/>
<polygon points="290.59,339.64 290.13,341.07 288.63,341.07 289.84,341.95 289.38,343.38 290.59,342.49 291.81,343.38 291.34,341.95 292.56,341.07 291.06,341.07" fill="#E9967A" stroke="#E9967A" stroke-width="1.25" stroke-linejoin="round"/>
<polygon points="297.51,340.12 297.05,341.55 295.55,341.55 296.76,342.43 296.30,343.86 297.51,342.98 298.72,343.86 298.26,342.43 299.47,341.55 297.98,341.55" fill="#E9967A" stroke="#E9967A" stroke-width="1.25" stroke-linejoin="round"/>
<polygon points="304.43,340.58 303.97,342.00 302.47,342.00 303.68,342.88 303.22,344.31 304.43,343.43 305.64,344.31 305.18,342.88 306.39,342.00 304.89,342.00" fill="#E9967A" stroke="#E9967A" stroke-width="1.25" stroke-linejoin="round"/>
<polygon points="311.35,340.99 310.88,342.41 309.39,342.41 310.60,343.29 310.14,344.72 311.35,343.84 312.56,344.72 312.10,343.29 313.31,342.41 311.81,342.41" fill="#E9967A" stroke="#E9967A" stroke-width="1.25" stroke-linejoin="round"/>
<polygon points="318.27,341.35 317.80,342.78 316.30,342.78 317.52,343.66 317.05,345.09 318.27,344.20 319.48,345.09 319.02,343.66 320.23,342.78 318.73,342.78" fill="#E9967A" stroke="#E9967A" stroke-width="1.25" stroke-linejoin="round"/>
<polygon points="325.18,341.69 324.72,343.11 323.22,343.11 324.43,344.00 323.97,345.42 325.18,344.54 326.40,345.42 325.93,344.00 327.15,343.11 325.65,343.11" fill="#E9967A" stroke="#E9967A" stroke-width="1.25" stroke-linejoin="round"/>
<polygon points="332.10,341.99 331.64,343.42 330.14,343.42 331.35,344.30 330.89,345.72 332.10,344.84 333.31,345.72 332.85,344.30 334.06,343.42 332.57,343.42" fill="#E9967A" stroke="#E9967A" stroke-width="1.25" stroke-linejoin="round"/>
</g>
<line x1="62.50" y1="346.40" x2="339.00" y2="346.40" stroke="#111" stroke-width="1.3" stroke-dasharray="4.1,2.4"/>
<rect x="62.50" y="324.30" width="276.50" height="214.70" fill="none" stroke="#444" stroke-width="1.1"/>
<line x1="62.30" y1="539.00" x2="62.30" y2="542.00" stroke="#444" stroke-width="0.9"/>
<text x="62.30" y="555.00" text-anchor="middle" font-family='"Liberation Serif", serif' font-size="14.4" fill="#111">0</text>
<line x1="96.89" y1="539.00" x2="96.89" y2="542.00" stroke="#444" stroke-width="0.9"/>
<text x="96.89" y="555.00" text-anchor="middle" font-family='"Liberation Serif", serif' font-size="14.4" fill="#111">5</text>
<line x1="131.48" y1="539.00" x2="131.48" y2="542.00" stroke="#444" stroke-width="0.9"/>
<text x="131.48" y="555.00" text-anchor="middle" font-family='"Liberation Serif", serif' font-size="14.4" fill="#111">10</text>
<line x1="166.07" y1="539.00" x2="166.07" y2="542.00" stroke="#444" stroke-width="0.9"/>
<text x="166.07" y="555.00" text-anchor="middle" font-family='"Liberation Serif", serif' font-size="14.4" fill="#111">15</text>
<line x1="200.66" y1="539.00" x2="200.66" y2="542.00" stroke="#444" stroke-width="0.9"/>
<text x="200.66" y="555.00" text-anchor="middle" font-family='"Liberation Serif", serif' font-size="14.4" fill="#111">20</text>
<line x1="235.25" y1="539.00" x2="235.25" y2="542.00" stroke="#444" stroke-width="0.9"/>
<text x="235.25" y="555.00" text-anchor="middle" font-family='"Liberation Serif", serif' font-size="14.4" fill="#111">25</text>
<line x1="269.84" y1="539.00" x2="269.84" y2="542.00" stroke="#444" stroke-width="0.9"/>
<text x="269.84" y="555.00" text-anchor="middle" font-family='"Liberation Serif", serif' font-size="14.4" fill="#111">30</text>
<line x1="304.43" y1="539.00" x2="304.43" y2="542.00" stroke="#444" stroke-width="0.9"/>
<text x="304.43" y="555.00" text-anchor="middle" font-family='"Liberation Serif", serif' font-size="14.4" fill="#111">35</text>
<line x1="339.02" y1="539.00" x2="339.02" y2="542.00" stroke="#444" stroke-width="0.9"/>
<text x="339.02" y="555.00" text-anchor="middle" font-family='"Liberation Serif", serif' font-size="14.4" fill="#111">40</text>
<line x1="59.50" y1="346.40" x2="62.50" y2="346.40" stroke="#444" stroke-width="0.9"/>
<text x="56.00" y="351.30" text-anchor="end" font-family='"Liberation Serif", serif' font-size="14.4" fill="#111">0.0</text>
<line x1="59.50" y1="374.33" x2="62.50" y2="374.33" stroke="#444" stroke-width="0.9"/>
<text x="56.00" y="379.23" text-anchor="end" font-family='"Liberation Serif", serif' font-size="14.4" fill="#111">−0.5</text>
<line x1="59.50" y1="402.27" x2="62.50" y2="402.27" stroke="#444" stroke-width="0.9"/>
<text x="56.00" y="407.17" text-anchor="end" font-family='"Liberation Serif", serif' font-size="14.4" fill="#111">−1.0</text>
<line x1="59.50" y1="430.20" x2="62.50" y2="430.20" stroke="#444" stroke-width="0.9"/>
<text x="56.00" y="435.10" text-anchor="end" font-family='"Liberation Serif", serif' font-size="14.4" fill="#111">−1.5</text>
<line x1="59.50" y1="458.14" x2="62.50" y2="458.14" stroke="#444" stroke-width="0.9"/>
<text x="56.00" y="463.04" text-anchor="end" font-family='"Liberation Serif", serif' font-size="14.4" fill="#111">−2.0</text>
<line x1="59.50" y1="486.07" x2="62.50" y2="486.07" stroke="#444" stroke-width="0.9"/>
<text x="56.00" y="490.97" text-anchor="end" font-family='"Liberation Serif", serif' font-size="14.4" fill="#111">−2.5</text>
<line x1="59.50" y1="514.01" x2="62.50" y2="514.01" stroke="#444" stroke-width="0.9"/>
<text x="56.00" y="518.91" text-anchor="end" font-family='"Liberation Serif", serif' font-size="14.4" fill="#111">−3.0</text>
<rect x="270.50" y="367.50" width="68.50" height="162.10" rx="1.5" fill="#fff" fill-opacity="0.85" stroke="#d0d0d0" stroke-width="0.8"/>
<line x1="273.00" y1="377.40" x2="293.60" y2="377.40" stroke="#FF7F50" stroke-width="1.4"/>
<circle cx="283.30" cy="377.40" r="2.90" fill="#FF7F50"/>
<text x="302.0" y="381.0" font-family='"Liberation Serif", serif' font-size="10.0" fill="#111"><tspan font-style="italic" font-size="11.2">β</tspan><tspan font-size="8.0" dy="2.4">1</tspan><tspan dy="-2.4"> = 0.0</tspan></text>
<line x1="273.00" y1="395.06" x2="293.60" y2="395.06" stroke="#FF0000" stroke-width="1.4"/>
<circle cx="283.30" cy="395.06" r="2.90" fill="#FF0000"/>
<text x="302.0" y="398.7" font-family='"Liberation Serif", serif' font-size="10.0" fill="#111"><tspan font-style="italic" font-size="11.2">β</tspan><tspan font-size="8.0" dy="2.4">1</tspan><tspan dy="-2.4"> =0.1</tspan></text>
<line x1="273.00" y1="412.72" x2="293.60" y2="412.72" stroke="#6B8E23" stroke-width="1.4"/>
<circle cx="283.30" cy="412.72" r="2.90" fill="#6B8E23"/>
<text x="302.0" y="416.3" font-family='"Liberation Serif", serif' font-size="10.0" fill="#111"><tspan font-style="italic" font-size="11.2">β</tspan><tspan font-size="8.0" dy="2.4">1</tspan><tspan dy="-2.4"> =0.2</tspan></text>
<line x1="273.00" y1="430.38" x2="293.60" y2="430.38" stroke="#D2691E" stroke-width="1.4"/>
<polygon points="283.30,427.68 280.60,433.08 286.00,433.08" fill="#D2691E"/>
<text x="302.0" y="434.0" font-family='"Liberation Serif", serif' font-size="10.0" fill="#111"><tspan font-style="italic" font-size="11.2">β</tspan><tspan font-size="8.0" dy="2.4">1</tspan><tspan dy="-2.4"> =0.3</tspan></text>
<line x1="273.00" y1="448.04" x2="293.60" y2="448.04" stroke="#6A5ACD" stroke-width="1.4"/>
<polygon points="283.30,445.34 280.60,450.74 286.00,450.74" fill="#6A5ACD"/>
<text x="302.0" y="451.6" font-family='"Liberation Serif", serif' font-size="10.0" fill="#111"><tspan font-style="italic" font-size="11.2">β</tspan><tspan font-size="8.0" dy="2.4">1</tspan><tspan dy="-2.4"> =0.4</tspan></text>
<line x1="273.00" y1="465.70" x2="293.60" y2="465.70" stroke="#DDA0DD" stroke-width="1.4"/>
<polygon points="283.30,463.00 280.60,468.40 286.00,468.40" fill="#DDA0DD"/>
<text x="302.0" y="469.3" font-family='"Liberation Serif", serif' font-size="10.0" fill="#111"><tspan font-style="italic" font-size="11.2">β</tspan><tspan font-size="8.0" dy="2.4">1</tspan><tspan dy="-2.4"> =0.5</tspan></text>
<line x1="273.00" y1="483.36" x2="293.60" y2="483.36" stroke="#9370DB" stroke-width="1.4"/>
<polygon points="283.30,481.06 282.78,482.65 281.11,482.65 282.46,483.63 281.95,485.22 283.30,484.24 284.65,485.22 284.14,483.63 285.49,482.65 283.82,482.65" fill="#9370DB" stroke="#9370DB" stroke-width="1.25" stroke-linejoin="round"/>
<text x="302.0" y="487.0" font-family='"Liberation Serif", serif' font-size="10.0" fill="#111"><tspan font-style="italic" font-size="11.2">β</tspan><tspan font-size="8.0" dy="2.4">1</tspan><tspan dy="-2.4"> =0.6</tspan></text>
<line x1="273.00" y1="501.02" x2="293.60" y2="501.02" stroke="#1E90FF" stroke-width="1.4"/>
<polygon points="283.30,498.72 282.78,500.31 281.11,500.31 282.46,501.29 281.95,502.88 283.30,501.90 284.65,502.88 284.14,501.29 285.49,500.31 283.82,500.31" fill="#1E90FF" stroke="#1E90FF" stroke-width="1.25" stroke-linejoin="round"/>
<text x="302.0" y="504.6" font-family='"Liberation Serif", serif' font-size="10.0" fill="#111"><tspan font-style="italic" font-size="11.2">β</tspan><tspan font-size="8.0" dy="2.4">1</tspan><tspan dy="-2.4"> =0.7</tspan></text>
<line x1="273.00" y1="518.68" x2="293.60" y2="518.68" stroke="#E9967A" stroke-width="1.4"/>
<polygon points="283.30,516.38 282.78,517.97 281.11,517.97 282.46,518.95 281.95,520.54 283.30,519.56 284.65,520.54 284.14,518.95 285.49,517.97 283.82,517.97" fill="#E9967A" stroke="#E9967A" stroke-width="1.25" stroke-linejoin="round"/>
<text x="302.0" y="522.3" font-family='"Liberation Serif", serif' font-size="10.0" fill="#111"><tspan font-style="italic" font-size="11.2">β</tspan><tspan font-size="8.0" dy="2.4">1</tspan><tspan dy="-2.4"> =0.8</tspan></text>
<text x="132.0" y="340.6" font-family='"Liberation Serif", serif' font-size="14.4" fill="#111">stable</text>
<text x="201.0" y="458.0" font-family='"Liberation Serif", serif' font-size="14.4" fill="#111">unstable</text>
<text x="199.75" y="572.00" text-anchor="middle" font-family='"Liberation Serif", serif' font-weight="bold" font-size="14.4" fill="#111">Space headway (m)</text>
<text transform="translate(24.00,433.15) rotate(-90)" text-anchor="middle" font-family='"Liberation Serif", serif' font-weight="bold" font-size="14.4" fill="#111">Stability</text>
<text x="189.3" y="597.0" text-anchor="middle" font-family='"Liberation Serif", serif' font-size="16" fill="#111">(<tspan font-weight="bold">c</tspan>)</text>
<clipPath id="clipd"><rect x="457.20" y="322.30" width="271.10" height="215.00"/></clipPath>
<g clip-path="url(#clipd)">
<polyline points="457.00,353.06 463.78,353.06 470.56,354.56 477.34,359.43 484.12,369.66 490.90,387.26 497.68,411.47 504.46,440.30 511.24,471.87 518.02,499.08 524.80,518.55 531.58,527.16 538.36,525.66 545.14,514.05 551.92,495.96 558.70,474.99 565.48,453.03 572.26,431.94 579.04,413.46 585.82,398.11 592.60,385.26 599.38,376.15 606.16,368.54 612.94,363.05 619.72,358.93 626.50,356.43 633.28,355.31 640.06,354.71 646.84,354.31 653.62,353.97 660.40,353.81 667.18,353.89 673.96,354.07 680.74,354.31 687.52,354.63 694.30,355.08 701.08,355.56 707.86,356.03 714.64,356.53 721.42,357.06" fill="none" stroke="#FF7F50" stroke-width="1.15" stroke-linejoin="round"/>
<circle cx="457.00" cy="353.06" r="2.80" fill="#FF7F50"/>
<circle cx="463.78" cy="353.06" r="2.80" fill="#FF7F50"/>
<circle cx="470.56" cy="354.56" r="2.80" fill="#FF7F50"/>
<circle cx="477.34" cy="359.43" r="2.80" fill="#FF7F50"/>
<circle cx="484.12" cy="369.66" r="2.80" fill="#FF7F50"/>
<circle cx="490.90" cy="387.26" r="2.80" fill="#FF7F50"/>
<circle cx="497.68" cy="411.47" r="2.80" fill="#FF7F50"/>
<circle cx="504.46" cy="440.30" r="2.80" fill="#FF7F50"/>
<circle cx="511.24" cy="471.87" r="2.80" fill="#FF7F50"/>
<circle cx="518.02" cy="499.08" r="2.80" fill="#FF7F50"/>
<circle cx="524.80" cy="518.55" r="2.80" fill="#FF7F50"/>
<circle cx="531.58" cy="527.16" r="2.80" fill="#FF7F50"/>
<circle cx="538.36" cy="525.66" r="2.80" fill="#FF7F50"/>
<circle cx="545.14" cy="514.05" r="2.80" fill="#FF7F50"/>
<circle cx="551.92" cy="495.96" r="2.80" fill="#FF7F50"/>
<circle cx="558.70" cy="474.99" r="2.80" fill="#FF7F50"/>
<circle cx="565.48" cy="453.03" r="2.80" fill="#FF7F50"/>
<circle cx="572.26" cy="431.94" r="2.80" fill="#FF7F50"/>
<circle cx="579.04" cy="413.46" r="2.80" fill="#FF7F50"/>
<circle cx="585.82" cy="398.11" r="2.80" fill="#FF7F50"/>
<circle cx="592.60" cy="385.26" r="2.80" fill="#FF7F50"/>
<circle cx="599.38" cy="376.15" r="2.80" fill="#FF7F50"/>
<circle cx="606.16" cy="368.54" r="2.80" fill="#FF7F50"/>
<circle cx="612.94" cy="363.05" r="2.80" fill="#FF7F50"/>
<circle cx="619.72" cy="358.93" r="2.80" fill="#FF7F50"/>
<circle cx="626.50" cy="356.43" r="2.80" fill="#FF7F50"/>
<circle cx="633.28" cy="355.31" r="2.80" fill="#FF7F50"/>
<circle cx="640.06" cy="354.71" r="2.80" fill="#FF7F50"/>
<circle cx="646.84" cy="354.31" r="2.80" fill="#FF7F50"/>
<circle cx="653.62" cy="353.97" r="2.80" fill="#FF7F50"/>
<circle cx="660.40" cy="353.81" r="2.80" fill="#FF7F50"/>
<circle cx="667.18" cy="353.89" r="2.80" fill="#FF7F50"/>
<circle cx="673.96" cy="354.07" r="2.80" fill="#FF7F50"/>
<circle cx="680.74" cy="354.31" r="2.80" fill="#FF7F50"/>
<circle cx="687.52" cy="354.63" r="2.80" fill="#FF7F50"/>
<circle cx="694.30" cy="355.08" r="2.80" fill="#FF7F50"/>
<circle cx="701.08" cy="355.56" r="2.80" fill="#FF7F50"/>
<circle cx="707.86" cy="356.03" r="2.80" fill="#FF7F50"/>
<circle cx="714.64" cy="356.53" r="2.80" fill="#FF7F50"/>
<circle cx="721.42" cy="357.06" r="2.80" fill="#FF7F50"/>
<polyline points="457.00,353.06 463.78,353.06 470.56,353.81 477.34,357.30 484.12,365.04 490.90,380.14 497.68,399.99 504.46,425.32 511.24,452.15 518.02,475.62 524.80,492.84 531.58,501.32 538.36,499.58 545.14,489.34 551.92,473.99 558.70,455.02 565.48,435.55 572.26,417.46 579.04,401.23 585.82,387.63 592.60,377.77 599.38,369.41 606.16,363.05 612.94,358.93 619.72,355.93 626.50,354.43 633.28,353.69 640.06,353.26 646.84,353.06 653.62,353.06 660.40,353.06 667.18,353.19 673.96,353.47 680.74,353.81 687.52,354.20 694.30,354.67 701.08,355.18 707.86,355.72 714.64,356.31 721.42,356.93" fill="none" stroke="#FF0000" stroke-width="1.15" stroke-linejoin="round"/>
<circle cx="457.00" cy="353.06" r="2.80" fill="#FF0000"/>
<circle cx="463.78" cy="353.06" r="2.80" fill="#FF0000"/>
<circle cx="470.56" cy="353.81" r="2.80" fill="#FF0000"/>
<circle cx="477.34" cy="357.30" r="2.80" fill="#FF0000"/>
<circle cx="484.12" cy="365.04" r="2.80" fill="#FF0000"/>
<circle cx="490.90" cy="380.14" r="2.80" fill="#FF0000"/>
<circle cx="497.68" cy="399.99" r="2.80" fill="#FF0000"/>
<circle cx="504.46" cy="425.32" r="2.80" fill="#FF0000"/>
<circle cx="511.24" cy="452.15" r="2.80" fill="#FF0000"/>
<circle cx="518.02" cy="475.62" r="2.80" fill="#FF0000"/>
<circle cx="524.80" cy="492.84" r="2.80" fill="#FF0000"/>
<circle cx="531.58" cy="501.32" r="2.80" fill="#FF0000"/>
<circle cx="538.36" cy="499.58" r="2.80" fill="#FF0000"/>
<circle cx="545.14" cy="489.34" r="2.80" fill="#FF0000"/>
<circle cx="551.92" cy="473.99" r="2.80" fill="#FF0000"/>
<circle cx="558.70" cy="455.02" r="2.80" fill="#FF0000"/>
<circle cx="565.48" cy="435.55" r="2.80" fill="#FF0000"/>
<circle cx="572.26" cy="417.46" r="2.80" fill="#FF0000"/>
<circle cx="579.04" cy="401.23" r="2.80" fill="#FF0000"/>
<circle cx="585.82" cy="387.63" r="2.80" fill="#FF0000"/>
<circle cx="592.60" cy="377.77" r="2.80" fill="#FF0000"/>
<circle cx="599.38" cy="369.41" r="2.80" fill="#FF0000"/>
<circle cx="606.16" cy="363.05" r="2.80" fill="#FF0000"/>
<circle cx="612.94" cy="358.93" r="2.80" fill="#FF0000"/>
<circle cx="619.72" cy="355.93" r="2.80" fill="#FF0000"/>
<circle cx="626.50" cy="354.43" r="2.80" fill="#FF0000"/>
<circle cx="633.28" cy="353.69" r="2.80" fill="#FF0000"/>
<circle cx="640.06" cy="353.26" r="2.80" fill="#FF0000"/>
<circle cx="646.84" cy="353.06" r="2.80" fill="#FF0000"/>
<circle cx="653.62" cy="353.06" r="2.80" fill="#FF0000"/>
<circle cx="660.40" cy="353.06" r="2.80" fill="#FF0000"/>
<circle cx="667.18" cy="353.19" r="2.80" fill="#FF0000"/>
<circle cx="673.96" cy="353.47" r="2.80" fill="#FF0000"/>
<circle cx="680.74" cy="353.81" r="2.80" fill="#FF0000"/>
<circle cx="687.52" cy="354.20" r="2.80" fill="#FF0000"/>
<circle cx="694.30" cy="354.67" r="2.80" fill="#FF0000"/>
<circle cx="701.08" cy="355.18" r="2.80" fill="#FF0000"/>
<circle cx="707.86" cy="355.72" r="2.80" fill="#FF0000"/>
<circle cx="714.64" cy="356.31" r="2.80" fill="#FF0000"/>
<circle cx="721.42" cy="356.93" r="2.80" fill="#FF0000"/>
<polyline points="457.00,352.56 463.78,351.44 470.56,351.44 477.34,354.56 484.12,360.18 490.90,371.28 497.68,389.13 504.46,410.34 511.24,432.56 518.02,453.78 524.80,467.63 531.58,475.24 538.36,473.37 545.14,465.26 551.92,451.53 558.70,435.55 565.48,418.71 572.26,403.98 579.04,390.13 585.82,379.02 592.60,370.03 599.38,363.05 606.16,358.30 612.94,355.43 619.72,353.69 626.50,352.81 633.28,352.31 640.06,352.14 646.84,352.06 653.62,352.14 660.40,352.31 667.18,352.56 673.96,352.91 680.74,353.31 687.52,353.75 694.30,354.26 701.08,354.81 707.86,355.41 714.64,356.08 721.42,356.81" fill="none" stroke="#6B8E23" stroke-width="1.15" stroke-linejoin="round"/>
<circle cx="457.00" cy="352.56" r="2.80" fill="#6B8E23"/>
<circle cx="463.78" cy="351.44" r="2.80" fill="#6B8E23"/>
<circle cx="470.56" cy="351.44" r="2.80" fill="#6B8E23"/>
<circle cx="477.34" cy="354.56" r="2.80" fill="#6B8E23"/>
<circle cx="484.12" cy="360.18" r="2.80" fill="#6B8E23"/>
<circle cx="490.90" cy="371.28" r="2.80" fill="#6B8E23"/>
<circle cx="497.68" cy="389.13" r="2.80" fill="#6B8E23"/>
<circle cx="504.46" cy="410.34" r="2.80" fill="#6B8E23"/>
<circle cx="511.24" cy="432.56" r="2.80" fill="#6B8E23"/>
<circle cx="518.02" cy="453.78" r="2.80" fill="#6B8E23"/>
<circle cx="524.80" cy="467.63" r="2.80" fill="#6B8E23"/>
<circle cx="531.58" cy="475.24" r="2.80" fill="#6B8E23"/>
<circle cx="538.36" cy="473.37" r="2.80" fill="#6B8E23"/>
<circle cx="545.14" cy="465.26" r="2.80" fill="#6B8E23"/>
<circle cx="551.92" cy="451.53" r="2.80" fill="#6B8E23"/>
<circle cx="558.70" cy="435.55" r="2.80" fill="#6B8E23"/>
<circle cx="565.48" cy="418.71" r="2.80" fill="#6B8E23"/>
<circle cx="572.26" cy="403.98" r="2.80" fill="#6B8E23"/>
<circle cx="579.04" cy="390.13" r="2.80" fill="#6B8E23"/>
<circle cx="585.82" cy="379.02" r="2.80" fill="#6B8E23"/>
<circle cx="592.60" cy="370.03" r="2.80" fill="#6B8E23"/>
<circle cx="599.38" cy="363.05" r="2.80" fill="#6B8E23"/>
<circle cx="606.16" cy="358.30" r="2.80" fill="#6B8E23"/>
<circle cx="612.94" cy="355.43" r="2.80" fill="#6B8E23"/>
<circle cx="619.72" cy="353.69" r="2.80" fill="#6B8E23"/>
<circle cx="626.50" cy="352.81" r="2.80" fill="#6B8E23"/>
<circle cx="633.28" cy="352.31" r="2.80" fill="#6B8E23"/>
<circle cx="640.06" cy="352.14" r="2.80" fill="#6B8E23"/>
<circle cx="646.84" cy="352.06" r="2.80" fill="#6B8E23"/>
<circle cx="653.62" cy="352.14" r="2.80" fill="#6B8E23"/>
<circle cx="660.40" cy="352.31" r="2.80" fill="#6B8E23"/>
<circle cx="667.18" cy="352.56" r="2.80" fill="#6B8E23"/>
<circle cx="673.96" cy="352.91" r="2.80" fill="#6B8E23"/>
<circle cx="680.74" cy="353.31" r="2.80" fill="#6B8E23"/>
<circle cx="687.52" cy="353.75" r="2.80" fill="#6B8E23"/>
<circle cx="694.30" cy="354.26" r="2.80" fill="#6B8E23"/>
<circle cx="701.08" cy="354.81" r="2.80" fill="#6B8E23"/>
<circle cx="707.86" cy="355.41" r="2.80" fill="#6B8E23"/>
<circle cx="714.64" cy="356.08" r="2.80" fill="#6B8E23"/>
<circle cx="721.42" cy="356.81" r="2.80" fill="#6B8E23"/>
<polyline points="457.00,351.94 463.78,350.94 470.56,350.69 477.34,351.94 484.12,357.30 490.90,365.04 497.68,377.77 504.46,395.24 511.24,414.46 518.02,431.69 524.80,444.66 531.58,449.91 538.36,448.41 545.14,440.92 551.92,430.06 558.70,416.71 565.48,403.23 572.26,390.75 579.04,379.02 585.82,369.66 592.60,362.55 599.38,357.30 606.16,353.81 612.94,351.94 619.72,350.94 626.50,350.67 633.28,350.57 640.06,350.69 646.84,350.94 653.62,351.23 660.40,351.56 667.18,351.94 673.96,352.36 680.74,352.81 687.52,353.30 694.30,353.84 701.08,354.43 707.86,355.11 714.64,355.86 721.42,356.68" fill="none" stroke="#D2691E" stroke-width="1.15" stroke-linejoin="round"/>
<polygon points="457.00,349.28 454.34,354.60 459.66,354.60" fill="#D2691E"/>
<polygon points="463.78,348.28 461.12,353.60 466.44,353.60" fill="#D2691E"/>
<polygon points="470.56,348.03 467.90,353.35 473.22,353.35" fill="#D2691E"/>
<polygon points="477.34,349.28 474.68,354.60 480.00,354.60" fill="#D2691E"/>
<polygon points="484.12,354.64 481.46,359.96 486.78,359.96" fill="#D2691E"/>
<polygon points="490.90,362.38 488.24,367.70 493.56,367.70" fill="#D2691E"/>
<polygon points="497.68,375.11 495.02,380.43 500.34,380.43" fill="#D2691E"/>
<polygon points="504.46,392.58 501.80,397.90 507.12,397.90" fill="#D2691E"/>
<polygon points="511.24,411.80 508.58,417.12 513.90,417.12" fill="#D2691E"/>
<polygon points="518.02,429.03 515.36,434.35 520.68,434.35" fill="#D2691E"/>
<polygon points="524.80,442.00 522.14,447.32 527.46,447.32" fill="#D2691E"/>
<polygon points="531.58,447.25 528.92,452.57 534.24,452.57" fill="#D2691E"/>
<polygon points="538.36,445.75 535.70,451.07 541.02,451.07" fill="#D2691E"/>
<polygon points="545.14,438.26 542.48,443.58 547.80,443.58" fill="#D2691E"/>
<polygon points="551.92,427.40 549.26,432.72 554.58,432.72" fill="#D2691E"/>
<polygon points="558.70,414.05 556.04,419.37 561.36,419.37" fill="#D2691E"/>
<polygon points="565.48,400.57 562.82,405.89 568.14,405.89" fill="#D2691E"/>
<polygon points="572.26,388.09 569.60,393.41 574.92,393.41" fill="#D2691E"/>
<polygon points="579.04,376.36 576.38,381.68 581.70,381.68" fill="#D2691E"/>
<polygon points="585.82,367.00 583.16,372.32 588.48,372.32" fill="#D2691E"/>
<polygon points="592.60,359.89 589.94,365.21 595.26,365.21" fill="#D2691E"/>
<polygon points="599.38,354.64 596.72,359.96 602.04,359.96" fill="#D2691E"/>
<polygon points="606.16,351.15 603.50,356.47 608.82,356.47" fill="#D2691E"/>
<polygon points="612.94,349.28 610.28,354.60 615.60,354.60" fill="#D2691E"/>
<polygon points="619.72,348.28 617.06,353.60 622.38,353.60" fill="#D2691E"/>
<polygon points="626.50,348.01 623.84,353.33 629.16,353.33" fill="#D2691E"/>
<polygon points="633.28,347.91 630.62,353.23 635.94,353.23" fill="#D2691E"/>
<polygon points="640.06,348.03 637.40,353.35 642.72,353.35" fill="#D2691E"/>
<polygon points="646.84,348.28 644.18,353.60 649.50,353.60" fill="#D2691E"/>
<polygon points="653.62,348.57 650.96,353.89 656.28,353.89" fill="#D2691E"/>
<polygon points="660.40,348.90 657.74,354.22 663.06,354.22" fill="#D2691E"/>
<polygon points="667.18,349.28 664.52,354.60 669.84,354.60" fill="#D2691E"/>
<polygon points="673.96,349.70 671.30,355.02 676.62,355.02" fill="#D2691E"/>
<polygon points="680.74,350.15 678.08,355.47 683.40,355.47" fill="#D2691E"/>
<polygon points="687.52,350.64 684.86,355.96 690.18,355.96" fill="#D2691E"/>
<polygon points="694.30,351.18 691.64,356.50 696.96,356.50" fill="#D2691E"/>
<polygon points="701.08,351.77 698.42,357.09 703.74,357.09" fill="#D2691E"/>
<polygon points="707.86,352.45 705.20,357.77 710.52,357.77" fill="#D2691E"/>
<polygon points="714.64,353.20 711.98,358.52 717.30,358.52" fill="#D2691E"/>
<polygon points="721.42,354.02 718.76,359.34 724.08,359.34" fill="#D2691E"/>
<polyline points="457.00,351.44 463.78,350.32 470.56,348.69 477.34,348.32 484.12,350.57 490.90,357.06 497.68,367.41 504.46,381.14 511.24,395.99 518.02,409.72 524.80,419.83 531.58,424.57 538.36,423.95 545.14,418.08 551.92,408.97 558.70,398.11 565.48,386.51 572.26,376.02 579.04,366.17 585.82,358.30 592.60,352.19 599.38,348.69 606.16,346.70 612.94,345.95 619.72,346.32 626.50,346.88 633.28,347.57 640.06,348.31 646.84,349.07 653.62,349.84 660.40,350.57 667.18,351.18 673.96,351.74 680.74,352.31 687.52,352.91 694.30,353.52 701.08,354.18 707.86,354.92 714.64,355.71 721.42,356.56" fill="none" stroke="#6A5ACD" stroke-width="1.15" stroke-linejoin="round"/>
<polygon points="457.00,348.78 454.34,354.10 459.66,354.10" fill="#6A5ACD"/>
<polygon points="463.78,347.66 461.12,352.98 466.44,352.98" fill="#6A5ACD"/>
<polygon points="470.56,346.03 467.90,351.35 473.22,351.35" fill="#6A5ACD"/>
<polygon points="477.34,345.66 474.68,350.98 480.00,350.98" fill="#6A5ACD"/>
<polygon points="484.12,347.91 481.46,353.23 486.78,353.23" fill="#6A5ACD"/>
<polygon points="490.90,354.40 488.24,359.72 493.56,359.72" fill="#6A5ACD"/>
<polygon points="497.68,364.75 495.02,370.07 500.34,370.07" fill="#6A5ACD"/>
<polygon points="504.46,378.48 501.80,383.80 507.12,383.80" fill="#6A5ACD"/>
<polygon points="511.24,393.33 508.58,398.65 513.90,398.65" fill="#6A5ACD"/>
<polygon points="518.02,407.06 515.36,412.38 520.68,412.38" fill="#6A5ACD"/>
<polygon points="524.80,417.17 522.14,422.49 527.46,422.49" fill="#6A5ACD"/>
<polygon points="531.58,421.91 528.92,427.23 534.24,427.23" fill="#6A5ACD"/>
<polygon points="538.36,421.29 535.70,426.61 541.02,426.61" fill="#6A5ACD"/>
<polygon points="545.14,415.42 542.48,420.74 547.80,420.74" fill="#6A5ACD"/>
<polygon points="551.92,406.31 549.26,411.63 554.58,411.63" fill="#6A5ACD"/>
<polygon points="558.70,395.45 556.04,400.77 561.36,400.77" fill="#6A5ACD"/>
<polygon points="565.48,383.85 562.82,389.17 568.14,389.17" fill="#6A5ACD"/>
<polygon points="572.26,373.36 569.60,378.68 574.92,378.68" fill="#6A5ACD"/>
<polygon points="579.04,363.51 576.38,368.83 581.70,368.83" fill="#6A5ACD"/>
<polygon points="585.82,355.64 583.16,360.96 588.48,360.96" fill="#6A5ACD"/>
<polygon points="592.60,349.53 589.94,354.85 595.26,354.85" fill="#6A5ACD"/>
<polygon points="599.38,346.03 596.72,351.35 602.04,351.35" fill="#6A5ACD"/>
<polygon points="606.16,344.04 603.50,349.36 608.82,349.36" fill="#6A5ACD"/>
<polygon points="612.94,343.29 610.28,348.61 615.60,348.61" fill="#6A5ACD"/>
<polygon points="619.72,343.66 617.06,348.98 622.38,348.98" fill="#6A5ACD"/>
<polygon points="626.50,344.22 623.84,349.54 629.16,349.54" fill="#6A5ACD"/>
<polygon points="633.28,344.91 630.62,350.23 635.94,350.23" fill="#6A5ACD"/>
<polygon points="640.06,345.65 637.40,350.97 642.72,350.97" fill="#6A5ACD"/>
<polygon points="646.84,346.41 644.18,351.73 649.50,351.73" fill="#6A5ACD"/>
<polygon points="653.62,347.18 650.96,352.50 656.28,352.50" fill="#6A5ACD"/>
<polygon points="660.40,347.91 657.74,353.23 663.06,353.23" fill="#6A5ACD"/>
<polygon points="667.18,348.52 664.52,353.84 669.84,353.84" fill="#6A5ACD"/>
<polygon points="673.96,349.08 671.30,354.40 676.62,354.40" fill="#6A5ACD"/>
<polygon points="680.74,349.65 678.08,354.97 683.40,354.97" fill="#6A5ACD"/>
<polygon points="687.52,350.25 684.86,355.57 690.18,355.57" fill="#6A5ACD"/>
<polygon points="694.30,350.86 691.64,356.18 696.96,356.18" fill="#6A5ACD"/>
<polygon points="701.08,351.52 698.42,356.84 703.74,356.84" fill="#6A5ACD"/>
<polygon points="707.86,352.26 705.20,357.58 710.52,357.58" fill="#6A5ACD"/>
<polygon points="714.64,353.05 711.98,358.37 717.30,358.37" fill="#6A5ACD"/>
<polygon points="721.42,353.90 718.76,359.22 724.08,359.22" fill="#6A5ACD"/>
<polyline points="457.00,351.06 463.78,349.94 470.56,347.07 477.34,344.82 484.12,345.07 490.90,349.94 497.68,358.55 504.46,368.16 511.24,379.27 518.02,389.63 524.80,397.62 531.58,401.61 538.36,400.36 545.14,395.74 551.92,388.01 558.70,380.52 565.48,372.90 572.26,365.04 579.04,357.80 585.82,352.19 592.60,347.82 599.38,345.07 606.16,343.58 612.94,342.70 619.72,343.20 626.50,344.10 633.28,345.20 640.06,346.25 646.84,347.32 653.62,348.42 660.40,349.44 667.18,350.30 673.96,351.06 680.74,351.81 687.52,352.52 694.30,353.21 701.08,353.94 707.86,354.72 714.64,355.56 721.42,356.43" fill="none" stroke="#DDA0DD" stroke-width="1.15" stroke-linejoin="round"/>
<polygon points="457.00,348.40 454.34,353.72 459.66,353.72" fill="#DDA0DD"/>
<polygon points="463.78,347.28 461.12,352.60 466.44,352.60" fill="#DDA0DD"/>
<polygon points="470.56,344.41 467.90,349.73 473.22,349.73" fill="#DDA0DD"/>
<polygon points="477.34,342.16 474.68,347.48 480.00,347.48" fill="#DDA0DD"/>
<polygon points="484.12,342.41 481.46,347.73 486.78,347.73" fill="#DDA0DD"/>
<polygon points="490.90,347.28 488.24,352.60 493.56,352.60" fill="#DDA0DD"/>
<polygon points="497.68,355.89 495.02,361.21 500.34,361.21" fill="#DDA0DD"/>
<polygon points="504.46,365.50 501.80,370.82 507.12,370.82" fill="#DDA0DD"/>
<polygon points="511.24,376.61 508.58,381.93 513.90,381.93" fill="#DDA0DD"/>
<polygon points="518.02,386.97 515.36,392.29 520.68,392.29" fill="#DDA0DD"/>
<polygon points="524.80,394.96 522.14,400.28 527.46,400.28" fill="#DDA0DD"/>
<polygon points="531.58,398.95 528.92,404.27 534.24,404.27" fill="#DDA0DD"/>
<polygon points="538.36,397.70 535.70,403.02 541.02,403.02" fill="#DDA0DD"/>
<polygon points="545.14,393.08 542.48,398.40 547.80,398.40" fill="#DDA0DD"/>
<polygon points="551.92,385.35 549.26,390.67 554.58,390.67" fill="#DDA0DD"/>
<polygon points="558.70,377.86 556.04,383.18 561.36,383.18" fill="#DDA0DD"/>
<polygon points="565.48,370.24 562.82,375.56 568.14,375.56" fill="#DDA0DD"/>
<polygon points="572.26,362.38 569.60,367.70 574.92,367.70" fill="#DDA0DD"/>
<polygon points="579.04,355.14 576.38,360.46 581.70,360.46" fill="#DDA0DD"/>
<polygon points="585.82,349.53 583.16,354.85 588.48,354.85" fill="#DDA0DD"/>
<polygon points="592.60,345.16 589.94,350.48 595.26,350.48" fill="#DDA0DD"/>
<polygon points="599.38,342.41 596.72,347.73 602.04,347.73" fill="#DDA0DD"/>
<polygon points="606.16,340.92 603.50,346.24 608.82,346.24" fill="#DDA0DD"/>
<polygon points="612.94,340.04 610.28,345.36 615.60,345.36" fill="#DDA0DD"/>
<polygon points="619.72,340.54 617.06,345.86 622.38,345.86" fill="#DDA0DD"/>
<polygon points="626.50,341.44 623.84,346.76 629.16,346.76" fill="#DDA0DD"/>
<polygon points="633.28,342.54 630.62,347.86 635.94,347.86" fill="#DDA0DD"/>
<polygon points="640.06,343.59 637.40,348.91 642.72,348.91" fill="#DDA0DD"/>
<polygon points="646.84,344.66 644.18,349.98 649.50,349.98" fill="#DDA0DD"/>
<polygon points="653.62,345.76 650.96,351.08 656.28,351.08" fill="#DDA0DD"/>
<polygon points="660.40,346.78 657.74,352.10 663.06,352.10" fill="#DDA0DD"/>
<polygon points="667.18,347.64 664.52,352.96 669.84,352.96" fill="#DDA0DD"/>
<polygon points="673.96,348.40 671.30,353.72 676.62,353.72" fill="#DDA0DD"/>
<polygon points="680.74,349.15 678.08,354.47 683.40,354.47" fill="#DDA0DD"/>
<polygon points="687.52,349.86 684.86,355.18 690.18,355.18" fill="#DDA0DD"/>
<polygon points="694.30,350.55 691.64,355.87 696.96,355.87" fill="#DDA0DD"/>
<polygon points="701.08,351.28 698.42,356.60 703.74,356.60" fill="#DDA0DD"/>
<polygon points="707.86,352.06 705.20,357.38 710.52,357.38" fill="#DDA0DD"/>
<polygon points="714.64,352.90 711.98,358.22 717.30,358.22" fill="#DDA0DD"/>
<polygon points="721.42,353.77 718.76,359.09 724.08,359.09" fill="#DDA0DD"/>
<polyline points="457.00,350.57 463.78,349.07 470.56,345.57 477.34,342.45 484.12,341.08 490.90,342.70 497.68,347.45 504.46,354.56 511.24,363.05 518.02,371.28 524.80,376.90 531.58,380.14 538.36,379.02 545.14,374.90 551.92,369.29 558.70,363.67 565.48,357.80 572.26,352.56 579.04,347.82 585.82,344.33 592.60,341.95 599.38,340.83 606.16,340.33 612.94,340.83 619.72,341.83 626.50,342.93 633.28,344.08 640.06,345.25 646.84,346.45 653.62,347.67 660.40,348.82 667.18,349.77 673.96,350.63 680.74,351.44 687.52,352.20 694.30,352.92 701.08,353.69 707.86,354.51 714.64,355.40 721.42,356.31" fill="none" stroke="#9370DB" stroke-width="1.15" stroke-linejoin="round"/>
<polygon points="457.00,348.38 456.51,349.89 454.92,349.89 456.21,350.82 455.72,352.33 457.00,351.40 458.28,352.33 457.79,350.82 459.08,349.89 457.49,349.89" fill="#9370DB" stroke="#9370DB" stroke-width="1.25" stroke-linejoin="round"/>
<polygon points="463.78,346.88 463.29,348.39 461.70,348.39 462.99,349.33 462.50,350.83 463.78,349.90 465.06,350.83 464.57,349.33 465.86,348.39 464.27,348.39" fill="#9370DB" stroke="#9370DB" stroke-width="1.25" stroke-linejoin="round"/>
<polygon points="470.56,343.39 470.07,344.90 468.48,344.90 469.77,345.83 469.28,347.34 470.56,346.41 471.84,347.34 471.35,345.83 472.64,344.90 471.05,344.90" fill="#9370DB" stroke="#9370DB" stroke-width="1.25" stroke-linejoin="round"/>
<polygon points="477.34,340.27 476.85,341.78 475.26,341.78 476.55,342.71 476.06,344.22 477.34,343.29 478.62,344.22 478.13,342.71 479.42,341.78 477.83,341.78" fill="#9370DB" stroke="#9370DB" stroke-width="1.25" stroke-linejoin="round"/>
<polygon points="484.12,338.90 483.63,340.41 482.04,340.41 483.33,341.34 482.84,342.85 484.12,341.92 485.40,342.85 484.91,341.34 486.20,340.41 484.61,340.41" fill="#9370DB" stroke="#9370DB" stroke-width="1.25" stroke-linejoin="round"/>
<polygon points="490.90,340.52 490.41,342.03 488.82,342.03 490.11,342.96 489.62,344.47 490.90,343.54 492.18,344.47 491.69,342.96 492.98,342.03 491.39,342.03" fill="#9370DB" stroke="#9370DB" stroke-width="1.25" stroke-linejoin="round"/>
<polygon points="497.68,345.26 497.19,346.77 495.60,346.77 496.89,347.70 496.40,349.21 497.68,348.28 498.96,349.21 498.47,347.70 499.76,346.77 498.17,346.77" fill="#9370DB" stroke="#9370DB" stroke-width="1.25" stroke-linejoin="round"/>
<polygon points="504.46,352.38 503.97,353.88 502.38,353.88 503.67,354.82 503.18,356.33 504.46,355.39 505.74,356.33 505.25,354.82 506.54,353.88 504.95,353.88" fill="#9370DB" stroke="#9370DB" stroke-width="1.25" stroke-linejoin="round"/>
<polygon points="511.24,360.86 510.75,362.37 509.16,362.37 510.45,363.30 509.96,364.81 511.24,363.88 512.52,364.81 512.03,363.30 513.32,362.37 511.73,362.37" fill="#9370DB" stroke="#9370DB" stroke-width="1.25" stroke-linejoin="round"/>
<polygon points="518.02,369.10 517.53,370.61 515.94,370.61 517.23,371.54 516.74,373.05 518.02,372.12 519.30,373.05 518.81,371.54 520.10,370.61 518.51,370.61" fill="#9370DB" stroke="#9370DB" stroke-width="1.25" stroke-linejoin="round"/>
<polygon points="524.80,374.71 524.31,376.22 522.72,376.22 524.01,377.16 523.52,378.67 524.80,377.73 526.08,378.67 525.59,377.16 526.88,376.22 525.29,376.22" fill="#9370DB" stroke="#9370DB" stroke-width="1.25" stroke-linejoin="round"/>
<polygon points="531.58,377.96 531.09,379.47 529.50,379.47 530.79,380.40 530.30,381.91 531.58,380.98 532.86,381.91 532.37,380.40 533.66,379.47 532.07,379.47" fill="#9370DB" stroke="#9370DB" stroke-width="1.25" stroke-linejoin="round"/>
<polygon points="538.36,376.84 537.87,378.35 536.28,378.35 537.57,379.28 537.08,380.79 538.36,379.85 539.64,380.79 539.15,379.28 540.44,378.35 538.85,378.35" fill="#9370DB" stroke="#9370DB" stroke-width="1.25" stroke-linejoin="round"/>
<polygon points="545.14,372.72 544.65,374.23 543.06,374.23 544.35,375.16 543.86,376.67 545.14,375.74 546.42,376.67 545.93,375.16 547.22,374.23 545.63,374.23" fill="#9370DB" stroke="#9370DB" stroke-width="1.25" stroke-linejoin="round"/>
<polygon points="551.92,367.10 551.43,368.61 549.84,368.61 551.13,369.54 550.64,371.05 551.92,370.12 553.20,371.05 552.71,369.54 554.00,368.61 552.41,368.61" fill="#9370DB" stroke="#9370DB" stroke-width="1.25" stroke-linejoin="round"/>
<polygon points="558.70,361.49 558.21,362.99 556.62,362.99 557.91,363.93 557.42,365.44 558.70,364.50 559.98,365.44 559.49,363.93 560.78,362.99 559.19,362.99" fill="#9370DB" stroke="#9370DB" stroke-width="1.25" stroke-linejoin="round"/>
<polygon points="565.48,355.62 564.99,357.13 563.40,357.13 564.69,358.06 564.20,359.57 565.48,358.64 566.76,359.57 566.27,358.06 567.56,357.13 565.97,357.13" fill="#9370DB" stroke="#9370DB" stroke-width="1.25" stroke-linejoin="round"/>
<polygon points="572.26,350.38 571.77,351.89 570.18,351.89 571.47,352.82 570.98,354.33 572.26,353.40 573.54,354.33 573.05,352.82 574.34,351.89 572.75,351.89" fill="#9370DB" stroke="#9370DB" stroke-width="1.25" stroke-linejoin="round"/>
<polygon points="579.04,345.64 578.55,347.15 576.96,347.15 578.25,348.08 577.76,349.59 579.04,348.65 580.32,349.59 579.83,348.08 581.12,347.15 579.53,347.15" fill="#9370DB" stroke="#9370DB" stroke-width="1.25" stroke-linejoin="round"/>
<polygon points="585.82,342.14 585.33,343.65 583.74,343.65 585.03,344.58 584.54,346.09 585.82,345.16 587.10,346.09 586.61,344.58 587.90,343.65 586.31,343.65" fill="#9370DB" stroke="#9370DB" stroke-width="1.25" stroke-linejoin="round"/>
<polygon points="592.60,339.77 592.11,341.28 590.52,341.28 591.81,342.21 591.32,343.72 592.60,342.79 593.88,343.72 593.39,342.21 594.68,341.28 593.09,341.28" fill="#9370DB" stroke="#9370DB" stroke-width="1.25" stroke-linejoin="round"/>
<polygon points="599.38,338.65 598.89,340.16 597.30,340.16 598.59,341.09 598.10,342.60 599.38,341.67 600.66,342.60 600.17,341.09 601.46,340.16 599.87,340.16" fill="#9370DB" stroke="#9370DB" stroke-width="1.25" stroke-linejoin="round"/>
<polygon points="606.16,338.15 605.67,339.66 604.08,339.66 605.37,340.59 604.88,342.10 606.16,341.17 607.44,342.10 606.95,340.59 608.24,339.66 606.65,339.66" fill="#9370DB" stroke="#9370DB" stroke-width="1.25" stroke-linejoin="round"/>
<polygon points="612.94,338.65 612.45,340.16 610.86,340.16 612.15,341.09 611.66,342.60 612.94,341.67 614.22,342.60 613.73,341.09 615.02,340.16 613.43,340.16" fill="#9370DB" stroke="#9370DB" stroke-width="1.25" stroke-linejoin="round"/>
<polygon points="619.72,339.65 619.23,341.15 617.64,341.15 618.93,342.09 618.44,343.60 619.72,342.66 621.00,343.60 620.51,342.09 621.80,341.15 620.21,341.15" fill="#9370DB" stroke="#9370DB" stroke-width="1.25" stroke-linejoin="round"/>
<polygon points="626.50,340.74 626.01,342.25 624.42,342.25 625.71,343.19 625.22,344.69 626.50,343.76 627.78,344.69 627.29,343.19 628.58,342.25 626.99,342.25" fill="#9370DB" stroke="#9370DB" stroke-width="1.25" stroke-linejoin="round"/>
<polygon points="633.28,341.89 632.79,343.40 631.20,343.40 632.49,344.33 632.00,345.84 633.28,344.91 634.56,345.84 634.07,344.33 635.36,343.40 633.77,343.40" fill="#9370DB" stroke="#9370DB" stroke-width="1.25" stroke-linejoin="round"/>
<polygon points="640.06,343.07 639.57,344.57 637.98,344.57 639.27,345.51 638.78,347.02 640.06,346.08 641.34,347.02 640.85,345.51 642.14,344.57 640.55,344.57" fill="#9370DB" stroke="#9370DB" stroke-width="1.25" stroke-linejoin="round"/>
<polygon points="646.84,344.26 646.35,345.77 644.76,345.77 646.05,346.70 645.56,348.21 646.84,347.28 648.12,348.21 647.63,346.70 648.92,345.77 647.33,345.77" fill="#9370DB" stroke="#9370DB" stroke-width="1.25" stroke-linejoin="round"/>
<polygon points="653.62,345.49 653.13,347.00 651.54,347.00 652.83,347.93 652.34,349.44 653.62,348.50 654.90,349.44 654.41,347.93 655.70,347.00 654.11,347.00" fill="#9370DB" stroke="#9370DB" stroke-width="1.25" stroke-linejoin="round"/>
<polygon points="660.40,346.63 659.91,348.14 658.32,348.14 659.61,349.08 659.12,350.59 660.40,349.65 661.68,350.59 661.19,349.08 662.48,348.14 660.89,348.14" fill="#9370DB" stroke="#9370DB" stroke-width="1.25" stroke-linejoin="round"/>
<polygon points="667.18,347.58 666.69,349.09 665.10,349.09 666.39,350.02 665.90,351.53 667.18,350.60 668.46,351.53 667.97,350.02 669.26,349.09 667.67,349.09" fill="#9370DB" stroke="#9370DB" stroke-width="1.25" stroke-linejoin="round"/>
<polygon points="673.96,348.44 673.47,349.95 671.88,349.95 673.17,350.89 672.68,352.39 673.96,351.46 675.24,352.39 674.75,350.89 676.04,349.95 674.45,349.95" fill="#9370DB" stroke="#9370DB" stroke-width="1.25" stroke-linejoin="round"/>
<polygon points="680.74,349.26 680.25,350.76 678.66,350.76 679.95,351.70 679.46,353.21 680.74,352.27 682.02,353.21 681.53,351.70 682.82,350.76 681.23,350.76" fill="#9370DB" stroke="#9370DB" stroke-width="1.25" stroke-linejoin="round"/>
<polygon points="687.52,350.02 687.03,351.53 685.44,351.53 686.73,352.46 686.24,353.97 687.52,353.03 688.80,353.97 688.31,352.46 689.60,351.53 688.01,351.53" fill="#9370DB" stroke="#9370DB" stroke-width="1.25" stroke-linejoin="round"/>
<polygon points="694.30,350.74 693.81,352.25 692.22,352.25 693.51,353.18 693.02,354.69 694.30,353.76 695.58,354.69 695.09,353.18 696.38,352.25 694.79,352.25" fill="#9370DB" stroke="#9370DB" stroke-width="1.25" stroke-linejoin="round"/>
<polygon points="701.08,351.50 700.59,353.01 699.00,353.01 700.29,353.94 699.80,355.45 701.08,354.52 702.36,355.45 701.87,353.94 703.16,353.01 701.57,353.01" fill="#9370DB" stroke="#9370DB" stroke-width="1.25" stroke-linejoin="round"/>
<polygon points="707.86,352.33 707.37,353.83 705.78,353.83 707.07,354.77 706.58,356.28 707.86,355.34 709.14,356.28 708.65,354.77 709.94,353.83 708.35,353.83" fill="#9370DB" stroke="#9370DB" stroke-width="1.25" stroke-linejoin="round"/>
<polygon points="714.64,353.21 714.15,354.72 712.56,354.72 713.85,355.65 713.36,357.16 714.64,356.23 715.92,357.16 715.43,355.65 716.72,354.72 715.13,354.72" fill="#9370DB" stroke="#9370DB" stroke-width="1.25" stroke-linejoin="round"/>
<polygon points="721.42,354.12 720.93,355.63 719.34,355.63 720.63,356.56 720.14,358.07 721.42,357.14 722.70,358.07 722.21,356.56 723.50,355.63 721.91,355.63" fill="#9370DB" stroke="#9370DB" stroke-width="1.25" stroke-linejoin="round"/>
<polyline points="457.00,349.94 463.78,347.45 470.56,343.95 477.34,339.83 484.12,337.59 490.90,337.84 497.68,340.83 504.46,344.58 511.24,349.44 518.02,354.56 524.80,358.30 531.58,360.55 538.36,360.18 545.14,357.80 551.92,353.56 558.70,349.07 565.48,345.07 572.26,340.83 579.04,337.84 585.82,336.59 592.60,336.59 599.38,337.09 606.16,337.84 612.94,339.21 619.72,340.83 626.50,342.45 633.28,344.08 640.06,345.19 646.84,346.20 653.62,347.35 660.40,348.44 667.18,349.38 673.96,350.24 680.74,351.06 687.52,351.86 694.30,352.62 701.08,353.44 707.86,354.31 714.64,355.22 721.42,356.18" fill="none" stroke="#1E90FF" stroke-width="1.15" stroke-linejoin="round"/>
<polygon points="457.00,347.56 456.47,349.21 454.74,349.21 456.14,350.22 455.60,351.87 457.00,350.85 458.40,351.87 457.86,350.22 459.26,349.21 457.53,349.21" fill="#1E90FF" stroke="#1E90FF" stroke-width="1.25" stroke-linejoin="round"/>
<polygon points="463.78,345.07 463.25,346.71 461.52,346.71 462.92,347.73 462.38,349.37 463.78,348.35 465.18,349.37 464.64,347.73 466.04,346.71 464.31,346.71" fill="#1E90FF" stroke="#1E90FF" stroke-width="1.25" stroke-linejoin="round"/>
<polygon points="470.56,341.57 470.03,343.22 468.30,343.22 469.70,344.23 469.16,345.88 470.56,344.86 471.96,345.88 471.42,344.23 472.82,343.22 471.09,343.22" fill="#1E90FF" stroke="#1E90FF" stroke-width="1.25" stroke-linejoin="round"/>
<polygon points="477.34,337.45 476.81,339.10 475.08,339.10 476.48,340.11 475.94,341.76 477.34,340.74 478.74,341.76 478.20,340.11 479.60,339.10 477.87,339.10" fill="#1E90FF" stroke="#1E90FF" stroke-width="1.25" stroke-linejoin="round"/>
<polygon points="484.12,335.21 483.59,336.85 481.86,336.85 483.26,337.87 482.72,339.51 484.12,338.50 485.52,339.51 484.98,337.87 486.38,336.85 484.65,336.85" fill="#1E90FF" stroke="#1E90FF" stroke-width="1.25" stroke-linejoin="round"/>
<polygon points="490.90,335.46 490.37,337.10 488.64,337.10 490.04,338.12 489.50,339.76 490.90,338.75 492.30,339.76 491.76,338.12 493.16,337.10 491.43,337.10" fill="#1E90FF" stroke="#1E90FF" stroke-width="1.25" stroke-linejoin="round"/>
<polygon points="497.68,338.45 497.15,340.10 495.42,340.10 496.82,341.11 496.28,342.76 497.68,341.74 499.08,342.76 498.54,341.11 499.94,340.10 498.21,340.10" fill="#1E90FF" stroke="#1E90FF" stroke-width="1.25" stroke-linejoin="round"/>
<polygon points="504.46,342.20 503.93,343.84 502.20,343.84 503.60,344.86 503.06,346.50 504.46,345.48 505.86,346.50 505.32,344.86 506.72,343.84 504.99,343.84" fill="#1E90FF" stroke="#1E90FF" stroke-width="1.25" stroke-linejoin="round"/>
<polygon points="511.24,347.06 510.71,348.71 508.98,348.71 510.38,349.72 509.84,351.37 511.24,350.35 512.64,351.37 512.10,349.72 513.50,348.71 511.77,348.71" fill="#1E90FF" stroke="#1E90FF" stroke-width="1.25" stroke-linejoin="round"/>
<polygon points="518.02,352.18 517.49,353.82 515.76,353.82 517.16,354.84 516.62,356.48 518.02,355.47 519.42,356.48 518.88,354.84 520.28,353.82 518.55,353.82" fill="#1E90FF" stroke="#1E90FF" stroke-width="1.25" stroke-linejoin="round"/>
<polygon points="524.80,355.92 524.27,357.57 522.54,357.57 523.94,358.58 523.40,360.23 524.80,359.21 526.20,360.23 525.66,358.58 527.06,357.57 525.33,357.57" fill="#1E90FF" stroke="#1E90FF" stroke-width="1.25" stroke-linejoin="round"/>
<polygon points="531.58,358.17 531.05,359.81 529.32,359.81 530.72,360.83 530.18,362.48 531.58,361.46 532.98,362.48 532.44,360.83 533.84,359.81 532.11,359.81" fill="#1E90FF" stroke="#1E90FF" stroke-width="1.25" stroke-linejoin="round"/>
<polygon points="538.36,357.80 537.83,359.44 536.10,359.44 537.50,360.46 536.96,362.10 538.36,361.08 539.76,362.10 539.22,360.46 540.62,359.44 538.89,359.44" fill="#1E90FF" stroke="#1E90FF" stroke-width="1.25" stroke-linejoin="round"/>
<polygon points="545.14,355.42 544.61,357.07 542.88,357.07 544.28,358.08 543.74,359.73 545.14,358.71 546.54,359.73 546.00,358.08 547.40,357.07 545.67,357.07" fill="#1E90FF" stroke="#1E90FF" stroke-width="1.25" stroke-linejoin="round"/>
<polygon points="551.92,351.18 551.39,352.83 549.66,352.83 551.06,353.84 550.52,355.49 551.92,354.47 553.32,355.49 552.78,353.84 554.18,352.83 552.45,352.83" fill="#1E90FF" stroke="#1E90FF" stroke-width="1.25" stroke-linejoin="round"/>
<polygon points="558.70,346.69 558.17,348.33 556.44,348.33 557.84,349.35 557.30,350.99 558.70,349.98 560.10,350.99 559.56,349.35 560.96,348.33 559.23,348.33" fill="#1E90FF" stroke="#1E90FF" stroke-width="1.25" stroke-linejoin="round"/>
<polygon points="565.48,342.69 564.95,344.34 563.22,344.34 564.62,345.36 564.08,347.00 565.48,345.98 566.88,347.00 566.34,345.36 567.74,344.34 566.01,344.34" fill="#1E90FF" stroke="#1E90FF" stroke-width="1.25" stroke-linejoin="round"/>
<polygon points="572.26,338.45 571.73,340.10 570.00,340.10 571.40,341.11 570.86,342.76 572.26,341.74 573.66,342.76 573.12,341.11 574.52,340.10 572.79,340.10" fill="#1E90FF" stroke="#1E90FF" stroke-width="1.25" stroke-linejoin="round"/>
<polygon points="579.04,335.46 578.51,337.10 576.78,337.10 578.18,338.12 577.64,339.76 579.04,338.75 580.44,339.76 579.90,338.12 581.30,337.10 579.57,337.10" fill="#1E90FF" stroke="#1E90FF" stroke-width="1.25" stroke-linejoin="round"/>
<polygon points="585.82,334.21 585.29,335.85 583.56,335.85 584.96,336.87 584.42,338.51 585.82,337.50 587.22,338.51 586.68,336.87 588.08,335.85 586.35,335.85" fill="#1E90FF" stroke="#1E90FF" stroke-width="1.25" stroke-linejoin="round"/>
<polygon points="592.60,334.21 592.07,335.85 590.34,335.85 591.74,336.87 591.20,338.51 592.60,337.50 594.00,338.51 593.46,336.87 594.86,335.85 593.13,335.85" fill="#1E90FF" stroke="#1E90FF" stroke-width="1.25" stroke-linejoin="round"/>
<polygon points="599.38,334.71 598.85,336.35 597.12,336.35 598.52,337.37 597.98,339.01 599.38,338.00 600.78,339.01 600.24,337.37 601.64,336.35 599.91,336.35" fill="#1E90FF" stroke="#1E90FF" stroke-width="1.25" stroke-linejoin="round"/>
<polygon points="606.16,335.46 605.63,337.10 603.90,337.10 605.30,338.12 604.76,339.76 606.16,338.75 607.56,339.76 607.02,338.12 608.42,337.10 606.69,337.10" fill="#1E90FF" stroke="#1E90FF" stroke-width="1.25" stroke-linejoin="round"/>
<polygon points="612.94,336.83 612.41,338.47 610.68,338.47 612.08,339.49 611.54,341.13 612.94,340.12 614.34,341.13 613.80,339.49 615.20,338.47 613.47,338.47" fill="#1E90FF" stroke="#1E90FF" stroke-width="1.25" stroke-linejoin="round"/>
<polygon points="619.72,338.45 619.19,340.10 617.46,340.10 618.86,341.11 618.32,342.76 619.72,341.74 621.12,342.76 620.58,341.11 621.98,340.10 620.25,340.10" fill="#1E90FF" stroke="#1E90FF" stroke-width="1.25" stroke-linejoin="round"/>
<polygon points="626.50,340.07 625.97,341.72 624.24,341.72 625.64,342.73 625.10,344.38 626.50,343.36 627.90,344.38 627.36,342.73 628.76,341.72 627.03,341.72" fill="#1E90FF" stroke="#1E90FF" stroke-width="1.25" stroke-linejoin="round"/>
<polygon points="633.28,341.70 632.75,343.34 631.02,343.34 632.42,344.36 631.88,346.00 633.28,344.99 634.68,346.00 634.14,344.36 635.54,343.34 633.81,343.34" fill="#1E90FF" stroke="#1E90FF" stroke-width="1.25" stroke-linejoin="round"/>
<polygon points="640.06,342.81 639.53,344.45 637.80,344.45 639.20,345.47 638.66,347.11 640.06,346.10 641.46,347.11 640.92,345.47 642.32,344.45 640.59,344.45" fill="#1E90FF" stroke="#1E90FF" stroke-width="1.25" stroke-linejoin="round"/>
<polygon points="646.84,343.82 646.31,345.46 644.58,345.46 645.98,346.48 645.44,348.12 646.84,347.11 648.24,348.12 647.70,346.48 649.10,345.46 647.37,345.46" fill="#1E90FF" stroke="#1E90FF" stroke-width="1.25" stroke-linejoin="round"/>
<polygon points="653.62,344.97 653.09,346.61 651.36,346.61 652.76,347.63 652.22,349.27 653.62,348.25 655.02,349.27 654.48,347.63 655.88,346.61 654.15,346.61" fill="#1E90FF" stroke="#1E90FF" stroke-width="1.25" stroke-linejoin="round"/>
<polygon points="660.40,346.06 659.87,347.71 658.14,347.71 659.54,348.72 659.00,350.37 660.40,349.35 661.80,350.37 661.26,348.72 662.66,347.71 660.93,347.71" fill="#1E90FF" stroke="#1E90FF" stroke-width="1.25" stroke-linejoin="round"/>
<polygon points="667.18,347.00 666.65,348.64 664.92,348.64 666.32,349.66 665.78,351.31 667.18,350.29 668.58,351.31 668.04,349.66 669.44,348.64 667.71,348.64" fill="#1E90FF" stroke="#1E90FF" stroke-width="1.25" stroke-linejoin="round"/>
<polygon points="673.96,347.86 673.43,349.51 671.70,349.51 673.10,350.52 672.56,352.17 673.96,351.15 675.36,352.17 674.82,350.52 676.22,349.51 674.49,349.51" fill="#1E90FF" stroke="#1E90FF" stroke-width="1.25" stroke-linejoin="round"/>
<polygon points="680.74,348.68 680.21,350.33 678.48,350.33 679.88,351.35 679.34,352.99 680.74,351.97 682.14,352.99 681.60,351.35 683.00,350.33 681.27,350.33" fill="#1E90FF" stroke="#1E90FF" stroke-width="1.25" stroke-linejoin="round"/>
<polygon points="687.52,349.48 686.99,351.13 685.26,351.13 686.66,352.14 686.12,353.79 687.52,352.77 688.92,353.79 688.38,352.14 689.78,351.13 688.05,351.13" fill="#1E90FF" stroke="#1E90FF" stroke-width="1.25" stroke-linejoin="round"/>
<polygon points="694.30,350.24 693.77,351.89 692.04,351.89 693.44,352.91 692.90,354.55 694.30,353.53 695.70,354.55 695.16,352.91 696.56,351.89 694.83,351.89" fill="#1E90FF" stroke="#1E90FF" stroke-width="1.25" stroke-linejoin="round"/>
<polygon points="701.08,351.06 700.55,352.70 698.82,352.70 700.22,353.72 699.68,355.36 701.08,354.35 702.48,355.36 701.94,353.72 703.34,352.70 701.61,352.70" fill="#1E90FF" stroke="#1E90FF" stroke-width="1.25" stroke-linejoin="round"/>
<polygon points="707.86,351.93 707.33,353.57 705.60,353.57 707.00,354.59 706.46,356.24 707.86,355.22 709.26,356.24 708.72,354.59 710.12,353.57 708.39,353.57" fill="#1E90FF" stroke="#1E90FF" stroke-width="1.25" stroke-linejoin="round"/>
<polygon points="714.64,352.84 714.11,354.49 712.38,354.49 713.78,355.50 713.24,357.15 714.64,356.13 716.04,357.15 715.50,355.50 716.90,354.49 715.17,354.49" fill="#1E90FF" stroke="#1E90FF" stroke-width="1.25" stroke-linejoin="round"/>
<polygon points="721.42,353.80 720.89,355.45 719.16,355.45 720.56,356.46 720.02,358.11 721.42,357.09 722.82,358.11 722.28,356.46 723.68,355.45 721.95,355.45" fill="#1E90FF" stroke="#1E90FF" stroke-width="1.25" stroke-linejoin="round"/>
<polyline points="457.00,349.07 463.78,345.95 470.56,342.45 477.34,337.84 484.12,334.34 490.90,332.34 497.68,331.97 504.46,333.47 511.24,336.34 518.02,339.83 524.80,342.45 531.58,343.95 538.36,343.95 545.14,342.20 551.92,339.33 558.70,336.59 565.48,334.72 572.26,333.09 579.04,331.97 585.82,331.85 592.60,332.34 599.38,333.47 606.16,335.09 612.94,336.59 619.72,338.21 626.50,339.83 633.28,341.46 640.06,343.20 646.84,344.82 653.62,346.45 660.40,347.94 667.18,348.99 673.96,349.85 680.74,350.69 687.52,351.53 694.30,352.35 701.08,353.19 707.86,354.07 714.64,354.98 721.42,355.93" fill="none" stroke="#E9967A" stroke-width="1.15" stroke-linejoin="round"/>
<polygon points="457.00,346.88 456.51,348.39 454.92,348.39 456.21,349.33 455.72,350.83 457.00,349.90 458.28,350.83 457.79,349.33 459.08,348.39 457.49,348.39" fill="#E9967A" stroke="#E9967A" stroke-width="1.25" stroke-linejoin="round"/>
<polygon points="463.78,343.76 463.29,345.27 461.70,345.27 462.99,346.21 462.50,347.71 463.78,346.78 465.06,347.71 464.57,346.21 465.86,345.27 464.27,345.27" fill="#E9967A" stroke="#E9967A" stroke-width="1.25" stroke-linejoin="round"/>
<polygon points="470.56,340.27 470.07,341.78 468.48,341.78 469.77,342.71 469.28,344.22 470.56,343.29 471.84,344.22 471.35,342.71 472.64,341.78 471.05,341.78" fill="#E9967A" stroke="#E9967A" stroke-width="1.25" stroke-linejoin="round"/>
<polygon points="477.34,335.65 476.85,337.16 475.26,337.16 476.55,338.09 476.06,339.60 477.34,338.67 478.62,339.60 478.13,338.09 479.42,337.16 477.83,337.16" fill="#E9967A" stroke="#E9967A" stroke-width="1.25" stroke-linejoin="round"/>
<polygon points="484.12,332.16 483.63,333.67 482.04,333.67 483.33,334.60 482.84,336.11 484.12,335.18 485.40,336.11 484.91,334.60 486.20,333.67 484.61,333.67" fill="#E9967A" stroke="#E9967A" stroke-width="1.25" stroke-linejoin="round"/>
<polygon points="490.90,330.16 490.41,331.67 488.82,331.67 490.11,332.60 489.62,334.11 490.90,333.18 492.18,334.11 491.69,332.60 492.98,331.67 491.39,331.67" fill="#E9967A" stroke="#E9967A" stroke-width="1.25" stroke-linejoin="round"/>
<polygon points="497.68,329.79 497.19,331.30 495.60,331.30 496.89,332.23 496.40,333.74 497.68,332.80 498.96,333.74 498.47,332.23 499.76,331.30 498.17,331.30" fill="#E9967A" stroke="#E9967A" stroke-width="1.25" stroke-linejoin="round"/>
<polygon points="504.46,331.28 503.97,332.79 502.38,332.79 503.67,333.73 503.18,335.23 504.46,334.30 505.74,335.23 505.25,333.73 506.54,332.79 504.95,332.79" fill="#E9967A" stroke="#E9967A" stroke-width="1.25" stroke-linejoin="round"/>
<polygon points="511.24,334.15 510.75,335.66 509.16,335.66 510.45,336.60 509.96,338.11 511.24,337.17 512.52,338.11 512.03,336.60 513.32,335.66 511.73,335.66" fill="#E9967A" stroke="#E9967A" stroke-width="1.25" stroke-linejoin="round"/>
<polygon points="518.02,337.65 517.53,339.16 515.94,339.16 517.23,340.09 516.74,341.60 518.02,340.67 519.30,341.60 518.81,340.09 520.10,339.16 518.51,339.16" fill="#E9967A" stroke="#E9967A" stroke-width="1.25" stroke-linejoin="round"/>
<polygon points="524.80,340.27 524.31,341.78 522.72,341.78 524.01,342.71 523.52,344.22 524.80,343.29 526.08,344.22 525.59,342.71 526.88,341.78 525.29,341.78" fill="#E9967A" stroke="#E9967A" stroke-width="1.25" stroke-linejoin="round"/>
<polygon points="531.58,341.77 531.09,343.28 529.50,343.28 530.79,344.21 530.30,345.72 531.58,344.79 532.86,345.72 532.37,344.21 533.66,343.28 532.07,343.28" fill="#E9967A" stroke="#E9967A" stroke-width="1.25" stroke-linejoin="round"/>
<polygon points="538.36,341.77 537.87,343.28 536.28,343.28 537.57,344.21 537.08,345.72 538.36,344.79 539.64,345.72 539.15,344.21 540.44,343.28 538.85,343.28" fill="#E9967A" stroke="#E9967A" stroke-width="1.25" stroke-linejoin="round"/>
<polygon points="545.14,340.02 544.65,341.53 543.06,341.53 544.35,342.46 543.86,343.97 545.14,343.04 546.42,343.97 545.93,342.46 547.22,341.53 545.63,341.53" fill="#E9967A" stroke="#E9967A" stroke-width="1.25" stroke-linejoin="round"/>
<polygon points="551.92,337.15 551.43,338.66 549.84,338.66 551.13,339.59 550.64,341.10 551.92,340.17 553.20,341.10 552.71,339.59 554.00,338.66 552.41,338.66" fill="#E9967A" stroke="#E9967A" stroke-width="1.25" stroke-linejoin="round"/>
<polygon points="558.70,334.40 558.21,335.91 556.62,335.91 557.91,336.85 557.42,338.35 558.70,337.42 559.98,338.35 559.49,336.85 560.78,335.91 559.19,335.91" fill="#E9967A" stroke="#E9967A" stroke-width="1.25" stroke-linejoin="round"/>
<polygon points="565.48,332.53 564.99,334.04 563.40,334.04 564.69,334.97 564.20,336.48 565.48,335.55 566.76,336.48 566.27,334.97 567.56,334.04 565.97,334.04" fill="#E9967A" stroke="#E9967A" stroke-width="1.25" stroke-linejoin="round"/>
<polygon points="572.26,330.91 571.77,332.42 570.18,332.42 571.47,333.35 570.98,334.86 572.26,333.93 573.54,334.86 573.05,333.35 574.34,332.42 572.75,332.42" fill="#E9967A" stroke="#E9967A" stroke-width="1.25" stroke-linejoin="round"/>
<polygon points="579.04,329.79 578.55,331.30 576.96,331.30 578.25,332.23 577.76,333.74 579.04,332.80 580.32,333.74 579.83,332.23 581.12,331.30 579.53,331.30" fill="#E9967A" stroke="#E9967A" stroke-width="1.25" stroke-linejoin="round"/>
<polygon points="585.82,329.66 585.33,331.17 583.74,331.17 585.03,332.10 584.54,333.61 585.82,332.68 587.10,333.61 586.61,332.10 587.90,331.17 586.31,331.17" fill="#E9967A" stroke="#E9967A" stroke-width="1.25" stroke-linejoin="round"/>
<polygon points="592.60,330.16 592.11,331.67 590.52,331.67 591.81,332.60 591.32,334.11 592.60,333.18 593.88,334.11 593.39,332.60 594.68,331.67 593.09,331.67" fill="#E9967A" stroke="#E9967A" stroke-width="1.25" stroke-linejoin="round"/>
<polygon points="599.38,331.28 598.89,332.79 597.30,332.79 598.59,333.73 598.10,335.23 599.38,334.30 600.66,335.23 600.17,333.73 601.46,332.79 599.87,332.79" fill="#E9967A" stroke="#E9967A" stroke-width="1.25" stroke-linejoin="round"/>
<polygon points="606.16,332.91 605.67,334.42 604.08,334.42 605.37,335.35 604.88,336.86 606.16,335.92 607.44,336.86 606.95,335.35 608.24,334.42 606.65,334.42" fill="#E9967A" stroke="#E9967A" stroke-width="1.25" stroke-linejoin="round"/>
<polygon points="612.94,334.40 612.45,335.91 610.86,335.91 612.15,336.85 611.66,338.35 612.94,337.42 614.22,338.35 613.73,336.85 615.02,335.91 613.43,335.91" fill="#E9967A" stroke="#E9967A" stroke-width="1.25" stroke-linejoin="round"/>
<polygon points="619.72,336.03 619.23,337.54 617.64,337.54 618.93,338.47 618.44,339.98 619.72,339.04 621.00,339.98 620.51,338.47 621.80,337.54 620.21,337.54" fill="#E9967A" stroke="#E9967A" stroke-width="1.25" stroke-linejoin="round"/>
<polygon points="626.50,337.65 626.01,339.16 624.42,339.16 625.71,340.09 625.22,341.60 626.50,340.67 627.78,341.60 627.29,340.09 628.58,339.16 626.99,339.16" fill="#E9967A" stroke="#E9967A" stroke-width="1.25" stroke-linejoin="round"/>
<polygon points="633.28,339.27 632.79,340.78 631.20,340.78 632.49,341.71 632.00,343.22 633.28,342.29 634.56,343.22 634.07,341.71 635.36,340.78 633.77,340.78" fill="#E9967A" stroke="#E9967A" stroke-width="1.25" stroke-linejoin="round"/>
<polygon points="640.06,341.02 639.57,342.53 637.98,342.53 639.27,343.46 638.78,344.97 640.06,344.04 641.34,344.97 640.85,343.46 642.14,342.53 640.55,342.53" fill="#E9967A" stroke="#E9967A" stroke-width="1.25" stroke-linejoin="round"/>
<polygon points="646.84,342.64 646.35,344.15 644.76,344.15 646.05,345.08 645.56,346.59 646.84,345.66 648.12,346.59 647.63,345.08 648.92,344.15 647.33,344.15" fill="#E9967A" stroke="#E9967A" stroke-width="1.25" stroke-linejoin="round"/>
<polygon points="653.62,344.26 653.13,345.77 651.54,345.77 652.83,346.70 652.34,348.21 653.62,347.28 654.90,348.21 654.41,346.70 655.70,345.77 654.11,345.77" fill="#E9967A" stroke="#E9967A" stroke-width="1.25" stroke-linejoin="round"/>
<polygon points="660.40,345.76 659.91,347.27 658.32,347.27 659.61,348.20 659.12,349.71 660.40,348.78 661.68,349.71 661.19,348.20 662.48,347.27 660.89,347.27" fill="#E9967A" stroke="#E9967A" stroke-width="1.25" stroke-linejoin="round"/>
<polygon points="667.18,346.81 666.69,348.32 665.10,348.32 666.39,349.25 665.90,350.76 667.18,349.83 668.46,350.76 667.97,349.25 669.26,348.32 667.67,348.32" fill="#E9967A" stroke="#E9967A" stroke-width="1.25" stroke-linejoin="round"/>
<polygon points="673.96,347.67 673.47,349.18 671.88,349.18 673.17,350.11 672.68,351.62 673.96,350.69 675.24,351.62 674.75,350.11 676.04,349.18 674.45,349.18" fill="#E9967A" stroke="#E9967A" stroke-width="1.25" stroke-linejoin="round"/>
<polygon points="680.74,348.51 680.25,350.02 678.66,350.02 679.95,350.95 679.46,352.46 680.74,351.52 682.02,352.46 681.53,350.95 682.82,350.02 681.23,350.02" fill="#E9967A" stroke="#E9967A" stroke-width="1.25" stroke-linejoin="round"/>
<polygon points="687.52,349.34 687.03,350.85 685.44,350.85 686.73,351.78 686.24,353.29 687.52,352.36 688.80,353.29 688.31,351.78 689.60,350.85 688.01,350.85" fill="#E9967A" stroke="#E9967A" stroke-width="1.25" stroke-linejoin="round"/>
<polygon points="694.30,350.17 693.81,351.68 692.22,351.68 693.51,352.61 693.02,354.12 694.30,353.18 695.58,354.12 695.09,352.61 696.38,351.68 694.79,351.68" fill="#E9967A" stroke="#E9967A" stroke-width="1.25" stroke-linejoin="round"/>
<polygon points="701.08,351.00 700.59,352.51 699.00,352.51 700.29,353.44 699.80,354.95 701.08,354.02 702.36,354.95 701.87,353.44 703.16,352.51 701.57,352.51" fill="#E9967A" stroke="#E9967A" stroke-width="1.25" stroke-linejoin="round"/>
<polygon points="707.86,351.89 707.37,353.40 705.78,353.40 707.07,354.33 706.58,355.84 707.86,354.91 709.14,355.84 708.65,354.33 709.94,353.40 708.35,353.40" fill="#E9967A" stroke="#E9967A" stroke-width="1.25" stroke-linejoin="round"/>
<polygon points="714.64,352.80 714.15,354.31 712.56,354.31 713.85,355.24 713.36,356.75 714.64,355.82 715.92,356.75 715.43,355.24 716.72,354.31 715.13,354.31" fill="#E9967A" stroke="#E9967A" stroke-width="1.25" stroke-linejoin="round"/>
<polygon points="721.42,353.75 720.93,355.26 719.34,355.26 720.63,356.19 720.14,357.70 721.42,356.77 722.70,357.70 722.21,356.19 723.50,355.26 721.91,355.26" fill="#E9967A" stroke="#E9967A" stroke-width="1.25" stroke-linejoin="round"/>
</g>
<line x1="457.20" y1="360.30" x2="728.30" y2="360.30" stroke="#111" stroke-width="1.3" stroke-dasharray="4.1,2.4"/>
<rect x="457.20" y="322.30" width="271.10" height="215.00" fill="none" stroke="#444" stroke-width="1.1"/>
<line x1="457.00" y1="537.30" x2="457.00" y2="540.30" stroke="#444" stroke-width="0.9"/>
<text x="457.00" y="553.30" text-anchor="middle" font-family='"Liberation Serif", serif' font-size="14.4" fill="#111">0</text>
<line x1="490.90" y1="537.30" x2="490.90" y2="540.30" stroke="#444" stroke-width="0.9"/>
<text x="490.90" y="553.30" text-anchor="middle" font-family='"Liberation Serif", serif' font-size="14.4" fill="#111">5</text>
<line x1="524.80" y1="537.30" x2="524.80" y2="540.30" stroke="#444" stroke-width="0.9"/>
<text x="524.80" y="553.30" text-anchor="middle" font-family='"Liberation Serif", serif' font-size="14.4" fill="#111">10</text>
<line x1="558.70" y1="537.30" x2="558.70" y2="540.30" stroke="#444" stroke-width="0.9"/>
<text x="558.70" y="553.30" text-anchor="middle" font-family='"Liberation Serif", serif' font-size="14.4" fill="#111">15</text>
<line x1="592.60" y1="537.30" x2="592.60" y2="540.30" stroke="#444" stroke-width="0.9"/>
<text x="592.60" y="553.30" text-anchor="middle" font-family='"Liberation Serif", serif' font-size="14.4" fill="#111">20</text>
<line x1="626.50" y1="537.30" x2="626.50" y2="540.30" stroke="#444" stroke-width="0.9"/>
<text x="626.50" y="553.30" text-anchor="middle" font-family='"Liberation Serif", serif' font-size="14.4" fill="#111">25</text>
<line x1="660.40" y1="537.30" x2="660.40" y2="540.30" stroke="#444" stroke-width="0.9"/>
<text x="660.40" y="553.30" text-anchor="middle" font-family='"Liberation Serif", serif' font-size="14.4" fill="#111">30</text>
<line x1="694.30" y1="537.30" x2="694.30" y2="540.30" stroke="#444" stroke-width="0.9"/>
<text x="694.30" y="553.30" text-anchor="middle" font-family='"Liberation Serif", serif' font-size="14.4" fill="#111">35</text>
<line x1="728.20" y1="537.30" x2="728.20" y2="540.30" stroke="#444" stroke-width="0.9"/>
<text x="728.20" y="553.30" text-anchor="middle" font-family='"Liberation Serif", serif' font-size="14.4" fill="#111">40</text>
<line x1="454.20" y1="335.34" x2="457.20" y2="335.34" stroke="#444" stroke-width="0.9"/>
<text x="451.20" y="340.24" text-anchor="end" font-family='"Liberation Serif", serif' font-size="14.4" fill="#111">0.2</text>
<line x1="454.20" y1="360.30" x2="457.20" y2="360.30" stroke="#444" stroke-width="0.9"/>
<text x="451.20" y="365.20" text-anchor="end" font-family='"Liberation Serif", serif' font-size="14.4" fill="#111">0.0</text>
<line x1="454.20" y1="385.26" x2="457.20" y2="385.26" stroke="#444" stroke-width="0.9"/>
<text x="451.20" y="390.16" text-anchor="end" font-family='"Liberation Serif", serif' font-size="14.4" fill="#111">−0.2</text>
<line x1="454.20" y1="410.22" x2="457.20" y2="410.22" stroke="#444" stroke-width="0.9"/>
<text x="451.20" y="415.12" text-anchor="end" font-family='"Liberation Serif", serif' font-size="14.4" fill="#111">−0.4</text>
<line x1="454.20" y1="435.18" x2="457.20" y2="435.18" stroke="#444" stroke-width="0.9"/>
<text x="451.20" y="440.08" text-anchor="end" font-family='"Liberation Serif", serif' font-size="14.4" fill="#111">−0.6</text>
<line x1="454.20" y1="460.14" x2="457.20" y2="460.14" stroke="#444" stroke-width="0.9"/>
<text x="451.20" y="465.04" text-anchor="end" font-family='"Liberation Serif", serif' font-size="14.4" fill="#111">−0.8</text>
<line x1="454.20" y1="485.10" x2="457.20" y2="485.10" stroke="#444" stroke-width="0.9"/>
<text x="451.20" y="490.00" text-anchor="end" font-family='"Liberation Serif", serif' font-size="14.4" fill="#111">−1.0</text>
<line x1="454.20" y1="510.06" x2="457.20" y2="510.06" stroke="#444" stroke-width="0.9"/>
<text x="451.20" y="514.96" text-anchor="end" font-family='"Liberation Serif", serif' font-size="14.4" fill="#111">−1.2</text>
<line x1="454.20" y1="535.02" x2="457.20" y2="535.02" stroke="#444" stroke-width="0.9"/>
<text x="451.20" y="539.92" text-anchor="end" font-family='"Liberation Serif", serif' font-size="14.4" fill="#111">−1.4</text>
<rect x="660.30" y="365.90" width="68.40" height="160.30" rx="1.5" fill="#fff" fill-opacity="0.85" stroke="#d0d0d0" stroke-width="0.8"/>
<line x1="662.60" y1="374.50" x2="683.60" y2="374.50" stroke="#FF7F50" stroke-width="1.4"/>
<circle cx="673.10" cy="374.50" r="2.90" fill="#FF7F50"/>
<text x="691.8" y="378.1" font-family='"Liberation Serif", serif' font-size="10.0" fill="#111"><tspan font-style="italic" font-size="11.2">β</tspan><tspan font-size="8.0" dy="2.4">1</tspan><tspan dy="-2.4"> = 0.0</tspan></text>
<line x1="662.60" y1="392.10" x2="683.60" y2="392.10" stroke="#FF0000" stroke-width="1.4"/>
<circle cx="673.10" cy="392.10" r="2.90" fill="#FF0000"/>
<text x="691.8" y="395.7" font-family='"Liberation Serif", serif' font-size="10.0" fill="#111"><tspan font-style="italic" font-size="11.2">β</tspan><tspan font-size="8.0" dy="2.4">1</tspan><tspan dy="-2.4"> =0.1</tspan></text>
<line x1="662.60" y1="409.70" x2="683.60" y2="409.70" stroke="#6B8E23" stroke-width="1.4"/>
<circle cx="673.10" cy="409.70" r="2.90" fill="#6B8E23"/>
<text x="691.8" y="413.3" font-family='"Liberation Serif", serif' font-size="10.0" fill="#111"><tspan font-style="italic" font-size="11.2">β</tspan><tspan font-size="8.0" dy="2.4">1</tspan><tspan dy="-2.4"> =0.2</tspan></text>
<line x1="662.60" y1="427.30" x2="683.60" y2="427.30" stroke="#D2691E" stroke-width="1.4"/>
<polygon points="673.10,424.60 670.40,430.00 675.80,430.00" fill="#D2691E"/>
<text x="691.8" y="430.9" font-family='"Liberation Serif", serif' font-size="10.0" fill="#111"><tspan font-style="italic" font-size="11.2">β</tspan><tspan font-size="8.0" dy="2.4">1</tspan><tspan dy="-2.4"> =0.3</tspan></text>
<line x1="662.60" y1="444.90" x2="683.60" y2="444.90" stroke="#6A5ACD" stroke-width="1.4"/>
<polygon points="673.10,442.20 670.40,447.60 675.80,447.60" fill="#6A5ACD"/>
<text x="691.8" y="448.5" font-family='"Liberation Serif", serif' font-size="10.0" fill="#111"><tspan font-style="italic" font-size="11.2">β</tspan><tspan font-size="8.0" dy="2.4">1</tspan><tspan dy="-2.4"> =0.4</tspan></text>
<line x1="662.60" y1="462.50" x2="683.60" y2="462.50" stroke="#DDA0DD" stroke-width="1.4"/>
<polygon points="673.10,459.80 670.40,465.20 675.80,465.20" fill="#DDA0DD"/>
<text x="691.8" y="466.1" font-family='"Liberation Serif", serif' font-size="10.0" fill="#111"><tspan font-style="italic" font-size="11.2">β</tspan><tspan font-size="8.0" dy="2.4">1</tspan><tspan dy="-2.4"> =0.5</tspan></text>
<line x1="662.60" y1="480.10" x2="683.60" y2="480.10" stroke="#9370DB" stroke-width="1.4"/>
<polygon points="673.10,477.80 672.58,479.39 670.91,479.39 672.26,480.37 671.75,481.96 673.10,480.98 674.45,481.96 673.94,480.37 675.29,479.39 673.62,479.39" fill="#9370DB" stroke="#9370DB" stroke-width="1.25" stroke-linejoin="round"/>
<text x="691.8" y="483.7" font-family='"Liberation Serif", serif' font-size="10.0" fill="#111"><tspan font-style="italic" font-size="11.2">β</tspan><tspan font-size="8.0" dy="2.4">1</tspan><tspan dy="-2.4"> =0.6</tspan></text>
<line x1="662.60" y1="497.70" x2="683.60" y2="497.70" stroke="#1E90FF" stroke-width="1.4"/>
<polygon points="673.10,495.40 672.58,496.99 670.91,496.99 672.26,497.97 671.75,499.56 673.10,498.58 674.45,499.56 673.94,497.97 675.29,496.99 673.62,496.99" fill="#1E90FF" stroke="#1E90FF" stroke-width="1.25" stroke-linejoin="round"/>
<text x="691.8" y="501.3" font-family='"Liberation Serif", serif' font-size="10.0" fill="#111"><tspan font-style="italic" font-size="11.2">β</tspan><tspan font-size="8.0" dy="2.4">1</tspan><tspan dy="-2.4"> =0.7</tspan></text>
<line x1="662.60" y1="515.30" x2="683.60" y2="515.30" stroke="#E9967A" stroke-width="1.4"/>
<polygon points="673.10,513.00 672.58,514.59 670.91,514.59 672.26,515.57 671.75,517.16 673.10,516.18 674.45,517.16 673.94,515.57 675.29,514.59 673.62,514.59" fill="#E9967A" stroke="#E9967A" stroke-width="1.25" stroke-linejoin="round"/>
<text x="691.8" y="518.9" font-family='"Liberation Serif", serif' font-size="10.0" fill="#111"><tspan font-style="italic" font-size="11.2">β</tspan><tspan font-size="8.0" dy="2.4">1</tspan><tspan dy="-2.4"> =0.8</tspan></text>
<text x="525.0" y="336.0" font-family='"Liberation Serif", serif' font-size="14.4" fill="#111">stable</text>
<text x="593.0" y="486.0" font-family='"Liberation Serif", serif' font-size="14.4" fill="#111">unstable</text>
<text x="592.75" y="570.20" text-anchor="middle" font-family='"Liberation Serif", serif' font-weight="bold" font-size="14.4" fill="#111">Space headway (m)</text>
<text transform="translate(419.00,431.50) rotate(-90)" text-anchor="middle" font-family='"Liberation Serif", serif' font-weight="bold" font-size="14.4" fill="#111">Stability</text>
<text x="580.1" y="597.1" text-anchor="middle" font-family='"Liberation Serif", serif' font-size="16" fill="#111">(<tspan font-weight="bold">d</tspan>)</text>
<clipPath id="clipe"><rect x="63.50" y="626.40" width="273.70" height="212.60"/></clipPath>
<g clip-path="url(#clipe)">
<polyline points="63.50,801.26 77.19,761.56 90.87,733.20 104.56,713.81 118.24,699.16 131.93,688.29 145.61,680.02 159.29,673.16 172.98,668.91 186.66,664.65 200.35,661.82 214.03,659.14 227.72,656.85 241.40,655.09 255.09,653.59 268.77,652.46 282.46,651.56 296.14,650.74 309.83,650.05 323.51,649.55 337.20,649.29" fill="none" stroke="#FF7F50" stroke-width="1.30" stroke-linejoin="round"/>
<circle cx="63.50" cy="801.26" r="2.70" fill="#FF7F50"/>
<circle cx="77.19" cy="761.56" r="2.70" fill="#FF7F50"/>
<circle cx="90.87" cy="733.20" r="2.70" fill="#FF7F50"/>
<circle cx="104.56" cy="713.81" r="2.70" fill="#FF7F50"/>
<circle cx="118.24" cy="699.16" r="2.70" fill="#FF7F50"/>
<circle cx="131.93" cy="688.29" r="2.70" fill="#FF7F50"/>
<circle cx="145.61" cy="680.02" r="2.70" fill="#FF7F50"/>
<circle cx="159.29" cy="673.16" r="2.70" fill="#FF7F50"/>
<circle cx="172.98" cy="668.91" r="2.70" fill="#FF7F50"/>
<circle cx="186.66" cy="664.65" r="2.70" fill="#FF7F50"/>
<circle cx="200.35" cy="661.82" r="2.70" fill="#FF7F50"/>
<circle cx="214.03" cy="659.14" r="2.70" fill="#FF7F50"/>
<circle cx="227.72" cy="656.85" r="2.70" fill="#FF7F50"/>
<circle cx="241.40" cy="655.09" r="2.70" fill="#FF7F50"/>
<circle cx="255.09" cy="653.59" r="2.70" fill="#FF7F50"/>
<circle cx="268.77" cy="652.46" r="2.70" fill="#FF7F50"/>
<circle cx="282.46" cy="651.56" r="2.70" fill="#FF7F50"/>
<circle cx="296.14" cy="650.74" r="2.70" fill="#FF7F50"/>
<circle cx="309.83" cy="650.05" r="2.70" fill="#FF7F50"/>
<circle cx="323.51" cy="649.55" r="2.70" fill="#FF7F50"/>
<circle cx="337.20" cy="649.29" r="2.70" fill="#FF7F50"/>
<polyline points="63.50,781.41 77.19,745.49 90.87,721.38 104.56,704.36 118.24,691.36 131.93,682.38 145.61,675.05 159.29,669.85 172.98,666.07 186.66,662.29 200.35,659.45 214.03,657.24 227.72,655.44 241.40,653.94 255.09,652.64 268.77,651.65 282.46,650.87 296.14,650.14 309.83,649.53 323.51,649.07 337.20,648.82" fill="none" stroke="#FF0000" stroke-width="1.30" stroke-linejoin="round"/>
<circle cx="63.50" cy="781.41" r="2.70" fill="#FF0000"/>
<circle cx="77.19" cy="745.49" r="2.70" fill="#FF0000"/>
<circle cx="90.87" cy="721.38" r="2.70" fill="#FF0000"/>
<circle cx="104.56" cy="704.36" r="2.70" fill="#FF0000"/>
<circle cx="118.24" cy="691.36" r="2.70" fill="#FF0000"/>
<circle cx="131.93" cy="682.38" r="2.70" fill="#FF0000"/>
<circle cx="145.61" cy="675.05" r="2.70" fill="#FF0000"/>
<circle cx="159.29" cy="669.85" r="2.70" fill="#FF0000"/>
<circle cx="172.98" cy="666.07" r="2.70" fill="#FF0000"/>
<circle cx="186.66" cy="662.29" r="2.70" fill="#FF0000"/>
<circle cx="200.35" cy="659.45" r="2.70" fill="#FF0000"/>
<circle cx="214.03" cy="657.24" r="2.70" fill="#FF0000"/>
<circle cx="227.72" cy="655.44" r="2.70" fill="#FF0000"/>
<circle cx="241.40" cy="653.94" r="2.70" fill="#FF0000"/>
<circle cx="255.09" cy="652.64" r="2.70" fill="#FF0000"/>
<circle cx="268.77" cy="651.65" r="2.70" fill="#FF0000"/>
<circle cx="282.46" cy="650.87" r="2.70" fill="#FF0000"/>
<circle cx="296.14" cy="650.14" r="2.70" fill="#FF0000"/>
<circle cx="309.83" cy="649.53" r="2.70" fill="#FF0000"/>
<circle cx="323.51" cy="649.07" r="2.70" fill="#FF0000"/>
<circle cx="337.20" cy="648.82" r="2.70" fill="#FF0000"/>
<polyline points="63.50,760.61 77.19,729.89 90.87,709.56 104.56,694.91 118.24,684.03 131.93,676.23 145.61,670.33 159.29,666.07 172.98,662.29 186.66,659.45 200.35,657.33 214.03,655.66 227.72,654.25 241.40,652.98 255.09,651.84 268.77,650.95 282.46,650.23 296.14,649.58 309.83,649.02 323.51,648.60 337.20,648.35" fill="none" stroke="#6B8E23" stroke-width="1.30" stroke-linejoin="round"/>
<circle cx="63.50" cy="760.61" r="2.70" fill="#6B8E23"/>
<circle cx="77.19" cy="729.89" r="2.70" fill="#6B8E23"/>
<circle cx="90.87" cy="709.56" r="2.70" fill="#6B8E23"/>
<circle cx="104.56" cy="694.91" r="2.70" fill="#6B8E23"/>
<circle cx="118.24" cy="684.03" r="2.70" fill="#6B8E23"/>
<circle cx="131.93" cy="676.23" r="2.70" fill="#6B8E23"/>
<circle cx="145.61" cy="670.33" r="2.70" fill="#6B8E23"/>
<circle cx="159.29" cy="666.07" r="2.70" fill="#6B8E23"/>
<circle cx="172.98" cy="662.29" r="2.70" fill="#6B8E23"/>
<circle cx="186.66" cy="659.45" r="2.70" fill="#6B8E23"/>
<circle cx="200.35" cy="657.33" r="2.70" fill="#6B8E23"/>
<circle cx="214.03" cy="655.66" r="2.70" fill="#6B8E23"/>
<circle cx="227.72" cy="654.25" r="2.70" fill="#6B8E23"/>
<circle cx="241.40" cy="652.98" r="2.70" fill="#6B8E23"/>
<circle cx="255.09" cy="651.84" r="2.70" fill="#6B8E23"/>
<circle cx="268.77" cy="650.95" r="2.70" fill="#6B8E23"/>
<circle cx="282.46" cy="650.23" r="2.70" fill="#6B8E23"/>
<circle cx="296.14" cy="649.58" r="2.70" fill="#6B8E23"/>
<circle cx="309.83" cy="649.02" r="2.70" fill="#6B8E23"/>
<circle cx="323.51" cy="648.60" r="2.70" fill="#6B8E23"/>
<circle cx="337.20" cy="648.35" r="2.70" fill="#6B8E23"/>
<polyline points="63.50,740.29 77.19,715.47 90.87,697.74 104.56,685.93 118.24,676.94 131.93,670.33 145.61,665.60 159.29,661.82 172.98,658.74 186.66,656.38 200.35,654.73 214.03,653.45 227.72,652.36 241.40,651.36 255.09,650.45 268.77,649.76 282.46,649.23 296.14,648.74 309.83,648.33 323.51,648.03 337.20,647.87" fill="none" stroke="#D2691E" stroke-width="1.30" stroke-linejoin="round"/>
<polygon points="63.50,737.59 60.80,742.99 66.20,742.99" fill="#D2691E"/>
<polygon points="77.19,712.77 74.49,718.17 79.89,718.17" fill="#D2691E"/>
<polygon points="90.87,695.04 88.17,700.44 93.57,700.44" fill="#D2691E"/>
<polygon points="104.56,683.23 101.86,688.63 107.26,688.63" fill="#D2691E"/>
<polygon points="118.24,674.24 115.54,679.64 120.94,679.64" fill="#D2691E"/>
<polygon points="131.93,667.63 129.23,673.03 134.62,673.03" fill="#D2691E"/>
<polygon points="145.61,662.90 142.91,668.30 148.31,668.30" fill="#D2691E"/>
<polygon points="159.29,659.12 156.59,664.52 161.99,664.52" fill="#D2691E"/>
<polygon points="172.98,656.04 170.28,661.44 175.68,661.44" fill="#D2691E"/>
<polygon points="186.66,653.68 183.96,659.08 189.36,659.08" fill="#D2691E"/>
<polygon points="200.35,652.03 197.65,657.43 203.05,657.43" fill="#D2691E"/>
<polygon points="214.03,650.75 211.34,656.15 216.73,656.15" fill="#D2691E"/>
<polygon points="227.72,649.66 225.02,655.06 230.42,655.06" fill="#D2691E"/>
<polygon points="241.40,648.66 238.70,654.06 244.10,654.06" fill="#D2691E"/>
<polygon points="255.09,647.75 252.39,653.15 257.79,653.15" fill="#D2691E"/>
<polygon points="268.77,647.06 266.07,652.46 271.47,652.46" fill="#D2691E"/>
<polygon points="282.46,646.53 279.76,651.93 285.16,651.93" fill="#D2691E"/>
<polygon points="296.14,646.04 293.44,651.44 298.84,651.44" fill="#D2691E"/>
<polygon points="309.83,645.63 307.13,651.03 312.53,651.03" fill="#D2691E"/>
<polygon points="323.51,645.33 320.81,650.73 326.21,650.73" fill="#D2691E"/>
<polygon points="337.20,645.17 334.50,650.57 339.90,650.57" fill="#D2691E"/>
<polyline points="63.50,720.90 77.19,700.11 90.87,686.40 104.56,676.47 118.24,669.85 131.93,664.18 145.61,660.87 159.29,657.56 172.98,655.20 186.66,653.31 200.35,652.13 214.03,651.23 227.72,650.47 241.40,649.75 255.09,649.09 268.77,648.58 282.46,648.18 296.14,647.83 309.83,647.52 323.51,647.29 337.20,647.16" fill="none" stroke="#6A5ACD" stroke-width="1.30" stroke-linejoin="round"/>
<polygon points="63.50,718.20 60.80,723.61 66.20,723.61" fill="#6A5ACD"/>
<polygon points="77.19,697.41 74.49,702.81 79.89,702.81" fill="#6A5ACD"/>
<polygon points="90.87,683.70 88.17,689.10 93.57,689.10" fill="#6A5ACD"/>
<polygon points="104.56,673.77 101.86,679.17 107.26,679.17" fill="#6A5ACD"/>
<polygon points="118.24,667.15 115.54,672.55 120.94,672.55" fill="#6A5ACD"/>
<polygon points="131.93,661.48 129.23,666.88 134.62,666.88" fill="#6A5ACD"/>
<polygon points="145.61,658.17 142.91,663.57 148.31,663.57" fill="#6A5ACD"/>
<polygon points="159.29,654.86 156.59,660.26 161.99,660.26" fill="#6A5ACD"/>
<polygon points="172.98,652.50 170.28,657.90 175.68,657.90" fill="#6A5ACD"/>
<polygon points="186.66,650.61 183.96,656.01 189.36,656.01" fill="#6A5ACD"/>
<polygon points="200.35,649.43 197.65,654.83 203.05,654.83" fill="#6A5ACD"/>
<polygon points="214.03,648.53 211.34,653.93 216.73,653.93" fill="#6A5ACD"/>
<polygon points="227.72,647.77 225.02,653.17 230.42,653.17" fill="#6A5ACD"/>
<polygon points="241.40,647.05 238.70,652.45 244.10,652.45" fill="#6A5ACD"/>
<polygon points="255.09,646.39 252.39,651.79 257.79,651.79" fill="#6A5ACD"/>
<polygon points="268.77,645.88 266.07,651.28 271.47,651.28" fill="#6A5ACD"/>
<polygon points="282.46,645.48 279.76,650.88 285.16,650.88" fill="#6A5ACD"/>
<polygon points="296.14,645.13 293.44,650.53 298.84,650.53" fill="#6A5ACD"/>
<polygon points="309.83,644.82 307.13,650.22 312.53,650.22" fill="#6A5ACD"/>
<polygon points="323.51,644.59 320.81,649.99 326.21,649.99" fill="#6A5ACD"/>
<polygon points="337.20,644.46 334.50,649.86 339.90,649.86" fill="#6A5ACD"/>
<polyline points="63.50,702.71 77.19,686.40 90.87,676.23 104.56,668.44 118.24,663.24 131.93,658.74 145.61,655.91 159.29,653.50 172.98,651.61 186.66,650.28 200.35,649.43 214.03,648.83 227.72,648.35 241.40,647.92 255.09,647.55 268.77,647.26 282.46,647.03 296.14,646.83 309.83,646.65 323.51,646.53 337.20,646.45" fill="none" stroke="#DDA0DD" stroke-width="1.30" stroke-linejoin="round"/>
<polygon points="63.50,700.01 60.80,705.41 66.20,705.41" fill="#DDA0DD"/>
<polygon points="77.19,683.70 74.49,689.10 79.89,689.10" fill="#DDA0DD"/>
<polygon points="90.87,673.53 88.17,678.93 93.57,678.93" fill="#DDA0DD"/>
<polygon points="104.56,665.74 101.86,671.14 107.26,671.14" fill="#DDA0DD"/>
<polygon points="118.24,660.54 115.54,665.94 120.94,665.94" fill="#DDA0DD"/>
<polygon points="131.93,656.04 129.23,661.44 134.62,661.44" fill="#DDA0DD"/>
<polygon points="145.61,653.21 142.91,658.61 148.31,658.61" fill="#DDA0DD"/>
<polygon points="159.29,650.80 156.59,656.20 161.99,656.20" fill="#DDA0DD"/>
<polygon points="172.98,648.91 170.28,654.31 175.68,654.31" fill="#DDA0DD"/>
<polygon points="186.66,647.58 183.96,652.98 189.36,652.98" fill="#DDA0DD"/>
<polygon points="200.35,646.73 197.65,652.13 203.05,652.13" fill="#DDA0DD"/>
<polygon points="214.03,646.13 211.34,651.53 216.73,651.53" fill="#DDA0DD"/>
<polygon points="227.72,645.65 225.02,651.05 230.42,651.05" fill="#DDA0DD"/>
<polygon points="241.40,645.22 238.70,650.62 244.10,650.62" fill="#DDA0DD"/>
<polygon points="255.09,644.85 252.39,650.25 257.79,650.25" fill="#DDA0DD"/>
<polygon points="268.77,644.56 266.07,649.96 271.47,649.96" fill="#DDA0DD"/>
<polygon points="282.46,644.33 279.76,649.73 285.16,649.73" fill="#DDA0DD"/>
<polygon points="296.14,644.13 293.44,649.53 298.84,649.53" fill="#DDA0DD"/>
<polygon points="309.83,643.95 307.13,649.35 312.53,649.35" fill="#DDA0DD"/>
<polygon points="323.51,643.83 320.81,649.23 326.21,649.23" fill="#DDA0DD"/>
<polygon points="337.20,643.75 334.50,649.15 339.90,649.15" fill="#DDA0DD"/>
<polyline points="63.50,685.22 77.19,673.16 90.87,666.07 104.56,660.40 118.24,656.38 131.93,653.50 145.61,651.61 159.29,649.91 172.98,648.44 186.66,647.40 200.35,646.93 214.03,646.58 227.72,646.31 241.40,646.10 255.09,645.93 268.77,645.84 282.46,645.81 296.14,645.78 309.83,645.76 323.51,645.75 337.20,645.75" fill="none" stroke="#9370DB" stroke-width="1.30" stroke-linejoin="round"/>
<polygon points="63.50,683.06 63.02,684.55 61.45,684.55 62.72,685.47 62.23,686.96 63.50,686.04 64.77,686.96 64.28,685.47 65.55,684.55 63.98,684.55" fill="#9370DB" stroke="#9370DB" stroke-width="1.25" stroke-linejoin="round"/>
<polygon points="77.19,671.00 76.70,672.49 75.13,672.49 76.40,673.42 75.92,674.91 77.19,673.99 78.45,674.91 77.97,673.42 79.24,672.49 77.67,672.49" fill="#9370DB" stroke="#9370DB" stroke-width="1.25" stroke-linejoin="round"/>
<polygon points="90.87,663.91 90.39,665.40 88.82,665.40 90.09,666.33 89.60,667.82 90.87,666.90 92.14,667.82 91.65,666.33 92.92,665.40 91.35,665.40" fill="#9370DB" stroke="#9370DB" stroke-width="1.25" stroke-linejoin="round"/>
<polygon points="104.56,658.24 104.07,659.73 102.50,659.73 103.77,660.65 103.29,662.15 104.56,661.22 105.82,662.15 105.34,660.65 106.61,659.73 105.04,659.73" fill="#9370DB" stroke="#9370DB" stroke-width="1.25" stroke-linejoin="round"/>
<polygon points="118.24,654.22 117.76,655.71 116.19,655.71 117.46,656.64 116.97,658.13 118.24,657.21 119.51,658.13 119.02,656.64 120.29,655.71 118.72,655.71" fill="#9370DB" stroke="#9370DB" stroke-width="1.25" stroke-linejoin="round"/>
<polygon points="131.93,651.34 131.44,652.83 129.87,652.83 131.14,653.75 130.66,655.25 131.93,654.32 133.19,655.25 132.71,653.75 133.98,652.83 132.41,652.83" fill="#9370DB" stroke="#9370DB" stroke-width="1.25" stroke-linejoin="round"/>
<polygon points="145.61,649.45 145.13,650.94 143.56,650.94 144.83,651.86 144.34,653.35 145.61,652.43 146.88,653.35 146.39,651.86 147.66,650.94 146.09,650.94" fill="#9370DB" stroke="#9370DB" stroke-width="1.25" stroke-linejoin="round"/>
<polygon points="159.29,647.75 158.81,649.24 157.24,649.24 158.51,650.16 158.03,651.65 159.29,650.73 160.56,651.65 160.08,650.16 161.35,649.24 159.78,649.24" fill="#9370DB" stroke="#9370DB" stroke-width="1.25" stroke-linejoin="round"/>
<polygon points="172.98,646.28 172.50,647.77 170.93,647.77 172.20,648.70 171.71,650.19 172.98,649.27 174.25,650.19 173.76,648.70 175.03,647.77 173.46,647.77" fill="#9370DB" stroke="#9370DB" stroke-width="1.25" stroke-linejoin="round"/>
<polygon points="186.66,645.24 186.18,646.73 184.61,646.73 185.88,647.66 185.40,649.15 186.66,648.23 187.93,649.15 187.45,647.66 188.72,646.73 187.15,646.73" fill="#9370DB" stroke="#9370DB" stroke-width="1.25" stroke-linejoin="round"/>
<polygon points="200.35,644.77 199.87,646.26 198.30,646.26 199.57,647.18 199.08,648.67 200.35,647.75 201.62,648.67 201.13,647.18 202.40,646.26 200.83,646.26" fill="#9370DB" stroke="#9370DB" stroke-width="1.25" stroke-linejoin="round"/>
<polygon points="214.03,644.42 213.55,645.91 211.98,645.91 213.25,646.83 212.77,648.33 214.03,647.40 215.30,648.33 214.82,646.83 216.09,645.91 214.52,645.91" fill="#9370DB" stroke="#9370DB" stroke-width="1.25" stroke-linejoin="round"/>
<polygon points="227.72,644.15 227.24,645.65 225.67,645.65 226.94,646.57 226.45,648.06 227.72,647.14 228.99,648.06 228.50,646.57 229.77,645.65 228.20,645.65" fill="#9370DB" stroke="#9370DB" stroke-width="1.25" stroke-linejoin="round"/>
<polygon points="241.40,643.94 240.92,645.44 239.35,645.44 240.62,646.36 240.14,647.85 241.40,646.93 242.67,647.85 242.19,646.36 243.46,645.44 241.89,645.44" fill="#9370DB" stroke="#9370DB" stroke-width="1.25" stroke-linejoin="round"/>
<polygon points="255.09,643.77 254.61,645.26 253.04,645.26 254.31,646.19 253.82,647.68 255.09,646.76 256.36,647.68 255.87,646.19 257.14,645.26 255.57,645.26" fill="#9370DB" stroke="#9370DB" stroke-width="1.25" stroke-linejoin="round"/>
<polygon points="268.77,643.68 268.29,645.17 266.72,645.17 267.99,646.10 267.51,647.59 268.77,646.67 270.04,647.59 269.56,646.10 270.83,645.17 269.26,645.17" fill="#9370DB" stroke="#9370DB" stroke-width="1.25" stroke-linejoin="round"/>
<polygon points="282.46,643.65 281.98,645.14 280.41,645.14 281.68,646.06 281.19,647.55 282.46,646.63 283.73,647.55 283.24,646.06 284.51,645.14 282.94,645.14" fill="#9370DB" stroke="#9370DB" stroke-width="1.25" stroke-linejoin="round"/>
<polygon points="296.14,643.62 295.66,645.11 294.09,645.11 295.36,646.03 294.88,647.53 296.14,646.60 297.41,647.53 296.93,646.03 298.20,645.11 296.63,645.11" fill="#9370DB" stroke="#9370DB" stroke-width="1.25" stroke-linejoin="round"/>
<polygon points="309.83,643.60 309.35,645.09 307.78,645.09 309.05,646.01 308.56,647.51 309.83,646.58 311.10,647.51 310.61,646.01 311.88,645.09 310.31,645.09" fill="#9370DB" stroke="#9370DB" stroke-width="1.25" stroke-linejoin="round"/>
<polygon points="323.51,643.59 323.03,645.08 321.46,645.08 322.73,646.01 322.25,647.50 323.51,646.58 324.78,647.50 324.30,646.01 325.57,645.08 324.00,645.08" fill="#9370DB" stroke="#9370DB" stroke-width="1.25" stroke-linejoin="round"/>
<polygon points="337.20,643.59 336.72,645.08 335.15,645.08 336.42,646.00 335.93,647.49 337.20,646.57 338.47,647.49 337.98,646.00 339.25,645.08 337.68,645.08" fill="#9370DB" stroke="#9370DB" stroke-width="1.25" stroke-linejoin="round"/>
<polyline points="63.50,669.62 77.19,662.29 90.87,657.09 104.56,653.50 118.24,651.09 131.93,649.05 145.61,647.92 159.29,646.69 172.98,645.98 186.66,645.51 200.35,645.27 214.03,645.05 227.72,644.89 241.40,644.84 255.09,644.81 268.77,644.80 282.46,644.81 296.14,644.84 309.83,644.89 323.51,644.95 337.20,645.04" fill="none" stroke="#1E90FF" stroke-width="1.30" stroke-linejoin="round"/>
<polygon points="63.50,667.32 62.98,668.91 61.32,668.91 62.67,669.89 62.15,671.47 63.50,670.49 64.85,671.47 64.33,669.89 65.68,668.91 64.02,668.91" fill="#1E90FF" stroke="#1E90FF" stroke-width="1.25" stroke-linejoin="round"/>
<polygon points="77.19,660.00 76.67,661.58 75.00,661.58 76.35,662.56 75.84,664.15 77.19,663.17 78.53,664.15 78.02,662.56 79.37,661.58 77.70,661.58" fill="#1E90FF" stroke="#1E90FF" stroke-width="1.25" stroke-linejoin="round"/>
<polygon points="90.87,654.80 90.35,656.38 88.69,656.38 90.04,657.36 89.52,658.95 90.87,657.97 92.22,658.95 91.70,657.36 93.05,656.38 91.39,656.38" fill="#1E90FF" stroke="#1E90FF" stroke-width="1.25" stroke-linejoin="round"/>
<polygon points="104.56,651.20 104.04,652.79 102.37,652.79 103.72,653.77 103.21,655.35 104.56,654.37 105.90,655.35 105.39,653.77 106.74,652.79 105.07,652.79" fill="#1E90FF" stroke="#1E90FF" stroke-width="1.25" stroke-linejoin="round"/>
<polygon points="118.24,648.79 117.72,650.38 116.06,650.38 117.41,651.36 116.89,652.94 118.24,651.96 119.59,652.94 119.07,651.36 120.42,650.38 118.76,650.38" fill="#1E90FF" stroke="#1E90FF" stroke-width="1.25" stroke-linejoin="round"/>
<polygon points="131.93,646.76 131.41,648.35 129.74,648.35 131.09,649.33 130.58,650.91 131.93,649.93 133.27,650.91 132.76,649.33 134.11,648.35 132.44,648.35" fill="#1E90FF" stroke="#1E90FF" stroke-width="1.25" stroke-linejoin="round"/>
<polygon points="145.61,645.63 145.09,647.21 143.43,647.21 144.78,648.19 144.26,649.78 145.61,648.80 146.96,649.78 146.44,648.19 147.79,647.21 146.13,647.21" fill="#1E90FF" stroke="#1E90FF" stroke-width="1.25" stroke-linejoin="round"/>
<polygon points="159.29,644.40 158.78,645.98 157.11,645.98 158.46,646.96 157.95,648.55 159.29,647.57 160.64,648.55 160.13,646.96 161.48,645.98 159.81,645.98" fill="#1E90FF" stroke="#1E90FF" stroke-width="1.25" stroke-linejoin="round"/>
<polygon points="172.98,643.69 172.46,645.27 170.80,645.27 172.15,646.25 171.63,647.84 172.98,646.86 174.33,647.84 173.81,646.25 175.16,645.27 173.50,645.27" fill="#1E90FF" stroke="#1E90FF" stroke-width="1.25" stroke-linejoin="round"/>
<polygon points="186.66,643.21 186.15,644.80 184.48,644.80 185.83,645.78 185.32,647.37 186.66,646.39 188.01,647.37 187.50,645.78 188.85,644.80 187.18,644.80" fill="#1E90FF" stroke="#1E90FF" stroke-width="1.25" stroke-linejoin="round"/>
<polygon points="200.35,642.98 199.83,644.56 198.17,644.56 199.52,645.54 199.00,647.13 200.35,646.15 201.70,647.13 201.18,645.54 202.53,644.56 200.87,644.56" fill="#1E90FF" stroke="#1E90FF" stroke-width="1.25" stroke-linejoin="round"/>
<polygon points="214.03,642.75 213.52,644.34 211.85,644.34 213.20,645.32 212.69,646.90 214.03,645.92 215.38,646.90 214.87,645.32 216.22,644.34 214.55,644.34" fill="#1E90FF" stroke="#1E90FF" stroke-width="1.25" stroke-linejoin="round"/>
<polygon points="227.72,642.60 227.20,644.19 225.54,644.19 226.89,645.17 226.37,646.75 227.72,645.77 229.07,646.75 228.55,645.17 229.90,644.19 228.24,644.19" fill="#1E90FF" stroke="#1E90FF" stroke-width="1.25" stroke-linejoin="round"/>
<polygon points="241.40,642.55 240.89,644.13 239.22,644.13 240.57,645.11 240.06,646.70 241.40,645.72 242.75,646.70 242.24,645.11 243.59,644.13 241.92,644.13" fill="#1E90FF" stroke="#1E90FF" stroke-width="1.25" stroke-linejoin="round"/>
<polygon points="255.09,642.52 254.57,644.11 252.91,644.11 254.26,645.09 253.74,646.67 255.09,645.69 256.44,646.67 255.92,645.09 257.27,644.11 255.61,644.11" fill="#1E90FF" stroke="#1E90FF" stroke-width="1.25" stroke-linejoin="round"/>
<polygon points="268.77,642.51 268.26,644.09 266.59,644.09 267.94,645.07 267.43,646.66 268.77,645.68 270.12,646.66 269.61,645.07 270.96,644.09 269.29,644.09" fill="#1E90FF" stroke="#1E90FF" stroke-width="1.25" stroke-linejoin="round"/>
<polygon points="282.46,642.51 281.94,644.10 280.28,644.10 281.63,645.08 281.11,646.67 282.46,645.69 283.81,646.67 283.29,645.08 284.64,644.10 282.98,644.10" fill="#1E90FF" stroke="#1E90FF" stroke-width="1.25" stroke-linejoin="round"/>
<polygon points="296.14,642.54 295.63,644.13 293.96,644.13 295.31,645.11 294.80,646.69 296.14,645.71 297.49,646.69 296.98,645.11 298.33,644.13 296.66,644.13" fill="#1E90FF" stroke="#1E90FF" stroke-width="1.25" stroke-linejoin="round"/>
<polygon points="309.83,642.59 309.31,644.18 307.65,644.18 309.00,645.16 308.48,646.74 309.83,645.76 311.18,646.74 310.66,645.16 312.01,644.18 310.35,644.18" fill="#1E90FF" stroke="#1E90FF" stroke-width="1.25" stroke-linejoin="round"/>
<polygon points="323.51,642.66 323.00,644.24 321.33,644.24 322.68,645.22 322.17,646.81 323.51,645.83 324.86,646.81 324.35,645.22 325.70,644.24 324.03,644.24" fill="#1E90FF" stroke="#1E90FF" stroke-width="1.25" stroke-linejoin="round"/>
<polygon points="337.20,642.74 336.68,644.33 335.02,644.33 336.37,645.31 335.85,646.89 337.20,645.91 338.55,646.89 338.03,645.31 339.38,644.33 337.72,644.33" fill="#1E90FF" stroke="#1E90FF" stroke-width="1.25" stroke-linejoin="round"/>
<polyline points="63.50,656.38 77.19,652.84 90.87,649.62 104.56,647.40 118.24,645.98 131.93,645.04 145.61,644.33 159.29,643.85 172.98,643.62 186.66,643.38 200.35,643.38 214.03,643.42 227.72,643.48 241.40,643.54 255.09,643.62 268.77,643.71 282.46,643.81 296.14,643.93 309.83,644.05 323.51,644.18 337.20,644.33" fill="none" stroke="#E9967A" stroke-width="1.30" stroke-linejoin="round"/>
<polygon points="63.50,654.22 63.02,655.71 61.45,655.71 62.72,656.64 62.23,658.13 63.50,657.21 64.77,658.13 64.28,656.64 65.55,655.71 63.98,655.71" fill="#E9967A" stroke="#E9967A" stroke-width="1.25" stroke-linejoin="round"/>
<polygon points="77.19,650.68 76.70,652.17 75.13,652.17 76.40,653.09 75.92,654.58 77.19,653.66 78.45,654.58 77.97,653.09 79.24,652.17 77.67,652.17" fill="#E9967A" stroke="#E9967A" stroke-width="1.25" stroke-linejoin="round"/>
<polygon points="90.87,647.46 90.39,648.95 88.82,648.95 90.09,649.88 89.60,651.37 90.87,650.45 92.14,651.37 91.65,649.88 92.92,648.95 91.35,648.95" fill="#E9967A" stroke="#E9967A" stroke-width="1.25" stroke-linejoin="round"/>
<polygon points="104.56,645.24 104.07,646.73 102.50,646.73 103.77,647.66 103.29,649.15 104.56,648.23 105.82,649.15 105.34,647.66 106.61,646.73 105.04,646.73" fill="#E9967A" stroke="#E9967A" stroke-width="1.25" stroke-linejoin="round"/>
<polygon points="118.24,643.82 117.76,645.31 116.19,645.31 117.46,646.24 116.97,647.73 118.24,646.81 119.51,647.73 119.02,646.24 120.29,645.31 118.72,645.31" fill="#E9967A" stroke="#E9967A" stroke-width="1.25" stroke-linejoin="round"/>
<polygon points="131.93,642.88 131.44,644.37 129.87,644.37 131.14,645.29 130.66,646.78 131.93,645.86 133.19,646.78 132.71,645.29 133.98,644.37 132.41,644.37" fill="#E9967A" stroke="#E9967A" stroke-width="1.25" stroke-linejoin="round"/>
<polygon points="145.61,642.17 145.13,643.66 143.56,643.66 144.83,644.58 144.34,646.08 145.61,645.15 146.88,646.08 146.39,644.58 147.66,643.66 146.09,643.66" fill="#E9967A" stroke="#E9967A" stroke-width="1.25" stroke-linejoin="round"/>
<polygon points="159.29,641.69 158.81,643.19 157.24,643.19 158.51,644.11 158.03,645.60 159.29,644.68 160.56,645.60 160.08,644.11 161.35,643.19 159.78,643.19" fill="#E9967A" stroke="#E9967A" stroke-width="1.25" stroke-linejoin="round"/>
<polygon points="172.98,641.46 172.50,642.95 170.93,642.95 172.20,643.87 171.71,645.37 172.98,644.44 174.25,645.37 173.76,643.87 175.03,642.95 173.46,642.95" fill="#E9967A" stroke="#E9967A" stroke-width="1.25" stroke-linejoin="round"/>
<polygon points="186.66,641.22 186.18,642.71 184.61,642.71 185.88,643.64 185.40,645.13 186.66,644.21 187.93,645.13 187.45,643.64 188.72,642.71 187.15,642.71" fill="#E9967A" stroke="#E9967A" stroke-width="1.25" stroke-linejoin="round"/>
<polygon points="200.35,641.22 199.87,642.71 198.30,642.71 199.57,643.64 199.08,645.13 200.35,644.21 201.62,645.13 201.13,643.64 202.40,642.71 200.83,642.71" fill="#E9967A" stroke="#E9967A" stroke-width="1.25" stroke-linejoin="round"/>
<polygon points="214.03,641.26 213.55,642.75 211.98,642.75 213.25,643.67 212.77,645.16 214.03,644.24 215.30,645.16 214.82,643.67 216.09,642.75 214.52,642.75" fill="#E9967A" stroke="#E9967A" stroke-width="1.25" stroke-linejoin="round"/>
<polygon points="227.72,641.32 227.24,642.81 225.67,642.81 226.94,643.73 226.45,645.22 227.72,644.30 228.99,645.22 228.50,643.73 229.77,642.81 228.20,642.81" fill="#E9967A" stroke="#E9967A" stroke-width="1.25" stroke-linejoin="round"/>
<polygon points="241.40,641.38 240.92,642.88 239.35,642.88 240.62,643.80 240.14,645.29 241.40,644.37 242.67,645.29 242.19,643.80 243.46,642.88 241.89,642.88" fill="#E9967A" stroke="#E9967A" stroke-width="1.25" stroke-linejoin="round"/>
<polygon points="255.09,641.46 254.61,642.96 253.04,642.96 254.31,643.88 253.82,645.37 255.09,644.45 256.36,645.37 255.87,643.88 257.14,642.96 255.57,642.96" fill="#E9967A" stroke="#E9967A" stroke-width="1.25" stroke-linejoin="round"/>
<polygon points="268.77,641.55 268.29,643.05 266.72,643.05 267.99,643.97 267.51,645.46 268.77,644.54 270.04,645.46 269.56,643.97 270.83,643.05 269.26,643.05" fill="#E9967A" stroke="#E9967A" stroke-width="1.25" stroke-linejoin="round"/>
<polygon points="282.46,641.65 281.98,643.14 280.41,643.14 281.68,644.07 281.19,645.56 282.46,644.64 283.73,645.56 283.24,644.07 284.51,643.14 282.94,643.14" fill="#E9967A" stroke="#E9967A" stroke-width="1.25" stroke-linejoin="round"/>
<polygon points="296.14,641.77 295.66,643.26 294.09,643.26 295.36,644.18 294.88,645.67 296.14,644.75 297.41,645.67 296.93,644.18 298.20,643.26 296.63,643.26" fill="#E9967A" stroke="#E9967A" stroke-width="1.25" stroke-linejoin="round"/>
<polygon points="309.83,641.89 309.35,643.38 307.78,643.38 309.05,644.30 308.56,645.80 309.83,644.87 311.10,645.80 310.61,644.30 311.88,643.38 310.31,643.38" fill="#E9967A" stroke="#E9967A" stroke-width="1.25" stroke-linejoin="round"/>
<polygon points="323.51,642.02 323.03,643.51 321.46,643.51 322.73,644.44 322.25,645.93 323.51,645.01 324.78,645.93 324.30,644.44 325.57,643.51 324.00,643.51" fill="#E9967A" stroke="#E9967A" stroke-width="1.25" stroke-linejoin="round"/>
<polygon points="337.20,642.17 336.72,643.66 335.15,643.66 336.42,644.58 335.93,646.08 337.20,645.15 338.47,646.08 337.98,644.58 339.25,643.66 337.68,643.66" fill="#E9967A" stroke="#E9967A" stroke-width="1.25" stroke-linejoin="round"/>
</g>
<line x1="63.50" y1="650.00" x2="337.20" y2="650.00" stroke="#111" stroke-width="1.3" stroke-dasharray="4.1,2.4"/>
<rect x="63.50" y="626.40" width="273.70" height="212.60" fill="none" stroke="#444" stroke-width="1.1"/>
<line x1="63.50" y1="839.00" x2="63.50" y2="842.00" stroke="#444" stroke-width="0.9"/>
<text x="63.50" y="855.00" text-anchor="middle" font-family='"Liberation Serif", serif' font-size="14.4" fill="#111">1.00</text>
<line x1="97.71" y1="839.00" x2="97.71" y2="842.00" stroke="#444" stroke-width="0.9"/>
<text x="97.71" y="855.00" text-anchor="middle" font-family='"Liberation Serif", serif' font-size="14.4" fill="#111">1.25</text>
<line x1="131.93" y1="839.00" x2="131.93" y2="842.00" stroke="#444" stroke-width="0.9"/>
<text x="131.93" y="855.00" text-anchor="middle" font-family='"Liberation Serif", serif' font-size="14.4" fill="#111">1.50</text>
<line x1="166.14" y1="839.00" x2="166.14" y2="842.00" stroke="#444" stroke-width="0.9"/>
<text x="166.14" y="855.00" text-anchor="middle" font-family='"Liberation Serif", serif' font-size="14.4" fill="#111">1.75</text>
<line x1="200.35" y1="839.00" x2="200.35" y2="842.00" stroke="#444" stroke-width="0.9"/>
<text x="200.35" y="855.00" text-anchor="middle" font-family='"Liberation Serif", serif' font-size="14.4" fill="#111">2.00</text>
<line x1="234.56" y1="839.00" x2="234.56" y2="842.00" stroke="#444" stroke-width="0.9"/>
<text x="234.56" y="855.00" text-anchor="middle" font-family='"Liberation Serif", serif' font-size="14.4" fill="#111">2.25</text>
<line x1="268.77" y1="839.00" x2="268.77" y2="842.00" stroke="#444" stroke-width="0.9"/>
<text x="268.77" y="855.00" text-anchor="middle" font-family='"Liberation Serif", serif' font-size="14.4" fill="#111">2.50</text>
<line x1="302.99" y1="839.00" x2="302.99" y2="842.00" stroke="#444" stroke-width="0.9"/>
<text x="302.99" y="855.00" text-anchor="middle" font-family='"Liberation Serif", serif' font-size="14.4" fill="#111">2.75</text>
<line x1="337.20" y1="839.00" x2="337.20" y2="842.00" stroke="#444" stroke-width="0.9"/>
<text x="337.20" y="855.00" text-anchor="middle" font-family='"Liberation Serif", serif' font-size="14.4" fill="#111">3.00</text>
<line x1="60.50" y1="626.37" x2="63.50" y2="626.37" stroke="#444" stroke-width="0.9"/>
<text x="56.90" y="631.26" text-anchor="end" font-family='"Liberation Serif", serif' font-size="14.4" fill="#111">0.5</text>
<line x1="60.50" y1="650.00" x2="63.50" y2="650.00" stroke="#444" stroke-width="0.9"/>
<text x="56.90" y="654.90" text-anchor="end" font-family='"Liberation Serif", serif' font-size="14.4" fill="#111">0.0</text>
<line x1="60.50" y1="673.63" x2="63.50" y2="673.63" stroke="#444" stroke-width="0.9"/>
<text x="56.90" y="678.53" text-anchor="end" font-family='"Liberation Serif", serif' font-size="14.4" fill="#111">−0.5</text>
<line x1="60.50" y1="697.27" x2="63.50" y2="697.27" stroke="#444" stroke-width="0.9"/>
<text x="56.90" y="702.17" text-anchor="end" font-family='"Liberation Serif", serif' font-size="14.4" fill="#111">−1.0</text>
<line x1="60.50" y1="720.90" x2="63.50" y2="720.90" stroke="#444" stroke-width="0.9"/>
<text x="56.90" y="725.80" text-anchor="end" font-family='"Liberation Serif", serif' font-size="14.4" fill="#111">−1.5</text>
<line x1="60.50" y1="744.54" x2="63.50" y2="744.54" stroke="#444" stroke-width="0.9"/>
<text x="56.90" y="749.44" text-anchor="end" font-family='"Liberation Serif", serif' font-size="14.4" fill="#111">−2.0</text>
<line x1="60.50" y1="768.17" x2="63.50" y2="768.17" stroke="#444" stroke-width="0.9"/>
<text x="56.90" y="773.07" text-anchor="end" font-family='"Liberation Serif", serif' font-size="14.4" fill="#111">−2.5</text>
<line x1="60.50" y1="791.81" x2="63.50" y2="791.81" stroke="#444" stroke-width="0.9"/>
<text x="56.90" y="796.71" text-anchor="end" font-family='"Liberation Serif", serif' font-size="14.4" fill="#111">−3.0</text>
<line x1="60.50" y1="815.45" x2="63.50" y2="815.45" stroke="#444" stroke-width="0.9"/>
<text x="56.90" y="820.35" text-anchor="end" font-family='"Liberation Serif", serif' font-size="14.4" fill="#111">−3.5</text>
<line x1="60.50" y1="839.08" x2="63.50" y2="839.08" stroke="#444" stroke-width="0.9"/>
<text x="56.90" y="843.98" text-anchor="end" font-family='"Liberation Serif", serif' font-size="14.4" fill="#111">−4.0</text>
<rect x="269.50" y="669.30" width="67.60" height="160.10" rx="1.5" fill="#fff" fill-opacity="0.85" stroke="#d0d0d0" stroke-width="0.8"/>
<line x1="271.90" y1="678.80" x2="292.60" y2="678.80" stroke="#FF7F50" stroke-width="1.4"/>
<circle cx="282.25" cy="678.80" r="2.90" fill="#FF7F50"/>
<text x="301.0" y="682.4" font-family='"Liberation Serif", serif' font-size="10.0" fill="#111"><tspan font-style="italic" font-size="11.2">β</tspan><tspan font-size="8.0" dy="2.4">1</tspan><tspan dy="-2.4"> = 0.0</tspan></text>
<line x1="271.90" y1="696.26" x2="292.60" y2="696.26" stroke="#FF0000" stroke-width="1.4"/>
<circle cx="282.25" cy="696.26" r="2.90" fill="#FF0000"/>
<text x="301.0" y="699.9" font-family='"Liberation Serif", serif' font-size="10.0" fill="#111"><tspan font-style="italic" font-size="11.2">β</tspan><tspan font-size="8.0" dy="2.4">1</tspan><tspan dy="-2.4"> =0.1</tspan></text>
<line x1="271.90" y1="713.72" x2="292.60" y2="713.72" stroke="#6B8E23" stroke-width="1.4"/>
<circle cx="282.25" cy="713.72" r="2.90" fill="#6B8E23"/>
<text x="301.0" y="717.3" font-family='"Liberation Serif", serif' font-size="10.0" fill="#111"><tspan font-style="italic" font-size="11.2">β</tspan><tspan font-size="8.0" dy="2.4">1</tspan><tspan dy="-2.4"> =0.2</tspan></text>
<line x1="271.90" y1="731.18" x2="292.60" y2="731.18" stroke="#D2691E" stroke-width="1.4"/>
<polygon points="282.25,728.48 279.55,733.88 284.95,733.88" fill="#D2691E"/>
<text x="301.0" y="734.8" font-family='"Liberation Serif", serif' font-size="10.0" fill="#111"><tspan font-style="italic" font-size="11.2">β</tspan><tspan font-size="8.0" dy="2.4">1</tspan><tspan dy="-2.4"> =0.3</tspan></text>
<line x1="271.90" y1="748.64" x2="292.60" y2="748.64" stroke="#6A5ACD" stroke-width="1.4"/>
<polygon points="282.25,745.94 279.55,751.34 284.95,751.34" fill="#6A5ACD"/>
<text x="301.0" y="752.2" font-family='"Liberation Serif", serif' font-size="10.0" fill="#111"><tspan font-style="italic" font-size="11.2">β</tspan><tspan font-size="8.0" dy="2.4">1</tspan><tspan dy="-2.4"> =0.4</tspan></text>
<line x1="271.90" y1="766.10" x2="292.60" y2="766.10" stroke="#DDA0DD" stroke-width="1.4"/>
<polygon points="282.25,763.40 279.55,768.80 284.95,768.80" fill="#DDA0DD"/>
<text x="301.0" y="769.7" font-family='"Liberation Serif", serif' font-size="10.0" fill="#111"><tspan font-style="italic" font-size="11.2">β</tspan><tspan font-size="8.0" dy="2.4">1</tspan><tspan dy="-2.4"> =0.5</tspan></text>
<line x1="271.90" y1="783.56" x2="292.60" y2="783.56" stroke="#9370DB" stroke-width="1.4"/>
<polygon points="282.25,781.26 281.73,782.85 280.06,782.85 281.41,783.83 280.90,785.42 282.25,784.44 283.60,785.42 283.09,783.83 284.44,782.85 282.77,782.85" fill="#9370DB" stroke="#9370DB" stroke-width="1.25" stroke-linejoin="round"/>
<text x="301.0" y="787.2" font-family='"Liberation Serif", serif' font-size="10.0" fill="#111"><tspan font-style="italic" font-size="11.2">β</tspan><tspan font-size="8.0" dy="2.4">1</tspan><tspan dy="-2.4"> =0.6</tspan></text>
<line x1="271.90" y1="801.02" x2="292.60" y2="801.02" stroke="#1E90FF" stroke-width="1.4"/>
<polygon points="282.25,798.72 281.73,800.31 280.06,800.31 281.41,801.29 280.90,802.88 282.25,801.90 283.60,802.88 283.09,801.29 284.44,800.31 282.77,800.31" fill="#1E90FF" stroke="#1E90FF" stroke-width="1.25" stroke-linejoin="round"/>
<text x="301.0" y="804.6" font-family='"Liberation Serif", serif' font-size="10.0" fill="#111"><tspan font-style="italic" font-size="11.2">β</tspan><tspan font-size="8.0" dy="2.4">1</tspan><tspan dy="-2.4"> =0.7</tspan></text>
<line x1="271.90" y1="818.48" x2="292.60" y2="818.48" stroke="#E9967A" stroke-width="1.4"/>
<polygon points="282.25,816.18 281.73,817.77 280.06,817.77 281.41,818.75 280.90,820.34 282.25,819.36 283.60,820.34 283.09,818.75 284.44,817.77 282.77,817.77" fill="#E9967A" stroke="#E9967A" stroke-width="1.25" stroke-linejoin="round"/>
<text x="301.0" y="822.1" font-family='"Liberation Serif", serif' font-size="10.0" fill="#111"><tspan font-style="italic" font-size="11.2">β</tspan><tspan font-size="8.0" dy="2.4">1</tspan><tspan dy="-2.4"> =0.8</tspan></text>
<text x="200.5" y="640.5" font-family='"Liberation Serif", serif' font-size="14.4" fill="#111">stable</text>
<text x="201.3" y="744.3" font-family='"Liberation Serif", serif' font-size="14.4" fill="#111">unstable</text>
<text x="200.35" y="871.50" text-anchor="middle" font-family='"Liberation Serif", serif' font-weight="bold" font-size="14.4" fill="#111">Time gap (s)</text>
<text transform="translate(26.00,735.00) rotate(-90)" text-anchor="middle" font-family='"Liberation Serif", serif' font-weight="bold" font-size="14.4" fill="#111">Stability</text>
<text x="189.4" y="896.6" text-anchor="middle" font-family='"Liberation Serif", serif' font-size="16" fill="#111">(<tspan font-weight="bold">e</tspan>)</text>
<clipPath id="clipf"><rect x="456.40" y="625.20" width="271.90" height="214.20"/></clipPath>
<g clip-path="url(#clipf)">
<polyline points="456.40,802.27 470.00,761.34 483.59,733.73 497.19,713.26 510.78,698.50 524.38,687.79 537.97,679.94 551.56,673.28 565.16,668.52 578.75,664.23 592.35,661.61 605.94,658.04 619.54,655.19 633.13,653.52 646.73,652.09 660.32,651.14 673.92,650.47 687.51,649.95 701.11,649.53 714.70,649.17 728.30,648.90" fill="none" stroke="#FF7F50" stroke-width="1.30" stroke-linejoin="round"/>
<circle cx="456.40" cy="802.27" r="2.70" fill="#FF7F50"/>
<circle cx="470.00" cy="761.34" r="2.70" fill="#FF7F50"/>
<circle cx="483.59" cy="733.73" r="2.70" fill="#FF7F50"/>
<circle cx="497.19" cy="713.26" r="2.70" fill="#FF7F50"/>
<circle cx="510.78" cy="698.50" r="2.70" fill="#FF7F50"/>
<circle cx="524.38" cy="687.79" r="2.70" fill="#FF7F50"/>
<circle cx="537.97" cy="679.94" r="2.70" fill="#FF7F50"/>
<circle cx="551.56" cy="673.28" r="2.70" fill="#FF7F50"/>
<circle cx="565.16" cy="668.52" r="2.70" fill="#FF7F50"/>
<circle cx="578.75" cy="664.23" r="2.70" fill="#FF7F50"/>
<circle cx="592.35" cy="661.61" r="2.70" fill="#FF7F50"/>
<circle cx="605.94" cy="658.04" r="2.70" fill="#FF7F50"/>
<circle cx="619.54" cy="655.19" r="2.70" fill="#FF7F50"/>
<circle cx="633.13" cy="653.52" r="2.70" fill="#FF7F50"/>
<circle cx="646.73" cy="652.09" r="2.70" fill="#FF7F50"/>
<circle cx="660.32" cy="651.14" r="2.70" fill="#FF7F50"/>
<circle cx="673.92" cy="650.47" r="2.70" fill="#FF7F50"/>
<circle cx="687.51" cy="649.95" r="2.70" fill="#FF7F50"/>
<circle cx="701.11" cy="649.53" r="2.70" fill="#FF7F50"/>
<circle cx="714.70" cy="649.17" r="2.70" fill="#FF7F50"/>
<circle cx="728.30" cy="648.90" r="2.70" fill="#FF7F50"/>
<polyline points="456.40,781.33 470.00,745.63 483.59,721.11 497.19,703.26 510.78,690.65 524.38,681.84 537.97,674.47 551.56,669.23 565.16,664.71 578.75,661.14 592.35,658.52 605.94,656.30 619.54,654.47 633.13,653.03 646.73,651.81 660.32,650.90 673.92,650.19 687.51,649.54 701.11,649.00 714.70,648.61 728.30,648.43" fill="none" stroke="#FF0000" stroke-width="1.30" stroke-linejoin="round"/>
<circle cx="456.40" cy="781.33" r="2.70" fill="#FF0000"/>
<circle cx="470.00" cy="745.63" r="2.70" fill="#FF0000"/>
<circle cx="483.59" cy="721.11" r="2.70" fill="#FF0000"/>
<circle cx="497.19" cy="703.26" r="2.70" fill="#FF0000"/>
<circle cx="510.78" cy="690.65" r="2.70" fill="#FF0000"/>
<circle cx="524.38" cy="681.84" r="2.70" fill="#FF0000"/>
<circle cx="537.97" cy="674.47" r="2.70" fill="#FF0000"/>
<circle cx="551.56" cy="669.23" r="2.70" fill="#FF0000"/>
<circle cx="565.16" cy="664.71" r="2.70" fill="#FF0000"/>
<circle cx="578.75" cy="661.14" r="2.70" fill="#FF0000"/>
<circle cx="592.35" cy="658.52" r="2.70" fill="#FF0000"/>
<circle cx="605.94" cy="656.30" r="2.70" fill="#FF0000"/>
<circle cx="619.54" cy="654.47" r="2.70" fill="#FF0000"/>
<circle cx="633.13" cy="653.03" r="2.70" fill="#FF0000"/>
<circle cx="646.73" cy="651.81" r="2.70" fill="#FF0000"/>
<circle cx="660.32" cy="650.90" r="2.70" fill="#FF0000"/>
<circle cx="673.92" cy="650.19" r="2.70" fill="#FF0000"/>
<circle cx="687.51" cy="649.54" r="2.70" fill="#FF0000"/>
<circle cx="701.11" cy="649.00" r="2.70" fill="#FF0000"/>
<circle cx="714.70" cy="648.61" r="2.70" fill="#FF0000"/>
<circle cx="728.30" cy="648.43" r="2.70" fill="#FF0000"/>
<polyline points="456.40,760.38 470.00,729.92 483.59,708.98 497.19,694.22 510.78,683.27 524.38,675.18 537.97,669.71 551.56,664.23 565.16,661.14 578.75,658.28 592.35,656.14 605.94,654.45 619.54,653.05 633.13,651.83 646.73,650.75 660.32,649.95 673.92,649.34 687.51,648.77 701.11,648.30 714.70,647.97 728.30,647.81" fill="none" stroke="#6B8E23" stroke-width="1.30" stroke-linejoin="round"/>
<circle cx="456.40" cy="760.38" r="2.70" fill="#6B8E23"/>
<circle cx="470.00" cy="729.92" r="2.70" fill="#6B8E23"/>
<circle cx="483.59" cy="708.98" r="2.70" fill="#6B8E23"/>
<circle cx="497.19" cy="694.22" r="2.70" fill="#6B8E23"/>
<circle cx="510.78" cy="683.27" r="2.70" fill="#6B8E23"/>
<circle cx="524.38" cy="675.18" r="2.70" fill="#6B8E23"/>
<circle cx="537.97" cy="669.71" r="2.70" fill="#6B8E23"/>
<circle cx="551.56" cy="664.23" r="2.70" fill="#6B8E23"/>
<circle cx="565.16" cy="661.14" r="2.70" fill="#6B8E23"/>
<circle cx="578.75" cy="658.28" r="2.70" fill="#6B8E23"/>
<circle cx="592.35" cy="656.14" r="2.70" fill="#6B8E23"/>
<circle cx="605.94" cy="654.45" r="2.70" fill="#6B8E23"/>
<circle cx="619.54" cy="653.05" r="2.70" fill="#6B8E23"/>
<circle cx="633.13" cy="651.83" r="2.70" fill="#6B8E23"/>
<circle cx="646.73" cy="650.75" r="2.70" fill="#6B8E23"/>
<circle cx="660.32" cy="649.95" r="2.70" fill="#6B8E23"/>
<circle cx="673.92" cy="649.34" r="2.70" fill="#6B8E23"/>
<circle cx="687.51" cy="648.77" r="2.70" fill="#6B8E23"/>
<circle cx="701.11" cy="648.30" r="2.70" fill="#6B8E23"/>
<circle cx="714.70" cy="647.97" r="2.70" fill="#6B8E23"/>
<circle cx="728.30" cy="647.81" r="2.70" fill="#6B8E23"/>
<polyline points="456.40,739.68 470.00,714.69 483.59,697.31 497.19,684.94 510.78,676.13 524.38,669.23 537.97,664.71 551.56,661.14 565.16,658.28 578.75,655.90 592.35,654.00 605.94,652.56 619.54,651.38 633.13,650.34 646.73,649.43 660.32,648.76 673.92,648.27 687.51,647.81 701.11,647.44 714.70,647.19 728.30,647.10" fill="none" stroke="#D2691E" stroke-width="1.30" stroke-linejoin="round"/>
<polygon points="456.40,736.98 453.70,742.38 459.10,742.38" fill="#D2691E"/>
<polygon points="470.00,711.99 467.30,717.39 472.69,717.39" fill="#D2691E"/>
<polygon points="483.59,694.61 480.89,700.01 486.29,700.01" fill="#D2691E"/>
<polygon points="497.19,682.24 494.49,687.64 499.88,687.64" fill="#D2691E"/>
<polygon points="510.78,673.43 508.08,678.83 513.48,678.83" fill="#D2691E"/>
<polygon points="524.38,666.53 521.67,671.93 527.08,671.93" fill="#D2691E"/>
<polygon points="537.97,662.01 535.27,667.41 540.67,667.41" fill="#D2691E"/>
<polygon points="551.56,658.44 548.86,663.84 554.26,663.84" fill="#D2691E"/>
<polygon points="565.16,655.58 562.46,660.98 567.86,660.98" fill="#D2691E"/>
<polygon points="578.75,653.20 576.05,658.60 581.46,658.60" fill="#D2691E"/>
<polygon points="592.35,651.30 589.65,656.70 595.05,656.70" fill="#D2691E"/>
<polygon points="605.94,649.86 603.24,655.26 608.64,655.26" fill="#D2691E"/>
<polygon points="619.54,648.68 616.84,654.08 622.24,654.08" fill="#D2691E"/>
<polygon points="633.13,647.64 630.43,653.04 635.84,653.04" fill="#D2691E"/>
<polygon points="646.73,646.73 644.03,652.13 649.43,652.13" fill="#D2691E"/>
<polygon points="660.32,646.06 657.62,651.46 663.02,651.46" fill="#D2691E"/>
<polygon points="673.92,645.57 671.22,650.97 676.62,650.97" fill="#D2691E"/>
<polygon points="687.51,645.11 684.81,650.51 690.22,650.51" fill="#D2691E"/>
<polygon points="701.11,644.74 698.41,650.14 703.81,650.14" fill="#D2691E"/>
<polygon points="714.70,644.49 712.00,649.89 717.40,649.89" fill="#D2691E"/>
<polygon points="728.30,644.40 725.60,649.80 731.00,649.80" fill="#D2691E"/>
<polyline points="456.40,719.45 470.00,699.22 483.59,685.18 497.19,675.18 510.78,668.52 524.38,663.04 537.97,659.23 551.56,656.38 565.16,654.00 578.75,652.33 592.35,651.14 605.94,650.24 619.54,649.48 633.13,648.75 646.73,648.09 660.32,647.57 673.92,647.17 687.51,646.81 701.11,646.50 714.70,646.27 728.30,646.14" fill="none" stroke="#6A5ACD" stroke-width="1.30" stroke-linejoin="round"/>
<polygon points="456.40,716.75 453.70,722.15 459.10,722.15" fill="#6A5ACD"/>
<polygon points="470.00,696.52 467.30,701.92 472.69,701.92" fill="#6A5ACD"/>
<polygon points="483.59,682.48 480.89,687.88 486.29,687.88" fill="#6A5ACD"/>
<polygon points="497.19,672.48 494.49,677.88 499.88,677.88" fill="#6A5ACD"/>
<polygon points="510.78,665.82 508.08,671.22 513.48,671.22" fill="#6A5ACD"/>
<polygon points="524.38,660.34 521.67,665.74 527.08,665.74" fill="#6A5ACD"/>
<polygon points="537.97,656.53 535.27,661.93 540.67,661.93" fill="#6A5ACD"/>
<polygon points="551.56,653.68 548.86,659.08 554.26,659.08" fill="#6A5ACD"/>
<polygon points="565.16,651.30 562.46,656.70 567.86,656.70" fill="#6A5ACD"/>
<polygon points="578.75,649.63 576.05,655.03 581.46,655.03" fill="#6A5ACD"/>
<polygon points="592.35,648.44 589.65,653.84 595.05,653.84" fill="#6A5ACD"/>
<polygon points="605.94,647.54 603.24,652.94 608.64,652.94" fill="#6A5ACD"/>
<polygon points="619.54,646.78 616.84,652.18 622.24,652.18" fill="#6A5ACD"/>
<polygon points="633.13,646.05 630.43,651.45 635.84,651.45" fill="#6A5ACD"/>
<polygon points="646.73,645.39 644.03,650.79 649.43,650.79" fill="#6A5ACD"/>
<polygon points="660.32,644.87 657.62,650.27 663.02,650.27" fill="#6A5ACD"/>
<polygon points="673.92,644.47 671.22,649.87 676.62,649.87" fill="#6A5ACD"/>
<polygon points="687.51,644.11 684.81,649.51 690.22,649.51" fill="#6A5ACD"/>
<polygon points="701.11,643.80 698.41,649.20 703.81,649.20" fill="#6A5ACD"/>
<polygon points="714.70,643.57 712.00,648.97 717.40,648.97" fill="#6A5ACD"/>
<polygon points="728.30,643.44 725.60,648.84 731.00,648.84" fill="#6A5ACD"/>
<polyline points="456.40,698.50 470.00,682.80 483.59,673.28 497.19,666.14 510.78,661.14 524.38,657.09 537.97,654.00 551.56,652.09 565.16,650.43 578.75,649.14 592.35,648.19 605.94,647.45 619.54,646.86 633.13,646.37 646.73,645.96 660.32,645.67 673.92,645.45 687.51,645.26 701.11,645.10 714.70,644.99 728.30,644.95" fill="none" stroke="#DDA0DD" stroke-width="1.30" stroke-linejoin="round"/>
<polygon points="456.40,695.80 453.70,701.20 459.10,701.20" fill="#DDA0DD"/>
<polygon points="470.00,680.10 467.30,685.50 472.69,685.50" fill="#DDA0DD"/>
<polygon points="483.59,670.58 480.89,675.98 486.29,675.98" fill="#DDA0DD"/>
<polygon points="497.19,663.44 494.49,668.84 499.88,668.84" fill="#DDA0DD"/>
<polygon points="510.78,658.44 508.08,663.84 513.48,663.84" fill="#DDA0DD"/>
<polygon points="524.38,654.39 521.67,659.79 527.08,659.79" fill="#DDA0DD"/>
<polygon points="537.97,651.30 535.27,656.70 540.67,656.70" fill="#DDA0DD"/>
<polygon points="551.56,649.39 548.86,654.79 554.26,654.79" fill="#DDA0DD"/>
<polygon points="565.16,647.73 562.46,653.13 567.86,653.13" fill="#DDA0DD"/>
<polygon points="578.75,646.44 576.05,651.84 581.46,651.84" fill="#DDA0DD"/>
<polygon points="592.35,645.49 589.65,650.89 595.05,650.89" fill="#DDA0DD"/>
<polygon points="605.94,644.75 603.24,650.15 608.64,650.15" fill="#DDA0DD"/>
<polygon points="619.54,644.16 616.84,649.56 622.24,649.56" fill="#DDA0DD"/>
<polygon points="633.13,643.67 630.43,649.07 635.84,649.07" fill="#DDA0DD"/>
<polygon points="646.73,643.26 644.03,648.66 649.43,648.66" fill="#DDA0DD"/>
<polygon points="660.32,642.97 657.62,648.37 663.02,648.37" fill="#DDA0DD"/>
<polygon points="673.92,642.75 671.22,648.15 676.62,648.15" fill="#DDA0DD"/>
<polygon points="687.51,642.56 684.81,647.96 690.22,647.96" fill="#DDA0DD"/>
<polygon points="701.11,642.40 698.41,647.80 703.81,647.80" fill="#DDA0DD"/>
<polygon points="714.70,642.29 712.00,647.69 717.40,647.69" fill="#DDA0DD"/>
<polygon points="728.30,642.25 725.60,647.65 731.00,647.65" fill="#DDA0DD"/>
<polyline points="456.40,678.51 470.00,668.52 483.59,661.61 497.19,656.38 510.78,653.28 524.38,650.90 537.97,649.14 551.56,647.95 565.16,647.24 578.75,646.24 592.35,645.67 605.94,645.18 619.54,644.81 633.13,644.56 646.73,644.36 660.32,644.24 673.92,644.16 687.51,644.10 701.11,644.05 714.70,644.02 728.30,644.00" fill="none" stroke="#9370DB" stroke-width="1.30" stroke-linejoin="round"/>
<polygon points="456.40,676.35 455.92,677.84 454.35,677.84 455.62,678.77 455.13,680.26 456.40,679.34 457.67,680.26 457.18,678.77 458.45,677.84 456.88,677.84" fill="#9370DB" stroke="#9370DB" stroke-width="1.25" stroke-linejoin="round"/>
<polygon points="470.00,666.36 469.51,667.85 467.94,667.85 469.21,668.77 468.73,670.26 470.00,669.34 471.26,670.26 470.78,668.77 472.05,667.85 470.48,667.85" fill="#9370DB" stroke="#9370DB" stroke-width="1.25" stroke-linejoin="round"/>
<polygon points="483.59,659.45 483.11,660.95 481.54,660.95 482.81,661.87 482.32,663.36 483.59,662.44 484.86,663.36 484.37,661.87 485.64,660.95 484.07,660.95" fill="#9370DB" stroke="#9370DB" stroke-width="1.25" stroke-linejoin="round"/>
<polygon points="497.19,654.22 496.70,655.71 495.13,655.71 496.40,656.63 495.92,658.13 497.19,657.20 498.45,658.13 497.97,656.63 499.24,655.71 497.67,655.71" fill="#9370DB" stroke="#9370DB" stroke-width="1.25" stroke-linejoin="round"/>
<polygon points="510.78,651.12 510.30,652.62 508.73,652.62 510.00,653.54 509.51,655.03 510.78,654.11 512.05,655.03 511.56,653.54 512.83,652.62 511.26,652.62" fill="#9370DB" stroke="#9370DB" stroke-width="1.25" stroke-linejoin="round"/>
<polygon points="524.38,648.74 523.89,650.24 522.32,650.24 523.59,651.16 523.11,652.65 524.38,651.73 525.64,652.65 525.16,651.16 526.43,650.24 524.86,650.24" fill="#9370DB" stroke="#9370DB" stroke-width="1.25" stroke-linejoin="round"/>
<polygon points="537.97,646.98 537.49,648.48 535.92,648.48 537.19,649.40 536.70,650.89 537.97,649.97 539.24,650.89 538.75,649.40 540.02,648.48 538.45,648.48" fill="#9370DB" stroke="#9370DB" stroke-width="1.25" stroke-linejoin="round"/>
<polygon points="551.56,645.79 551.08,647.29 549.51,647.29 550.78,648.21 550.30,649.70 551.56,648.78 552.83,649.70 552.35,648.21 553.62,647.29 552.05,647.29" fill="#9370DB" stroke="#9370DB" stroke-width="1.25" stroke-linejoin="round"/>
<polygon points="565.16,645.08 564.68,646.57 563.11,646.57 564.38,647.49 563.89,648.99 565.16,648.06 566.43,648.99 565.94,647.49 567.21,646.57 565.64,646.57" fill="#9370DB" stroke="#9370DB" stroke-width="1.25" stroke-linejoin="round"/>
<polygon points="578.75,644.08 578.27,645.57 576.70,645.57 577.97,646.49 577.49,647.99 578.75,647.06 580.02,647.99 579.54,646.49 580.81,645.57 579.24,645.57" fill="#9370DB" stroke="#9370DB" stroke-width="1.25" stroke-linejoin="round"/>
<polygon points="592.35,643.51 591.87,645.00 590.30,645.00 591.57,645.92 591.08,647.42 592.35,646.49 593.62,647.42 593.13,645.92 594.40,645.00 592.83,645.00" fill="#9370DB" stroke="#9370DB" stroke-width="1.25" stroke-linejoin="round"/>
<polygon points="605.94,643.02 605.46,644.52 603.89,644.52 605.16,645.44 604.68,646.93 605.94,646.01 607.21,646.93 606.73,645.44 608.00,644.52 606.43,644.52" fill="#9370DB" stroke="#9370DB" stroke-width="1.25" stroke-linejoin="round"/>
<polygon points="619.54,642.65 619.06,644.14 617.49,644.14 618.76,645.07 618.27,646.56 619.54,645.64 620.81,646.56 620.32,645.07 621.59,644.14 620.02,644.14" fill="#9370DB" stroke="#9370DB" stroke-width="1.25" stroke-linejoin="round"/>
<polygon points="633.13,642.40 632.65,643.89 631.08,643.89 632.35,644.81 631.87,646.31 633.13,645.38 634.40,646.31 633.92,644.81 635.19,643.89 633.62,643.89" fill="#9370DB" stroke="#9370DB" stroke-width="1.25" stroke-linejoin="round"/>
<polygon points="646.73,642.20 646.25,643.70 644.68,643.70 645.95,644.62 645.46,646.11 646.73,645.19 648.00,646.11 647.51,644.62 648.78,643.70 647.21,643.70" fill="#9370DB" stroke="#9370DB" stroke-width="1.25" stroke-linejoin="round"/>
<polygon points="660.32,642.08 659.84,643.57 658.27,643.57 659.54,644.49 659.06,645.99 660.32,645.07 661.59,645.99 661.11,644.49 662.38,643.57 660.81,643.57" fill="#9370DB" stroke="#9370DB" stroke-width="1.25" stroke-linejoin="round"/>
<polygon points="673.92,642.00 673.44,643.50 671.87,643.50 673.14,644.42 672.65,645.91 673.92,644.99 675.19,645.91 674.70,644.42 675.97,643.50 674.40,643.50" fill="#9370DB" stroke="#9370DB" stroke-width="1.25" stroke-linejoin="round"/>
<polygon points="687.51,641.94 687.03,643.43 685.46,643.43 686.73,644.35 686.25,645.84 687.51,644.92 688.78,645.84 688.30,644.35 689.57,643.43 688.00,643.43" fill="#9370DB" stroke="#9370DB" stroke-width="1.25" stroke-linejoin="round"/>
<polygon points="701.11,641.89 700.63,643.38 699.06,643.38 700.33,644.30 699.84,645.80 701.11,644.87 702.38,645.80 701.89,644.30 703.16,643.38 701.59,643.38" fill="#9370DB" stroke="#9370DB" stroke-width="1.25" stroke-linejoin="round"/>
<polygon points="714.70,641.86 714.22,643.35 712.65,643.35 713.92,644.27 713.44,645.76 714.70,644.84 715.97,645.76 715.49,644.27 716.76,643.35 715.19,643.35" fill="#9370DB" stroke="#9370DB" stroke-width="1.25" stroke-linejoin="round"/>
<polygon points="728.30,641.84 727.82,643.33 726.25,643.33 727.52,644.26 727.03,645.75 728.30,644.83 729.57,645.75 729.08,644.26 730.35,643.33 728.78,643.33" fill="#9370DB" stroke="#9370DB" stroke-width="1.25" stroke-linejoin="round"/>
<polyline points="456.40,659.95 470.00,654.71 483.59,650.90 497.19,648.71 510.78,646.72 524.38,645.81 537.97,644.81 551.56,644.34 565.16,643.86 578.75,643.62 592.35,643.38 605.94,643.26 619.54,643.19 633.13,643.15 646.73,643.11 660.32,643.10 673.92,643.10 687.51,643.13 701.11,643.16 714.70,643.22 728.30,643.29" fill="none" stroke="#1E90FF" stroke-width="1.30" stroke-linejoin="round"/>
<polygon points="456.40,657.65 455.88,659.24 454.22,659.24 455.57,660.22 455.05,661.80 456.40,660.82 457.75,661.80 457.23,660.22 458.58,659.24 456.92,659.24" fill="#1E90FF" stroke="#1E90FF" stroke-width="1.25" stroke-linejoin="round"/>
<polygon points="470.00,652.42 469.48,654.00 467.81,654.00 469.16,654.98 468.65,656.57 470.00,655.59 471.34,656.57 470.83,654.98 472.18,654.00 470.51,654.00" fill="#1E90FF" stroke="#1E90FF" stroke-width="1.25" stroke-linejoin="round"/>
<polygon points="483.59,648.61 483.07,650.19 481.41,650.19 482.76,651.17 482.24,652.76 483.59,651.78 484.94,652.76 484.42,651.17 485.77,650.19 484.11,650.19" fill="#1E90FF" stroke="#1E90FF" stroke-width="1.25" stroke-linejoin="round"/>
<polygon points="497.19,646.42 496.67,648.01 495.00,648.01 496.35,648.99 495.84,650.57 497.19,649.59 498.53,650.57 498.02,648.99 499.37,648.01 497.70,648.01" fill="#1E90FF" stroke="#1E90FF" stroke-width="1.25" stroke-linejoin="round"/>
<polygon points="510.78,644.42 510.26,646.01 508.60,646.01 509.95,646.99 509.43,648.57 510.78,647.59 512.13,648.57 511.61,646.99 512.96,646.01 511.30,646.01" fill="#1E90FF" stroke="#1E90FF" stroke-width="1.25" stroke-linejoin="round"/>
<polygon points="524.38,643.52 523.86,645.10 522.19,645.10 523.54,646.08 523.03,647.67 524.38,646.69 525.72,647.67 525.21,646.08 526.56,645.10 524.89,645.10" fill="#1E90FF" stroke="#1E90FF" stroke-width="1.25" stroke-linejoin="round"/>
<polygon points="537.97,642.52 537.45,644.10 535.79,644.10 537.14,645.08 536.62,646.67 537.97,645.69 539.32,646.67 538.80,645.08 540.15,644.10 538.49,644.10" fill="#1E90FF" stroke="#1E90FF" stroke-width="1.25" stroke-linejoin="round"/>
<polygon points="551.56,642.04 551.05,643.63 549.38,643.63 550.73,644.61 550.22,646.19 551.56,645.21 552.91,646.19 552.40,644.61 553.75,643.63 552.08,643.63" fill="#1E90FF" stroke="#1E90FF" stroke-width="1.25" stroke-linejoin="round"/>
<polygon points="565.16,641.56 564.64,643.15 562.98,643.15 564.33,644.13 563.81,645.72 565.16,644.74 566.51,645.72 565.99,644.13 567.34,643.15 565.68,643.15" fill="#1E90FF" stroke="#1E90FF" stroke-width="1.25" stroke-linejoin="round"/>
<polygon points="578.75,641.33 578.24,642.91 576.57,642.91 577.92,643.89 577.41,645.48 578.75,644.50 580.10,645.48 579.59,643.89 580.94,642.91 579.27,642.91" fill="#1E90FF" stroke="#1E90FF" stroke-width="1.25" stroke-linejoin="round"/>
<polygon points="592.35,641.09 591.83,642.67 590.17,642.67 591.52,643.65 591.00,645.24 592.35,644.26 593.70,645.24 593.18,643.65 594.53,642.67 592.87,642.67" fill="#1E90FF" stroke="#1E90FF" stroke-width="1.25" stroke-linejoin="round"/>
<polygon points="605.94,640.97 605.43,642.56 603.76,642.56 605.11,643.54 604.60,645.12 605.94,644.14 607.29,645.12 606.78,643.54 608.13,642.56 606.46,642.56" fill="#1E90FF" stroke="#1E90FF" stroke-width="1.25" stroke-linejoin="round"/>
<polygon points="619.54,640.90 619.02,642.48 617.36,642.48 618.71,643.46 618.19,645.05 619.54,644.07 620.89,645.05 620.37,643.46 621.72,642.48 620.06,642.48" fill="#1E90FF" stroke="#1E90FF" stroke-width="1.25" stroke-linejoin="round"/>
<polygon points="633.13,640.85 632.62,642.44 630.95,642.44 632.30,643.42 631.79,645.00 633.13,644.02 634.48,645.00 633.97,643.42 635.32,642.44 633.65,642.44" fill="#1E90FF" stroke="#1E90FF" stroke-width="1.25" stroke-linejoin="round"/>
<polygon points="646.73,640.82 646.21,642.40 644.55,642.40 645.90,643.38 645.38,644.97 646.73,643.99 648.08,644.97 647.56,643.38 648.91,642.40 647.25,642.40" fill="#1E90FF" stroke="#1E90FF" stroke-width="1.25" stroke-linejoin="round"/>
<polygon points="660.32,640.80 659.81,642.39 658.14,642.39 659.49,643.37 658.98,644.95 660.32,643.97 661.67,644.95 661.16,643.37 662.51,642.39 660.84,642.39" fill="#1E90FF" stroke="#1E90FF" stroke-width="1.25" stroke-linejoin="round"/>
<polygon points="673.92,640.81 673.40,642.39 671.74,642.39 673.09,643.37 672.57,644.96 673.92,643.98 675.27,644.96 674.75,643.37 676.10,642.39 674.44,642.39" fill="#1E90FF" stroke="#1E90FF" stroke-width="1.25" stroke-linejoin="round"/>
<polygon points="687.51,640.83 687.00,642.42 685.33,642.42 686.68,643.40 686.17,644.98 687.51,644.00 688.86,644.98 688.35,643.40 689.70,642.42 688.03,642.42" fill="#1E90FF" stroke="#1E90FF" stroke-width="1.25" stroke-linejoin="round"/>
<polygon points="701.11,640.87 700.59,642.46 698.93,642.46 700.28,643.44 699.76,645.02 701.11,644.04 702.46,645.02 701.94,643.44 703.29,642.46 701.63,642.46" fill="#1E90FF" stroke="#1E90FF" stroke-width="1.25" stroke-linejoin="round"/>
<polygon points="714.70,640.92 714.19,642.51 712.52,642.51 713.87,643.49 713.36,645.07 714.70,644.09 716.05,645.07 715.54,643.49 716.89,642.51 715.22,642.51" fill="#1E90FF" stroke="#1E90FF" stroke-width="1.25" stroke-linejoin="round"/>
<polygon points="728.30,640.99 727.78,642.58 726.12,642.58 727.47,643.56 726.95,645.14 728.30,644.16 729.65,645.14 729.13,643.56 730.48,642.58 728.82,642.58" fill="#1E90FF" stroke="#1E90FF" stroke-width="1.25" stroke-linejoin="round"/>
<polyline points="456.40,643.76 470.00,642.34 483.59,641.53 497.19,641.15 510.78,641.00 524.38,640.91 537.97,640.91 551.56,641.00 565.16,641.10 578.75,641.19 592.35,641.29 605.94,641.38 619.54,641.48 633.13,641.60 646.73,641.73 660.32,641.86 673.92,641.98 687.51,642.11 701.11,642.23 714.70,642.36 728.30,642.48" fill="none" stroke="#E9967A" stroke-width="1.30" stroke-linejoin="round"/>
<polygon points="456.40,641.60 455.92,643.10 454.35,643.10 455.62,644.02 455.13,645.51 456.40,644.59 457.67,645.51 457.18,644.02 458.45,643.10 456.88,643.10" fill="#E9967A" stroke="#E9967A" stroke-width="1.25" stroke-linejoin="round"/>
<polygon points="470.00,640.18 469.51,641.67 467.94,641.67 469.21,642.59 468.73,644.08 470.00,643.16 471.26,644.08 470.78,642.59 472.05,641.67 470.48,641.67" fill="#E9967A" stroke="#E9967A" stroke-width="1.25" stroke-linejoin="round"/>
<polygon points="483.59,639.37 483.11,640.86 481.54,640.86 482.81,641.78 482.32,643.27 483.59,642.35 484.86,643.27 484.37,641.78 485.64,640.86 484.07,640.86" fill="#E9967A" stroke="#E9967A" stroke-width="1.25" stroke-linejoin="round"/>
<polygon points="497.19,638.99 496.70,640.48 495.13,640.48 496.40,641.40 495.92,642.89 497.19,641.97 498.45,642.89 497.97,641.40 499.24,640.48 497.67,640.48" fill="#E9967A" stroke="#E9967A" stroke-width="1.25" stroke-linejoin="round"/>
<polygon points="510.78,638.84 510.30,640.34 508.73,640.34 510.00,641.26 509.51,642.75 510.78,641.83 512.05,642.75 511.56,641.26 512.83,640.34 511.26,640.34" fill="#E9967A" stroke="#E9967A" stroke-width="1.25" stroke-linejoin="round"/>
<polygon points="524.38,638.75 523.89,640.24 522.32,640.24 523.59,641.16 523.11,642.66 524.38,641.73 525.64,642.66 525.16,641.16 526.43,640.24 524.86,640.24" fill="#E9967A" stroke="#E9967A" stroke-width="1.25" stroke-linejoin="round"/>
<polygon points="537.97,638.75 537.49,640.24 535.92,640.24 537.19,641.16 536.70,642.66 537.97,641.73 539.24,642.66 538.75,641.16 540.02,640.24 538.45,640.24" fill="#E9967A" stroke="#E9967A" stroke-width="1.25" stroke-linejoin="round"/>
<polygon points="551.56,638.84 551.08,640.34 549.51,640.34 550.78,641.26 550.30,642.75 551.56,641.83 552.83,642.75 552.35,641.26 553.62,640.34 552.05,640.34" fill="#E9967A" stroke="#E9967A" stroke-width="1.25" stroke-linejoin="round"/>
<polygon points="565.16,638.94 564.68,640.43 563.11,640.43 564.38,641.35 563.89,642.85 565.16,641.92 566.43,642.85 565.94,641.35 567.21,640.43 565.64,640.43" fill="#E9967A" stroke="#E9967A" stroke-width="1.25" stroke-linejoin="round"/>
<polygon points="578.75,639.03 578.27,640.53 576.70,640.53 577.97,641.45 577.49,642.94 578.75,642.02 580.02,642.94 579.54,641.45 580.81,640.53 579.24,640.53" fill="#E9967A" stroke="#E9967A" stroke-width="1.25" stroke-linejoin="round"/>
<polygon points="592.35,639.13 591.87,640.62 590.30,640.62 591.57,641.54 591.08,643.04 592.35,642.11 593.62,643.04 593.13,641.54 594.40,640.62 592.83,640.62" fill="#E9967A" stroke="#E9967A" stroke-width="1.25" stroke-linejoin="round"/>
<polygon points="605.94,639.22 605.46,640.71 603.89,640.71 605.16,641.63 604.68,643.13 605.94,642.20 607.21,643.13 606.73,641.63 608.00,640.71 606.43,640.71" fill="#E9967A" stroke="#E9967A" stroke-width="1.25" stroke-linejoin="round"/>
<polygon points="619.54,639.32 619.06,640.81 617.49,640.81 618.76,641.73 618.27,643.23 619.54,642.30 620.81,643.23 620.32,641.73 621.59,640.81 620.02,640.81" fill="#E9967A" stroke="#E9967A" stroke-width="1.25" stroke-linejoin="round"/>
<polygon points="633.13,639.44 632.65,640.93 631.08,640.93 632.35,641.85 631.87,643.35 633.13,642.42 634.40,643.35 633.92,641.85 635.19,640.93 633.62,640.93" fill="#E9967A" stroke="#E9967A" stroke-width="1.25" stroke-linejoin="round"/>
<polygon points="646.73,639.57 646.25,641.06 644.68,641.06 645.95,641.99 645.46,643.48 646.73,642.56 648.00,643.48 647.51,641.99 648.78,641.06 647.21,641.06" fill="#E9967A" stroke="#E9967A" stroke-width="1.25" stroke-linejoin="round"/>
<polygon points="660.32,639.70 659.84,641.19 658.27,641.19 659.54,642.11 659.06,643.61 660.32,642.69 661.59,643.61 661.11,642.11 662.38,641.19 660.81,641.19" fill="#E9967A" stroke="#E9967A" stroke-width="1.25" stroke-linejoin="round"/>
<polygon points="673.92,639.82 673.44,641.32 671.87,641.32 673.14,642.24 672.65,643.73 673.92,642.81 675.19,643.73 674.70,642.24 675.97,641.32 674.40,641.32" fill="#E9967A" stroke="#E9967A" stroke-width="1.25" stroke-linejoin="round"/>
<polygon points="687.51,639.95 687.03,641.44 685.46,641.44 686.73,642.36 686.25,643.85 687.51,642.93 688.78,643.85 688.30,642.36 689.57,641.44 688.00,641.44" fill="#E9967A" stroke="#E9967A" stroke-width="1.25" stroke-linejoin="round"/>
<polygon points="701.11,640.07 700.63,641.56 699.06,641.56 700.33,642.49 699.84,643.98 701.11,643.06 702.38,643.98 701.89,642.49 703.16,641.56 701.59,641.56" fill="#E9967A" stroke="#E9967A" stroke-width="1.25" stroke-linejoin="round"/>
<polygon points="714.70,640.20 714.22,641.69 712.65,641.69 713.92,642.61 713.44,644.10 714.70,643.18 715.97,644.10 715.49,642.61 716.76,641.69 715.19,641.69" fill="#E9967A" stroke="#E9967A" stroke-width="1.25" stroke-linejoin="round"/>
<polygon points="728.30,640.32 727.82,641.81 726.25,641.81 727.52,642.73 727.03,644.23 728.30,643.30 729.57,644.23 729.08,642.73 730.35,641.81 728.78,641.81" fill="#E9967A" stroke="#E9967A" stroke-width="1.25" stroke-linejoin="round"/>
</g>
<line x1="456.40" y1="649.00" x2="728.30" y2="649.00" stroke="#111" stroke-width="1.3" stroke-dasharray="4.1,2.4"/>
<rect x="456.40" y="625.20" width="271.90" height="214.20" fill="none" stroke="#444" stroke-width="1.1"/>
<line x1="456.40" y1="839.40" x2="456.40" y2="842.40" stroke="#444" stroke-width="0.9"/>
<text x="456.40" y="855.40" text-anchor="middle" font-family='"Liberation Serif", serif' font-size="14.4" fill="#111">1.00</text>
<line x1="490.39" y1="839.40" x2="490.39" y2="842.40" stroke="#444" stroke-width="0.9"/>
<text x="490.39" y="855.40" text-anchor="middle" font-family='"Liberation Serif", serif' font-size="14.4" fill="#111">1.25</text>
<line x1="524.38" y1="839.40" x2="524.38" y2="842.40" stroke="#444" stroke-width="0.9"/>
<text x="524.38" y="855.40" text-anchor="middle" font-family='"Liberation Serif", serif' font-size="14.4" fill="#111">1.50</text>
<line x1="558.36" y1="839.40" x2="558.36" y2="842.40" stroke="#444" stroke-width="0.9"/>
<text x="558.36" y="855.40" text-anchor="middle" font-family='"Liberation Serif", serif' font-size="14.4" fill="#111">1.75</text>
<line x1="592.35" y1="839.40" x2="592.35" y2="842.40" stroke="#444" stroke-width="0.9"/>
<text x="592.35" y="855.40" text-anchor="middle" font-family='"Liberation Serif", serif' font-size="14.4" fill="#111">2.00</text>
<line x1="626.34" y1="839.40" x2="626.34" y2="842.40" stroke="#444" stroke-width="0.9"/>
<text x="626.34" y="855.40" text-anchor="middle" font-family='"Liberation Serif", serif' font-size="14.4" fill="#111">2.25</text>
<line x1="660.32" y1="839.40" x2="660.32" y2="842.40" stroke="#444" stroke-width="0.9"/>
<text x="660.32" y="855.40" text-anchor="middle" font-family='"Liberation Serif", serif' font-size="14.4" fill="#111">2.50</text>
<line x1="694.31" y1="839.40" x2="694.31" y2="842.40" stroke="#444" stroke-width="0.9"/>
<text x="694.31" y="855.40" text-anchor="middle" font-family='"Liberation Serif", serif' font-size="14.4" fill="#111">2.75</text>
<line x1="728.30" y1="839.40" x2="728.30" y2="842.40" stroke="#444" stroke-width="0.9"/>
<text x="728.30" y="855.40" text-anchor="middle" font-family='"Liberation Serif", serif' font-size="14.4" fill="#111">3.00</text>
<line x1="453.40" y1="625.20" x2="456.40" y2="625.20" stroke="#444" stroke-width="0.9"/>
<text x="449.90" y="630.10" text-anchor="end" font-family='"Liberation Serif", serif' font-size="14.4" fill="#111">0.5</text>
<line x1="453.40" y1="649.00" x2="456.40" y2="649.00" stroke="#444" stroke-width="0.9"/>
<text x="449.90" y="653.90" text-anchor="end" font-family='"Liberation Serif", serif' font-size="14.4" fill="#111">0.0</text>
<line x1="453.40" y1="672.80" x2="456.40" y2="672.80" stroke="#444" stroke-width="0.9"/>
<text x="449.90" y="677.70" text-anchor="end" font-family='"Liberation Serif", serif' font-size="14.4" fill="#111">−0.5</text>
<line x1="453.40" y1="696.60" x2="456.40" y2="696.60" stroke="#444" stroke-width="0.9"/>
<text x="449.90" y="701.50" text-anchor="end" font-family='"Liberation Serif", serif' font-size="14.4" fill="#111">−1.0</text>
<line x1="453.40" y1="720.40" x2="456.40" y2="720.40" stroke="#444" stroke-width="0.9"/>
<text x="449.90" y="725.30" text-anchor="end" font-family='"Liberation Serif", serif' font-size="14.4" fill="#111">−1.5</text>
<line x1="453.40" y1="744.20" x2="456.40" y2="744.20" stroke="#444" stroke-width="0.9"/>
<text x="449.90" y="749.10" text-anchor="end" font-family='"Liberation Serif", serif' font-size="14.4" fill="#111">−2.0</text>
<line x1="453.40" y1="768.00" x2="456.40" y2="768.00" stroke="#444" stroke-width="0.9"/>
<text x="449.90" y="772.90" text-anchor="end" font-family='"Liberation Serif", serif' font-size="14.4" fill="#111">−2.5</text>
<line x1="453.40" y1="791.80" x2="456.40" y2="791.80" stroke="#444" stroke-width="0.9"/>
<text x="449.90" y="796.70" text-anchor="end" font-family='"Liberation Serif", serif' font-size="14.4" fill="#111">−3.0</text>
<line x1="453.40" y1="815.60" x2="456.40" y2="815.60" stroke="#444" stroke-width="0.9"/>
<text x="449.90" y="820.50" text-anchor="end" font-family='"Liberation Serif", serif' font-size="14.4" fill="#111">−3.5</text>
<line x1="453.40" y1="839.40" x2="456.40" y2="839.40" stroke="#444" stroke-width="0.9"/>
<text x="449.90" y="844.30" text-anchor="end" font-family='"Liberation Serif", serif' font-size="14.4" fill="#111">−4.0</text>
<rect x="660.50" y="667.90" width="68.20" height="160.50" rx="1.5" fill="#fff" fill-opacity="0.85" stroke="#d0d0d0" stroke-width="0.8"/>
<line x1="662.50" y1="677.80" x2="683.60" y2="677.80" stroke="#FF7F50" stroke-width="1.4"/>
<circle cx="673.05" cy="677.80" r="2.90" fill="#FF7F50"/>
<text x="691.8" y="681.4" font-family='"Liberation Serif", serif' font-size="10.0" fill="#111"><tspan font-style="italic" font-size="11.2">β</tspan><tspan font-size="8.0" dy="2.4">1</tspan><tspan dy="-2.4"> = 0.0</tspan></text>
<line x1="662.50" y1="695.34" x2="683.60" y2="695.34" stroke="#FF0000" stroke-width="1.4"/>
<circle cx="673.05" cy="695.34" r="2.90" fill="#FF0000"/>
<text x="691.8" y="698.9" font-family='"Liberation Serif", serif' font-size="10.0" fill="#111"><tspan font-style="italic" font-size="11.2">β</tspan><tspan font-size="8.0" dy="2.4">1</tspan><tspan dy="-2.4"> =0.1</tspan></text>
<line x1="662.50" y1="712.88" x2="683.60" y2="712.88" stroke="#6B8E23" stroke-width="1.4"/>
<circle cx="673.05" cy="712.88" r="2.90" fill="#6B8E23"/>
<text x="691.8" y="716.5" font-family='"Liberation Serif", serif' font-size="10.0" fill="#111"><tspan font-style="italic" font-size="11.2">β</tspan><tspan font-size="8.0" dy="2.4">1</tspan><tspan dy="-2.4"> =0.2</tspan></text>
<line x1="662.50" y1="730.42" x2="683.60" y2="730.42" stroke="#D2691E" stroke-width="1.4"/>
<polygon points="673.05,727.72 670.35,733.12 675.75,733.12" fill="#D2691E"/>
<text x="691.8" y="734.0" font-family='"Liberation Serif", serif' font-size="10.0" fill="#111"><tspan font-style="italic" font-size="11.2">β</tspan><tspan font-size="8.0" dy="2.4">1</tspan><tspan dy="-2.4"> =0.3</tspan></text>
<line x1="662.50" y1="747.96" x2="683.60" y2="747.96" stroke="#6A5ACD" stroke-width="1.4"/>
<polygon points="673.05,745.26 670.35,750.66 675.75,750.66" fill="#6A5ACD"/>
<text x="691.8" y="751.6" font-family='"Liberation Serif", serif' font-size="10.0" fill="#111"><tspan font-style="italic" font-size="11.2">β</tspan><tspan font-size="8.0" dy="2.4">1</tspan><tspan dy="-2.4"> =0.4</tspan></text>
<line x1="662.50" y1="765.50" x2="683.60" y2="765.50" stroke="#DDA0DD" stroke-width="1.4"/>
<polygon points="673.05,762.80 670.35,768.20 675.75,768.20" fill="#DDA0DD"/>
<text x="691.8" y="769.1" font-family='"Liberation Serif", serif' font-size="10.0" fill="#111"><tspan font-style="italic" font-size="11.2">β</tspan><tspan font-size="8.0" dy="2.4">1</tspan><tspan dy="-2.4"> =0.5</tspan></text>
<line x1="662.50" y1="783.04" x2="683.60" y2="783.04" stroke="#9370DB" stroke-width="1.4"/>
<polygon points="673.05,780.74 672.53,782.33 670.86,782.33 672.21,783.31 671.70,784.90 673.05,783.92 674.40,784.90 673.89,783.31 675.24,782.33 673.57,782.33" fill="#9370DB" stroke="#9370DB" stroke-width="1.25" stroke-linejoin="round"/>
<text x="691.8" y="786.6" font-family='"Liberation Serif", serif' font-size="10.0" fill="#111"><tspan font-style="italic" font-size="11.2">β</tspan><tspan font-size="8.0" dy="2.4">1</tspan><tspan dy="-2.4"> =0.6</tspan></text>
<line x1="662.50" y1="800.58" x2="683.60" y2="800.58" stroke="#1E90FF" stroke-width="1.4"/>
<polygon points="673.05,798.28 672.53,799.87 670.86,799.87 672.21,800.85 671.70,802.44 673.05,801.46 674.40,802.44 673.89,800.85 675.24,799.87 673.57,799.87" fill="#1E90FF" stroke="#1E90FF" stroke-width="1.25" stroke-linejoin="round"/>
<text x="691.8" y="804.2" font-family='"Liberation Serif", serif' font-size="10.0" fill="#111"><tspan font-style="italic" font-size="11.2">β</tspan><tspan font-size="8.0" dy="2.4">1</tspan><tspan dy="-2.4"> =0.7</tspan></text>
<line x1="662.50" y1="818.12" x2="683.60" y2="818.12" stroke="#E9967A" stroke-width="1.4"/>
<polygon points="673.05,815.82 672.53,817.41 670.86,817.41 672.21,818.39 671.70,819.98 673.05,819.00 674.40,819.98 673.89,818.39 675.24,817.41 673.57,817.41" fill="#E9967A" stroke="#E9967A" stroke-width="1.25" stroke-linejoin="round"/>
<text x="691.8" y="821.7" font-family='"Liberation Serif", serif' font-size="10.0" fill="#111"><tspan font-style="italic" font-size="11.2">β</tspan><tspan font-size="8.0" dy="2.4">1</tspan><tspan dy="-2.4"> =0.8</tspan></text>
<text x="592.6" y="639.6" font-family='"Liberation Serif", serif' font-size="14.4" fill="#111">stable</text>
<text x="592.8" y="744.0" font-family='"Liberation Serif", serif' font-size="14.4" fill="#111">unstable</text>
<text x="592.35" y="871.50" text-anchor="middle" font-family='"Liberation Serif", serif' font-weight="bold" font-size="14.4" fill="#111">Time gap (s)</text>
<text transform="translate(418.60,734.30) rotate(-90)" text-anchor="middle" font-family='"Liberation Serif", serif' font-weight="bold" font-size="14.4" fill="#111">Stability</text>
<text x="580.0" y="896.5" text-anchor="middle" font-family='"Liberation Serif", serif' font-size="16" fill="#111">(<tspan font-weight="bold">f</tspan>)</text>
</svg>
</body></html>
